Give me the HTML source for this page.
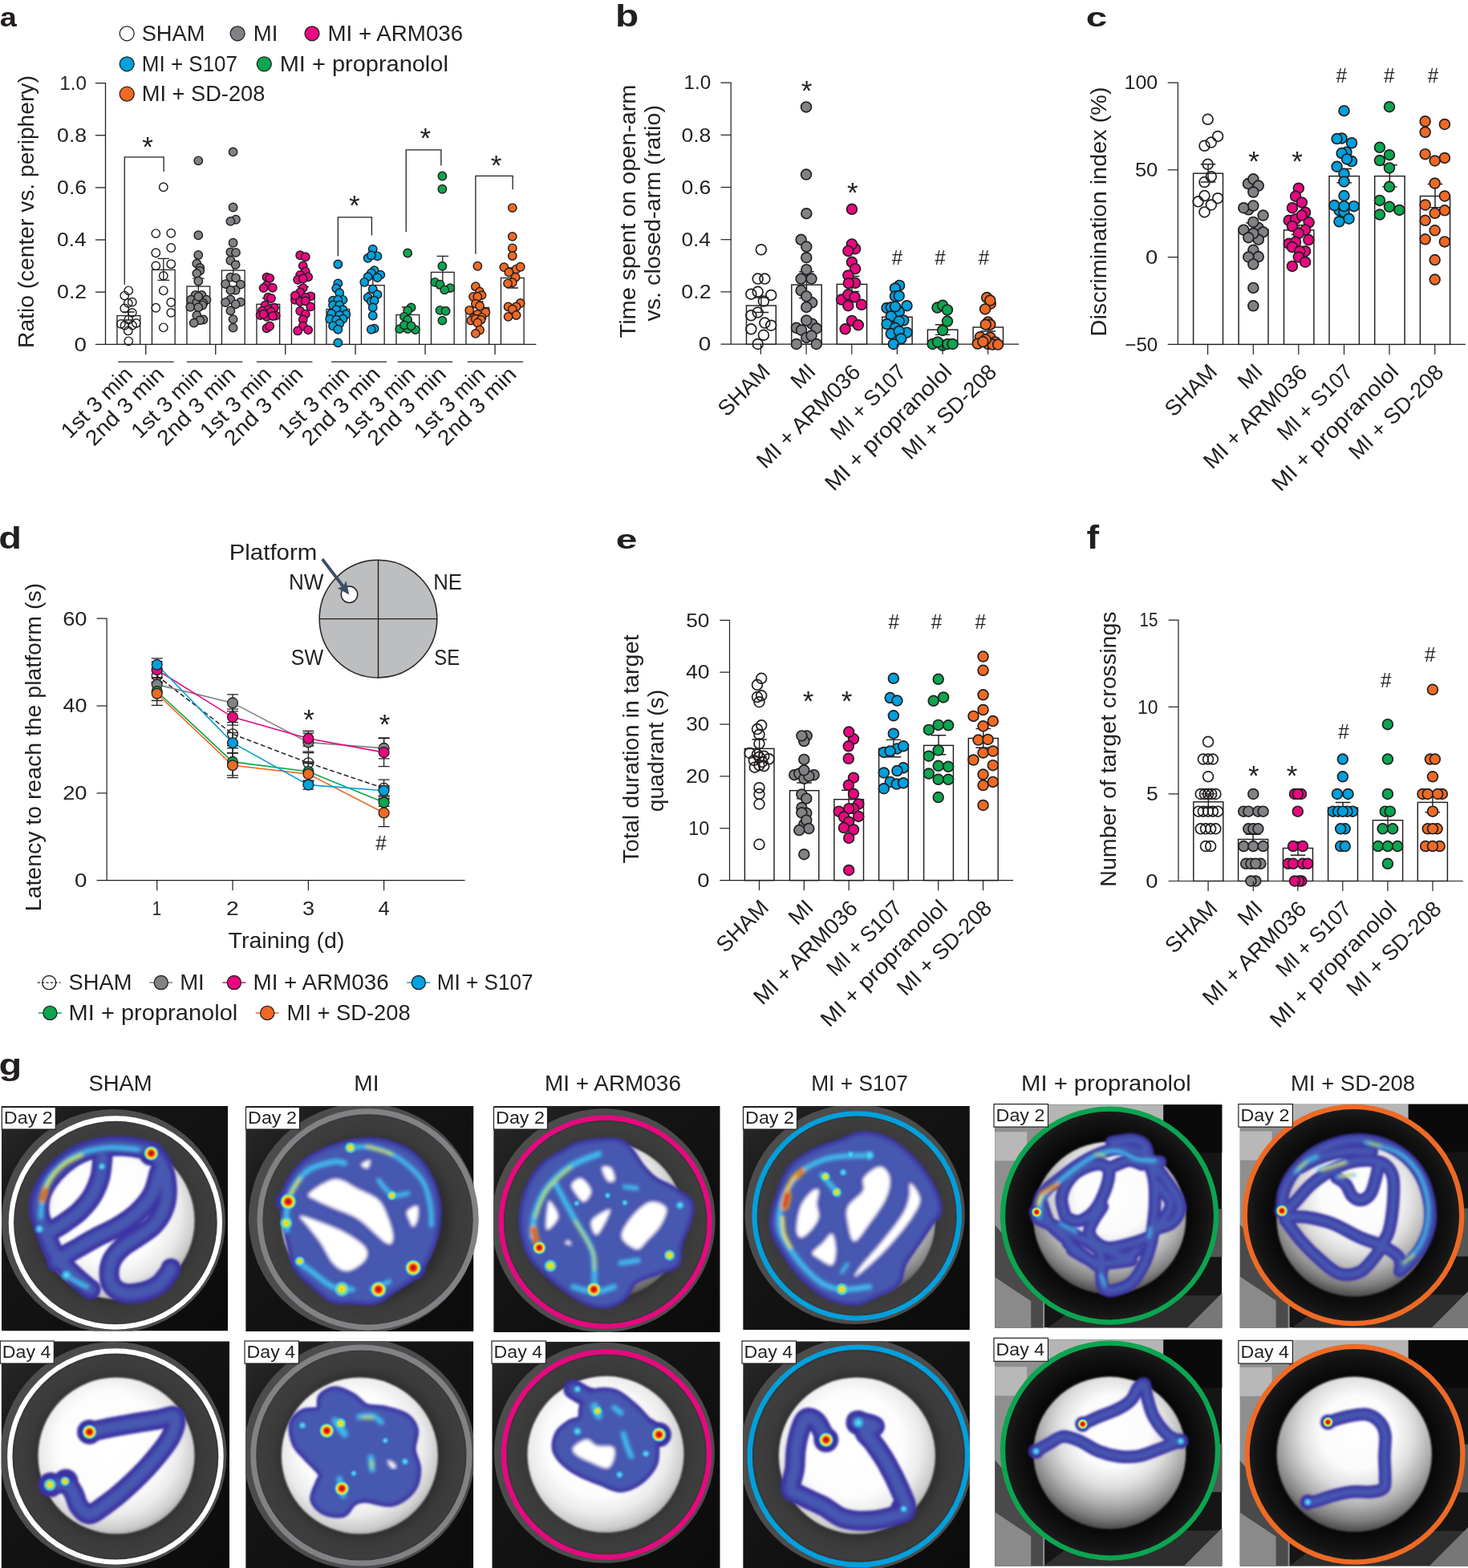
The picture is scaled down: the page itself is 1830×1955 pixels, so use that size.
<!DOCTYPE html>
<html lang="en">
<head>
<meta charset="utf-8">
<title>Figure</title>
<style>
html,body{margin:0;padding:0;background:#fff;}
body{width:1830px;height:1955px;overflow:hidden;}
svg{display:block;font-family:'Liberation Sans', sans-serif;}
text{white-space:pre;}
</style>
</head>
<body>
<svg width="1830" height="1955" viewBox="0 0 1830 1955">
<defs>

<filter id="bl" x="-20%" y="-20%" width="140%" height="140%"><feGaussianBlur stdDeviation="1.5"/></filter>
<filter id="blc" x="-20%" y="-20%" width="140%" height="140%"><feGaussianBlur stdDeviation="2.8"/></filter>
<filter id="bl2" x="-20%" y="-20%" width="140%" height="140%"><feGaussianBlur stdDeviation="2.0"/></filter>
<filter id="bl3" x="-30%" y="-30%" width="160%" height="160%"><feGaussianBlur stdDeviation="1.3"/></filter>
<filter id="bl6" x="-30%" y="-30%" width="160%" height="160%"><feGaussianBlur stdDeviation="6"/></filter>
<radialGradient id="disc2" cx="0.52" cy="0.36" r="0.66">
<stop offset="0" stop-color="#ffffff"/><stop offset="0.36" stop-color="#fbfbfb"/><stop offset="0.55" stop-color="#dedede"/><stop offset="0.72" stop-color="#b0b0b0"/><stop offset="0.86" stop-color="#808080"/><stop offset="1" stop-color="#3a3a3a"/>
</radialGradient>
<radialGradient id="disc" cx="0.46" cy="0.43" r="0.6">
<stop offset="0" stop-color="#ffffff"/><stop offset="0.55" stop-color="#fdfdfd"/><stop offset="0.75" stop-color="#ebebeb"/><stop offset="0.9" stop-color="#cdcdcd"/><stop offset="1" stop-color="#a0a0a0"/>
</radialGradient>
<radialGradient id="wallg" cx="0.5" cy="0.5" r="0.5">
<stop offset="0.7" stop-color="#2e2e2e"/><stop offset="0.8" stop-color="#3a3a3a"/><stop offset="0.94" stop-color="#3e3e3e"/><stop offset="1" stop-color="#2a2a2a"/>
</radialGradient>
<radialGradient id="wallk" cx="0.5" cy="0.5" r="0.5">
<stop offset="0.7" stop-color="#060606"/><stop offset="0.9" stop-color="#141414"/><stop offset="0.97" stop-color="#1c1c1c"/><stop offset="1" stop-color="#3a3a3a"/>
</radialGradient>
<radialGradient id="hot" cx="0.5" cy="0.5" r="0.5">
<stop offset="0" stop-color="#a50f15"/><stop offset="0.28" stop-color="#e8251a"/><stop offset="0.48" stop-color="#f9a01b"/><stop offset="0.62" stop-color="#f3ea2a"/><stop offset="0.78" stop-color="#5fd6d0" stop-opacity="0.9"/><stop offset="1" stop-color="#35b0e6" stop-opacity="0"/>
</radialGradient>
<radialGradient id="warm" cx="0.5" cy="0.5" r="0.5">
<stop offset="0" stop-color="#f7b21f"/><stop offset="0.22" stop-color="#f3e52a"/><stop offset="0.45" stop-color="#a8e060"/><stop offset="0.68" stop-color="#4fd0e0" stop-opacity="0.9"/><stop offset="1" stop-color="#35a0e6" stop-opacity="0"/>
</radialGradient>
<radialGradient id="cyan" cx="0.5" cy="0.5" r="0.5">
<stop offset="0" stop-color="#6fe4e4"/><stop offset="0.5" stop-color="#38b4ea" stop-opacity="0.85"/><stop offset="1" stop-color="#3a7fd8" stop-opacity="0"/>
</radialGradient>
<linearGradient id="bgA" x1="0" y1="0" x2="1" y2="1">
<stop offset="0" stop-color="#2c2c2c"/><stop offset="0.25" stop-color="#161616"/><stop offset="1" stop-color="#0b0b0b"/>
</linearGradient>

</defs>
<rect x="0" y="0" width="1830" height="1955" fill="#ffffff"/>
<text transform="translate(0.80 33.30)" x="-0.95" y="0" font-size="33.5" font-weight="700" textLength="21.11" lengthAdjust="spacingAndGlyphs" fill="#231f20">a</text>
<circle cx="158.20" cy="41.80" r="9.00" fill="#ffffff" stroke="#231f20" stroke-width="1.3" />
<text transform="translate(177.90 51.10)" x="-1.23" y="0" font-size="27.5" textLength="78.79" lengthAdjust="spacingAndGlyphs" fill="#231f20">SHAM</text>
<circle cx="296.10" cy="41.80" r="9.00" fill="#808285" stroke="#231f20" stroke-width="1.3" />
<text transform="translate(318.00 51.10)" x="-2.20" y="0" font-size="27.5" fill="#231f20">MI</text>
<circle cx="389.00" cy="41.80" r="9.00" fill="#e6097f" stroke="#231f20" stroke-width="1.3" />
<text transform="translate(410.70 51.10)" x="-2.22" y="0" font-size="27.5" textLength="168.65" lengthAdjust="spacingAndGlyphs" fill="#231f20">MI + ARM036</text>
<circle cx="158.20" cy="79.80" r="9.00" fill="#00a0dc" stroke="#231f20" stroke-width="1.3" />
<text transform="translate(178.90 88.60)" x="-2.08" y="0" font-size="27.5" textLength="119.17" lengthAdjust="spacingAndGlyphs" fill="#231f20">MI + S107</text>
<circle cx="329.30" cy="79.80" r="9.00" fill="#0ca550" stroke="#231f20" stroke-width="1.3" />
<text transform="translate(351.00 88.60)" x="-2.32" y="0" font-size="27.5" textLength="210.17" lengthAdjust="spacingAndGlyphs" fill="#231f20">MI + propranolol</text>
<circle cx="158.20" cy="117.20" r="9.00" fill="#ee6a25" stroke="#231f20" stroke-width="1.3" />
<text transform="translate(178.90 126.20)" x="-2.18" y="0" font-size="27.5" textLength="153.60" lengthAdjust="spacingAndGlyphs" fill="#231f20">MI + SD-208</text>
<path d="M118.90 103.60H131.50V429.30" stroke="#231f20" stroke-width="1.3" fill="none" />
<line x1="118.90" y1="429.30" x2="668.40" y2="429.30" stroke="#231f20" stroke-width="1.3" />
<text transform="translate(107.00 437.60)" x="-14.47" y="0" font-size="24" textLength="15.48" lengthAdjust="spacingAndGlyphs" fill="#231f20">0</text>
<line x1="118.90" y1="364.16" x2="131.50" y2="364.16" stroke="#231f20" stroke-width="1.3" />
<text transform="translate(107.00 372.46)" x="-35.94" y="0" font-size="24" textLength="37.14" lengthAdjust="spacingAndGlyphs" fill="#231f20">0.2</text>
<line x1="118.90" y1="299.02" x2="131.50" y2="299.02" stroke="#231f20" stroke-width="1.3" />
<text transform="translate(107.00 307.32)" x="-35.92" y="0" font-size="24" textLength="36.58" lengthAdjust="spacingAndGlyphs" fill="#231f20">0.4</text>
<line x1="118.90" y1="233.88" x2="131.50" y2="233.88" stroke="#231f20" stroke-width="1.3" />
<text transform="translate(107.00 242.18)" x="-35.93" y="0" font-size="24" textLength="37.00" lengthAdjust="spacingAndGlyphs" fill="#231f20">0.6</text>
<line x1="118.90" y1="168.74" x2="131.50" y2="168.74" stroke="#231f20" stroke-width="1.3" />
<text transform="translate(107.00 177.04)" x="-35.93" y="0" font-size="24" textLength="37.00" lengthAdjust="spacingAndGlyphs" fill="#231f20">0.8</text>
<text transform="translate(107.00 111.90)" x="-32.82" y="0" font-size="24" textLength="33.67" lengthAdjust="spacingAndGlyphs" fill="#231f20">1.0</text>
<text transform="translate(42.30 263.80) rotate(-90)" x="-170.15" y="0" font-size="27.5" textLength="339.75" lengthAdjust="spacingAndGlyphs" fill="#231f20">Ratio (center vs. periphery)</text>
<rect x="145.95" y="393.60" width="28.70" height="35.70" fill="#fff" stroke="#231f20" stroke-width="1.3" />
<rect x="189.45" y="336.40" width="28.70" height="92.90" fill="#fff" stroke="#231f20" stroke-width="1.3" />
<rect x="232.95" y="357.00" width="28.70" height="72.30" fill="#fff" stroke="#231f20" stroke-width="1.3" />
<rect x="276.45" y="337.10" width="28.70" height="92.20" fill="#fff" stroke="#231f20" stroke-width="1.3" />
<rect x="319.95" y="379.30" width="28.70" height="50.00" fill="#fff" stroke="#231f20" stroke-width="1.3" />
<rect x="363.45" y="366.50" width="28.70" height="62.80" fill="#fff" stroke="#231f20" stroke-width="1.3" />
<rect x="406.95" y="385.50" width="28.70" height="43.80" fill="#fff" stroke="#231f20" stroke-width="1.3" />
<rect x="450.45" y="355.70" width="28.70" height="73.60" fill="#fff" stroke="#231f20" stroke-width="1.3" />
<rect x="493.95" y="392.50" width="28.70" height="36.80" fill="#fff" stroke="#231f20" stroke-width="1.3" />
<rect x="537.45" y="339.40" width="28.70" height="89.90" fill="#fff" stroke="#231f20" stroke-width="1.3" />
<rect x="580.95" y="383.50" width="28.70" height="45.80" fill="#fff" stroke="#231f20" stroke-width="1.3" />
<rect x="624.45" y="346.50" width="28.70" height="82.80" fill="#fff" stroke="#231f20" stroke-width="1.3" />
<path d="M153.00 389.00H167.60M160.30 389.00V399.00M153.00 399.00H167.60" stroke="#231f20" stroke-width="1.3" fill="none" />
<path d="M196.50 322.40H211.10M203.80 322.40V349.30M196.50 349.30H211.10" stroke="#231f20" stroke-width="1.3" fill="none" />
<path d="M240.00 347.10H254.60M247.30 347.10V367.00M240.00 367.00H254.60" stroke="#231f20" stroke-width="1.3" fill="none" />
<path d="M283.50 325.60H298.10M290.80 325.60V348.50M283.50 348.50H298.10" stroke="#231f20" stroke-width="1.3" fill="none" />
<path d="M327.00 372.00H341.60M334.30 372.00V386.00M327.00 386.00H341.60" stroke="#231f20" stroke-width="1.3" fill="none" />
<path d="M370.50 357.50H385.10M377.80 357.50V375.50M370.50 375.50H385.10" stroke="#231f20" stroke-width="1.3" fill="none" />
<path d="M414.00 379.00H428.60M421.30 379.00V392.00M414.00 392.00H428.60" stroke="#231f20" stroke-width="1.3" fill="none" />
<path d="M457.50 346.50H472.10M464.80 346.50V364.50M457.50 364.50H472.10" stroke="#231f20" stroke-width="1.3" fill="none" />
<path d="M501.00 383.00H515.60M508.30 383.00V402.00M501.00 402.00H515.60" stroke="#231f20" stroke-width="1.3" fill="none" />
<path d="M544.50 319.30H559.10M551.80 319.30V359.50M544.50 359.50H559.10" stroke="#231f20" stroke-width="1.3" fill="none" />
<path d="M588.00 376.00H602.60M595.30 376.00V391.00M588.00 391.00H602.60" stroke="#231f20" stroke-width="1.3" fill="none" />
<path d="M631.50 334.00H646.10M638.80 334.00V359.00M631.50 359.00H646.10" stroke="#231f20" stroke-width="1.3" fill="none" />
<circle cx="160.27" cy="362.33" r="5.20" fill="none" stroke="#231f20" stroke-width="1.45" />
<circle cx="155.26" cy="368.59" r="5.20" fill="none" stroke="#231f20" stroke-width="1.45" />
<circle cx="164.75" cy="376.64" r="5.20" fill="none" stroke="#231f20" stroke-width="1.45" />
<circle cx="159.74" cy="377.90" r="5.20" fill="none" stroke="#231f20" stroke-width="1.45" />
<circle cx="155.26" cy="384.52" r="5.20" fill="none" stroke="#231f20" stroke-width="1.45" />
<circle cx="164.75" cy="389.89" r="5.20" fill="none" stroke="#231f20" stroke-width="1.45" />
<circle cx="160.27" cy="398.48" r="5.20" fill="none" stroke="#231f20" stroke-width="1.45" />
<circle cx="150.79" cy="403.85" r="5.20" fill="none" stroke="#231f20" stroke-width="1.45" />
<circle cx="155.44" cy="405.64" r="5.20" fill="none" stroke="#231f20" stroke-width="1.45" />
<circle cx="165.10" cy="405.64" r="5.20" fill="none" stroke="#231f20" stroke-width="1.45" />
<circle cx="169.76" cy="402.96" r="5.20" fill="none" stroke="#231f20" stroke-width="1.45" />
<circle cx="159.74" cy="412.44" r="5.20" fill="none" stroke="#231f20" stroke-width="1.45" />
<circle cx="160.27" cy="425.33" r="5.20" fill="none" stroke="#231f20" stroke-width="1.45" />
<circle cx="203.77" cy="233.28" r="5.20" fill="none" stroke="#231f20" stroke-width="1.45" />
<circle cx="194.28" cy="291.09" r="5.20" fill="none" stroke="#231f20" stroke-width="1.45" />
<circle cx="213.25" cy="290.73" r="5.20" fill="none" stroke="#231f20" stroke-width="1.45" />
<circle cx="213.25" cy="308.99" r="5.20" fill="none" stroke="#231f20" stroke-width="1.45" />
<circle cx="194.28" cy="315.25" r="5.20" fill="none" stroke="#231f20" stroke-width="1.45" />
<circle cx="194.28" cy="331.36" r="5.20" fill="none" stroke="#231f20" stroke-width="1.45" />
<circle cx="213.25" cy="329.21" r="5.20" fill="none" stroke="#231f20" stroke-width="1.45" />
<circle cx="203.77" cy="343.89" r="5.20" fill="none" stroke="#231f20" stroke-width="1.45" />
<circle cx="203.77" cy="362.33" r="5.20" fill="none" stroke="#231f20" stroke-width="1.45" />
<circle cx="213.25" cy="377.00" r="5.20" fill="none" stroke="#231f20" stroke-width="1.45" />
<circle cx="194.28" cy="383.80" r="5.20" fill="none" stroke="#231f20" stroke-width="1.45" />
<circle cx="213.25" cy="389.89" r="5.20" fill="none" stroke="#231f20" stroke-width="1.45" />
<circle cx="203.77" cy="408.32" r="5.20" fill="none" stroke="#231f20" stroke-width="1.45" />
<circle cx="247.26" cy="200.34" r="5.20" fill="#808285" stroke="#231f20" stroke-width="1.45" />
<circle cx="247.26" cy="293.24" r="5.20" fill="#808285" stroke="#231f20" stroke-width="1.45" />
<circle cx="247.26" cy="317.94" r="5.20" fill="#808285" stroke="#231f20" stroke-width="1.45" />
<circle cx="245.29" cy="328.68" r="5.20" fill="#808285" stroke="#231f20" stroke-width="1.45" />
<circle cx="249.23" cy="334.05" r="5.20" fill="#808285" stroke="#231f20" stroke-width="1.45" />
<circle cx="249.23" cy="337.62" r="5.20" fill="#808285" stroke="#231f20" stroke-width="1.45" />
<circle cx="245.29" cy="340.85" r="5.20" fill="#808285" stroke="#231f20" stroke-width="1.45" />
<circle cx="247.26" cy="350.51" r="5.20" fill="#808285" stroke="#231f20" stroke-width="1.45" />
<circle cx="243.50" cy="368.05" r="5.20" fill="#808285" stroke="#231f20" stroke-width="1.45" />
<circle cx="251.56" cy="368.05" r="5.20" fill="#808285" stroke="#231f20" stroke-width="1.45" />
<circle cx="238.13" cy="373.78" r="5.20" fill="#808285" stroke="#231f20" stroke-width="1.45" />
<circle cx="257.46" cy="373.78" r="5.20" fill="#808285" stroke="#231f20" stroke-width="1.45" />
<circle cx="245.29" cy="377.00" r="5.20" fill="#808285" stroke="#231f20" stroke-width="1.45" />
<circle cx="253.35" cy="377.90" r="5.20" fill="#808285" stroke="#231f20" stroke-width="1.45" />
<circle cx="237.24" cy="382.73" r="5.20" fill="#808285" stroke="#231f20" stroke-width="1.45" />
<circle cx="252.45" cy="380.58" r="5.20" fill="#808285" stroke="#231f20" stroke-width="1.45" />
<circle cx="247.26" cy="383.27" r="5.20" fill="#808285" stroke="#231f20" stroke-width="1.45" />
<circle cx="245.29" cy="393.11" r="5.20" fill="#808285" stroke="#231f20" stroke-width="1.45" />
<circle cx="253.35" cy="398.48" r="5.20" fill="#808285" stroke="#231f20" stroke-width="1.45" />
<circle cx="249.23" cy="399.38" r="5.20" fill="#808285" stroke="#231f20" stroke-width="1.45" />
<circle cx="241.71" cy="402.60" r="5.20" fill="#808285" stroke="#231f20" stroke-width="1.45" />
<circle cx="247.26" cy="369.84" r="5.20" fill="#808285" stroke="#231f20" stroke-width="1.45" />
<circle cx="290.57" cy="189.42" r="5.20" fill="#808285" stroke="#231f20" stroke-width="1.45" />
<circle cx="290.57" cy="258.51" r="5.20" fill="#808285" stroke="#231f20" stroke-width="1.45" />
<circle cx="293.98" cy="273.73" r="5.20" fill="#808285" stroke="#231f20" stroke-width="1.45" />
<circle cx="287.35" cy="275.87" r="5.20" fill="#808285" stroke="#231f20" stroke-width="1.45" />
<circle cx="290.57" cy="302.72" r="5.20" fill="#808285" stroke="#231f20" stroke-width="1.45" />
<circle cx="287.35" cy="314.36" r="5.20" fill="#808285" stroke="#231f20" stroke-width="1.45" />
<circle cx="293.98" cy="314.89" r="5.20" fill="#808285" stroke="#231f20" stroke-width="1.45" />
<circle cx="287.35" cy="324.74" r="5.20" fill="#808285" stroke="#231f20" stroke-width="1.45" />
<circle cx="293.62" cy="330.11" r="5.20" fill="#808285" stroke="#231f20" stroke-width="1.45" />
<circle cx="287.35" cy="345.68" r="5.20" fill="#808285" stroke="#231f20" stroke-width="1.45" />
<circle cx="293.98" cy="346.57" r="5.20" fill="#808285" stroke="#231f20" stroke-width="1.45" />
<circle cx="281.09" cy="354.09" r="5.20" fill="#808285" stroke="#231f20" stroke-width="1.45" />
<circle cx="299.88" cy="354.63" r="5.20" fill="#808285" stroke="#231f20" stroke-width="1.45" />
<circle cx="293.62" cy="361.79" r="5.20" fill="#808285" stroke="#231f20" stroke-width="1.45" />
<circle cx="287.35" cy="361.79" r="5.20" fill="#808285" stroke="#231f20" stroke-width="1.45" />
<circle cx="287.35" cy="373.42" r="5.20" fill="#808285" stroke="#231f20" stroke-width="1.45" />
<circle cx="281.09" cy="377.00" r="5.20" fill="#808285" stroke="#231f20" stroke-width="1.45" />
<circle cx="299.88" cy="376.64" r="5.20" fill="#808285" stroke="#231f20" stroke-width="1.45" />
<circle cx="293.62" cy="379.33" r="5.20" fill="#808285" stroke="#231f20" stroke-width="1.45" />
<circle cx="287.35" cy="387.38" r="5.20" fill="#808285" stroke="#231f20" stroke-width="1.45" />
<circle cx="290.57" cy="398.12" r="5.20" fill="#808285" stroke="#231f20" stroke-width="1.45" />
<circle cx="290.57" cy="408.68" r="5.20" fill="#808285" stroke="#231f20" stroke-width="1.45" />
<circle cx="332.46" cy="345.68" r="5.20" fill="#e6097f" stroke="#231f20" stroke-width="1.45" />
<circle cx="336.22" cy="346.93" r="5.20" fill="#e6097f" stroke="#231f20" stroke-width="1.45" />
<circle cx="332.46" cy="355.88" r="5.20" fill="#e6097f" stroke="#231f20" stroke-width="1.45" />
<circle cx="328.52" cy="359.10" r="5.20" fill="#e6097f" stroke="#231f20" stroke-width="1.45" />
<circle cx="339.80" cy="358.75" r="5.20" fill="#e6097f" stroke="#231f20" stroke-width="1.45" />
<circle cx="334.25" cy="370.74" r="5.20" fill="#e6097f" stroke="#231f20" stroke-width="1.45" />
<circle cx="338.01" cy="371.99" r="5.20" fill="#e6097f" stroke="#231f20" stroke-width="1.45" />
<circle cx="330.49" cy="380.58" r="5.20" fill="#e6097f" stroke="#231f20" stroke-width="1.45" />
<circle cx="341.94" cy="383.80" r="5.20" fill="#e6097f" stroke="#231f20" stroke-width="1.45" />
<circle cx="334.25" cy="385.95" r="5.20" fill="#e6097f" stroke="#231f20" stroke-width="1.45" />
<circle cx="326.73" cy="387.74" r="5.20" fill="#e6097f" stroke="#231f20" stroke-width="1.45" />
<circle cx="338.01" cy="388.64" r="5.20" fill="#e6097f" stroke="#231f20" stroke-width="1.45" />
<circle cx="324.58" cy="393.11" r="5.20" fill="#e6097f" stroke="#231f20" stroke-width="1.45" />
<circle cx="343.73" cy="393.47" r="5.20" fill="#e6097f" stroke="#231f20" stroke-width="1.45" />
<circle cx="332.46" cy="394.90" r="5.20" fill="#e6097f" stroke="#231f20" stroke-width="1.45" />
<circle cx="339.97" cy="394.01" r="5.20" fill="#e6097f" stroke="#231f20" stroke-width="1.45" />
<circle cx="328.52" cy="391.68" r="5.20" fill="#e6097f" stroke="#231f20" stroke-width="1.45" />
<circle cx="332.46" cy="409.22" r="5.20" fill="#e6097f" stroke="#231f20" stroke-width="1.45" />
<circle cx="336.22" cy="406.53" r="5.20" fill="#e6097f" stroke="#231f20" stroke-width="1.45" />
<circle cx="374.16" cy="318.29" r="5.20" fill="#e6097f" stroke="#231f20" stroke-width="1.45" />
<circle cx="380.78" cy="320.26" r="5.20" fill="#e6097f" stroke="#231f20" stroke-width="1.45" />
<circle cx="377.74" cy="331.36" r="5.20" fill="#e6097f" stroke="#231f20" stroke-width="1.45" />
<circle cx="380.78" cy="338.52" r="5.20" fill="#e6097f" stroke="#231f20" stroke-width="1.45" />
<circle cx="374.16" cy="342.99" r="5.20" fill="#e6097f" stroke="#231f20" stroke-width="1.45" />
<circle cx="384.18" cy="345.32" r="5.20" fill="#e6097f" stroke="#231f20" stroke-width="1.45" />
<circle cx="371.12" cy="348.72" r="5.20" fill="#e6097f" stroke="#231f20" stroke-width="1.45" />
<circle cx="377.74" cy="347.47" r="5.20" fill="#e6097f" stroke="#231f20" stroke-width="1.45" />
<circle cx="377.74" cy="359.10" r="5.20" fill="#e6097f" stroke="#231f20" stroke-width="1.45" />
<circle cx="374.16" cy="364.47" r="5.20" fill="#e6097f" stroke="#231f20" stroke-width="1.45" />
<circle cx="387.23" cy="369.31" r="5.20" fill="#e6097f" stroke="#231f20" stroke-width="1.45" />
<circle cx="380.78" cy="370.74" r="5.20" fill="#e6097f" stroke="#231f20" stroke-width="1.45" />
<circle cx="367.90" cy="373.78" r="5.20" fill="#e6097f" stroke="#231f20" stroke-width="1.45" />
<circle cx="374.16" cy="376.11" r="5.20" fill="#e6097f" stroke="#231f20" stroke-width="1.45" />
<circle cx="380.78" cy="375.21" r="5.20" fill="#e6097f" stroke="#231f20" stroke-width="1.45" />
<circle cx="367.90" cy="368.41" r="5.20" fill="#e6097f" stroke="#231f20" stroke-width="1.45" />
<circle cx="387.23" cy="382.37" r="5.20" fill="#e6097f" stroke="#231f20" stroke-width="1.45" />
<circle cx="374.16" cy="387.74" r="5.20" fill="#e6097f" stroke="#231f20" stroke-width="1.45" />
<circle cx="380.78" cy="391.68" r="5.20" fill="#e6097f" stroke="#231f20" stroke-width="1.45" />
<circle cx="377.74" cy="398.48" r="5.20" fill="#e6097f" stroke="#231f20" stroke-width="1.45" />
<circle cx="377.74" cy="406.53" r="5.20" fill="#e6097f" stroke="#231f20" stroke-width="1.45" />
<circle cx="371.12" cy="412.44" r="5.20" fill="#e6097f" stroke="#231f20" stroke-width="1.45" />
<circle cx="384.18" cy="411.37" r="5.20" fill="#e6097f" stroke="#231f20" stroke-width="1.45" />
<circle cx="421.33" cy="329.46" r="5.20" fill="#00a0dc" stroke="#231f20" stroke-width="1.45" />
<circle cx="421.33" cy="353.37" r="5.20" fill="#00a0dc" stroke="#231f20" stroke-width="1.45" />
<circle cx="419.23" cy="359.49" r="5.20" fill="#00a0dc" stroke="#231f20" stroke-width="1.45" />
<circle cx="423.25" cy="365.23" r="5.20" fill="#00a0dc" stroke="#231f20" stroke-width="1.45" />
<circle cx="415.02" cy="374.79" r="5.20" fill="#00a0dc" stroke="#231f20" stroke-width="1.45" />
<circle cx="427.45" cy="373.83" r="5.20" fill="#00a0dc" stroke="#231f20" stroke-width="1.45" />
<circle cx="421.33" cy="373.83" r="5.20" fill="#00a0dc" stroke="#231f20" stroke-width="1.45" />
<circle cx="415.02" cy="380.53" r="5.20" fill="#00a0dc" stroke="#231f20" stroke-width="1.45" />
<circle cx="423.25" cy="380.53" r="5.20" fill="#00a0dc" stroke="#231f20" stroke-width="1.45" />
<circle cx="427.45" cy="386.26" r="5.20" fill="#00a0dc" stroke="#231f20" stroke-width="1.45" />
<circle cx="419.23" cy="386.26" r="5.20" fill="#00a0dc" stroke="#231f20" stroke-width="1.45" />
<circle cx="431.28" cy="392.00" r="5.20" fill="#00a0dc" stroke="#231f20" stroke-width="1.45" />
<circle cx="413.11" cy="391.04" r="5.20" fill="#00a0dc" stroke="#231f20" stroke-width="1.45" />
<circle cx="423.25" cy="392.96" r="5.20" fill="#00a0dc" stroke="#231f20" stroke-width="1.45" />
<circle cx="411.20" cy="397.74" r="5.20" fill="#00a0dc" stroke="#231f20" stroke-width="1.45" />
<circle cx="427.45" cy="397.74" r="5.20" fill="#00a0dc" stroke="#231f20" stroke-width="1.45" />
<circle cx="419.23" cy="398.69" r="5.20" fill="#00a0dc" stroke="#231f20" stroke-width="1.45" />
<circle cx="423.25" cy="403.47" r="5.20" fill="#00a0dc" stroke="#231f20" stroke-width="1.45" />
<circle cx="415.02" cy="406.34" r="5.20" fill="#00a0dc" stroke="#231f20" stroke-width="1.45" />
<circle cx="421.33" cy="410.74" r="5.20" fill="#00a0dc" stroke="#231f20" stroke-width="1.45" />
<circle cx="421.33" cy="427.38" r="5.20" fill="#00a0dc" stroke="#231f20" stroke-width="1.45" />
<circle cx="464.74" cy="310.72" r="5.20" fill="#00a0dc" stroke="#231f20" stroke-width="1.45" />
<circle cx="470.48" cy="319.33" r="5.20" fill="#00a0dc" stroke="#231f20" stroke-width="1.45" />
<circle cx="458.62" cy="321.81" r="5.20" fill="#00a0dc" stroke="#231f20" stroke-width="1.45" />
<circle cx="462.83" cy="318.37" r="5.20" fill="#00a0dc" stroke="#231f20" stroke-width="1.45" />
<circle cx="466.66" cy="337.11" r="5.20" fill="#00a0dc" stroke="#231f20" stroke-width="1.45" />
<circle cx="462.83" cy="340.37" r="5.20" fill="#00a0dc" stroke="#231f20" stroke-width="1.45" />
<circle cx="474.31" cy="342.66" r="5.20" fill="#00a0dc" stroke="#231f20" stroke-width="1.45" />
<circle cx="458.62" cy="345.15" r="5.20" fill="#00a0dc" stroke="#231f20" stroke-width="1.45" />
<circle cx="470.48" cy="346.10" r="5.20" fill="#00a0dc" stroke="#231f20" stroke-width="1.45" />
<circle cx="454.23" cy="351.84" r="5.20" fill="#00a0dc" stroke="#231f20" stroke-width="1.45" />
<circle cx="464.74" cy="360.45" r="5.20" fill="#00a0dc" stroke="#231f20" stroke-width="1.45" />
<circle cx="470.48" cy="367.14" r="5.20" fill="#00a0dc" stroke="#231f20" stroke-width="1.45" />
<circle cx="458.62" cy="370.96" r="5.20" fill="#00a0dc" stroke="#231f20" stroke-width="1.45" />
<circle cx="462.83" cy="375.74" r="5.20" fill="#00a0dc" stroke="#231f20" stroke-width="1.45" />
<circle cx="466.66" cy="374.79" r="5.20" fill="#00a0dc" stroke="#231f20" stroke-width="1.45" />
<circle cx="464.74" cy="383.39" r="5.20" fill="#00a0dc" stroke="#231f20" stroke-width="1.45" />
<circle cx="464.74" cy="393.53" r="5.20" fill="#00a0dc" stroke="#231f20" stroke-width="1.45" />
<circle cx="466.66" cy="409.59" r="5.20" fill="#00a0dc" stroke="#231f20" stroke-width="1.45" />
<circle cx="462.83" cy="410.74" r="5.20" fill="#00a0dc" stroke="#231f20" stroke-width="1.45" />
<circle cx="508.16" cy="315.50" r="5.20" fill="#0ca550" stroke="#231f20" stroke-width="1.45" />
<circle cx="512.55" cy="383.39" r="5.20" fill="#0ca550" stroke="#231f20" stroke-width="1.45" />
<circle cx="508.16" cy="387.22" r="5.20" fill="#0ca550" stroke="#231f20" stroke-width="1.45" />
<circle cx="503.95" cy="394.87" r="5.20" fill="#0ca550" stroke="#231f20" stroke-width="1.45" />
<circle cx="508.16" cy="398.69" r="5.20" fill="#0ca550" stroke="#231f20" stroke-width="1.45" />
<circle cx="498.21" cy="410.17" r="5.20" fill="#0ca550" stroke="#231f20" stroke-width="1.45" />
<circle cx="508.16" cy="410.17" r="5.20" fill="#0ca550" stroke="#231f20" stroke-width="1.45" />
<circle cx="517.91" cy="411.12" r="5.20" fill="#0ca550" stroke="#231f20" stroke-width="1.45" />
<circle cx="503.95" cy="405.39" r="5.20" fill="#0ca550" stroke="#231f20" stroke-width="1.45" />
<circle cx="512.55" cy="406.34" r="5.20" fill="#0ca550" stroke="#231f20" stroke-width="1.45" />
<circle cx="551.38" cy="219.50" r="5.20" fill="#0ca550" stroke="#231f20" stroke-width="1.45" />
<circle cx="551.38" cy="235.76" r="5.20" fill="#0ca550" stroke="#231f20" stroke-width="1.45" />
<circle cx="551.38" cy="331.76" r="5.20" fill="#0ca550" stroke="#231f20" stroke-width="1.45" />
<circle cx="542.20" cy="351.84" r="5.20" fill="#0ca550" stroke="#231f20" stroke-width="1.45" />
<circle cx="548.51" cy="354.71" r="5.20" fill="#0ca550" stroke="#231f20" stroke-width="1.45" />
<circle cx="561.32" cy="359.11" r="5.20" fill="#0ca550" stroke="#231f20" stroke-width="1.45" />
<circle cx="554.25" cy="361.40" r="5.20" fill="#0ca550" stroke="#231f20" stroke-width="1.45" />
<circle cx="548.51" cy="386.84" r="5.20" fill="#0ca550" stroke="#231f20" stroke-width="1.45" />
<circle cx="555.58" cy="387.79" r="5.20" fill="#0ca550" stroke="#231f20" stroke-width="1.45" />
<circle cx="551.38" cy="399.65" r="5.20" fill="#0ca550" stroke="#231f20" stroke-width="1.45" />
<circle cx="595.36" cy="331.76" r="5.20" fill="#ee6a25" stroke="#231f20" stroke-width="1.45" />
<circle cx="592.88" cy="357.19" r="5.20" fill="#ee6a25" stroke="#231f20" stroke-width="1.45" />
<circle cx="598.04" cy="363.70" r="5.20" fill="#ee6a25" stroke="#231f20" stroke-width="1.45" />
<circle cx="600.53" cy="368.10" r="5.20" fill="#ee6a25" stroke="#231f20" stroke-width="1.45" />
<circle cx="590.01" cy="370.01" r="5.20" fill="#ee6a25" stroke="#231f20" stroke-width="1.45" />
<circle cx="595.36" cy="370.01" r="5.20" fill="#ee6a25" stroke="#231f20" stroke-width="1.45" />
<circle cx="592.88" cy="378.61" r="5.20" fill="#ee6a25" stroke="#231f20" stroke-width="1.45" />
<circle cx="598.04" cy="381.48" r="5.20" fill="#ee6a25" stroke="#231f20" stroke-width="1.45" />
<circle cx="585.23" cy="386.84" r="5.20" fill="#ee6a25" stroke="#231f20" stroke-width="1.45" />
<circle cx="605.31" cy="389.51" r="5.20" fill="#ee6a25" stroke="#231f20" stroke-width="1.45" />
<circle cx="595.36" cy="392.00" r="5.20" fill="#ee6a25" stroke="#231f20" stroke-width="1.45" />
<circle cx="590.01" cy="396.78" r="5.20" fill="#ee6a25" stroke="#231f20" stroke-width="1.45" />
<circle cx="600.53" cy="395.83" r="5.20" fill="#ee6a25" stroke="#231f20" stroke-width="1.45" />
<circle cx="587.14" cy="399.65" r="5.20" fill="#ee6a25" stroke="#231f20" stroke-width="1.45" />
<circle cx="592.88" cy="397.74" r="5.20" fill="#ee6a25" stroke="#231f20" stroke-width="1.45" />
<circle cx="599.57" cy="398.69" r="5.20" fill="#ee6a25" stroke="#231f20" stroke-width="1.45" />
<circle cx="595.36" cy="402.52" r="5.20" fill="#ee6a25" stroke="#231f20" stroke-width="1.45" />
<circle cx="598.04" cy="411.51" r="5.20" fill="#ee6a25" stroke="#231f20" stroke-width="1.45" />
<circle cx="592.88" cy="415.91" r="5.20" fill="#ee6a25" stroke="#231f20" stroke-width="1.45" />
<circle cx="638.77" cy="259.09" r="5.20" fill="#ee6a25" stroke="#231f20" stroke-width="1.45" />
<circle cx="638.77" cy="294.85" r="5.20" fill="#ee6a25" stroke="#231f20" stroke-width="1.45" />
<circle cx="638.77" cy="309.38" r="5.20" fill="#ee6a25" stroke="#231f20" stroke-width="1.45" />
<circle cx="638.77" cy="318.95" r="5.20" fill="#ee6a25" stroke="#231f20" stroke-width="1.45" />
<circle cx="628.26" cy="333.10" r="5.20" fill="#ee6a25" stroke="#231f20" stroke-width="1.45" />
<circle cx="643.56" cy="335.58" r="5.20" fill="#ee6a25" stroke="#231f20" stroke-width="1.45" />
<circle cx="648.72" cy="332.72" r="5.20" fill="#ee6a25" stroke="#231f20" stroke-width="1.45" />
<circle cx="634.38" cy="339.41" r="5.20" fill="#ee6a25" stroke="#231f20" stroke-width="1.45" />
<circle cx="642.60" cy="345.72" r="5.20" fill="#ee6a25" stroke="#231f20" stroke-width="1.45" />
<circle cx="638.77" cy="352.22" r="5.20" fill="#ee6a25" stroke="#231f20" stroke-width="1.45" />
<circle cx="633.04" cy="353.37" r="5.20" fill="#ee6a25" stroke="#231f20" stroke-width="1.45" />
<circle cx="648.72" cy="378.04" r="5.20" fill="#ee6a25" stroke="#231f20" stroke-width="1.45" />
<circle cx="633.61" cy="382.44" r="5.20" fill="#ee6a25" stroke="#231f20" stroke-width="1.45" />
<circle cx="643.56" cy="382.44" r="5.20" fill="#ee6a25" stroke="#231f20" stroke-width="1.45" />
<circle cx="638.77" cy="385.69" r="5.20" fill="#ee6a25" stroke="#231f20" stroke-width="1.45" />
<circle cx="643.56" cy="392.96" r="5.20" fill="#ee6a25" stroke="#231f20" stroke-width="1.45" />
<circle cx="633.61" cy="394.87" r="5.20" fill="#ee6a25" stroke="#231f20" stroke-width="1.45" />
<path d="M155.26 354.63V195.87H204.12V214.12" stroke="#231f20" stroke-width="1.3" fill="none" />
<path d="M421.33 319.33V270.94H463.41V293.51" stroke="#231f20" stroke-width="1.3" fill="none" />
<path d="M506.24 289.30V186.80H549.85V206.50" stroke="#231f20" stroke-width="1.3" fill="none" />
<path d="M592.88 316.84V219.31H639.16V236.14" stroke="#231f20" stroke-width="1.3" fill="none" />
<text transform="translate(184.08 194.77)" x="-6.83" y="0" font-size="35" fill="#231f20">*</text>
<text transform="translate(441.80 268.24)" x="-6.83" y="0" font-size="35" fill="#231f20">*</text>
<text transform="translate(530.34 184.09)" x="-6.83" y="0" font-size="35" fill="#231f20">*</text>
<text transform="translate(618.69 217.56)" x="-6.83" y="0" font-size="35" fill="#231f20">*</text>
<line x1="181.75" y1="429.30" x2="181.75" y2="442.00" stroke="#231f20" stroke-width="1.3" />
<line x1="268.75" y1="429.30" x2="268.75" y2="442.00" stroke="#231f20" stroke-width="1.3" />
<line x1="355.75" y1="429.30" x2="355.75" y2="442.00" stroke="#231f20" stroke-width="1.3" />
<line x1="443.05" y1="429.30" x2="443.05" y2="442.00" stroke="#231f20" stroke-width="1.3" />
<line x1="530.05" y1="429.30" x2="530.05" y2="442.00" stroke="#231f20" stroke-width="1.3" />
<line x1="617.05" y1="429.30" x2="617.05" y2="442.00" stroke="#231f20" stroke-width="1.3" />
<line x1="147.20" y1="451.20" x2="216.70" y2="451.20" stroke="#231f20" stroke-width="1.3" />
<line x1="232.90" y1="451.20" x2="302.20" y2="451.20" stroke="#231f20" stroke-width="1.3" />
<line x1="319.90" y1="451.20" x2="389.40" y2="451.20" stroke="#231f20" stroke-width="1.3" />
<line x1="413.10" y1="451.20" x2="482.00" y2="451.20" stroke="#231f20" stroke-width="1.3" />
<line x1="495.70" y1="451.20" x2="564.20" y2="451.20" stroke="#231f20" stroke-width="1.3" />
<line x1="582.90" y1="451.20" x2="652.20" y2="451.20" stroke="#231f20" stroke-width="1.3" />
<text transform="translate(165.60 469.50) rotate(-45)" x="-111.09" y="0" font-size="27" textLength="112.81" lengthAdjust="spacingAndGlyphs" fill="#231f20">1st 3 min</text>
<text transform="translate(204.90 469.50) rotate(-45)" x="-123.93" y="0" font-size="27" textLength="125.69" lengthAdjust="spacingAndGlyphs" fill="#231f20">2nd 3 min</text>
<text transform="translate(253.00 469.50) rotate(-45)" x="-111.09" y="0" font-size="27" textLength="112.81" lengthAdjust="spacingAndGlyphs" fill="#231f20">1st 3 min</text>
<text transform="translate(294.10 469.50) rotate(-45)" x="-123.93" y="0" font-size="27" textLength="125.69" lengthAdjust="spacingAndGlyphs" fill="#231f20">2nd 3 min</text>
<text transform="translate(338.70 469.50) rotate(-45)" x="-111.09" y="0" font-size="27" textLength="112.81" lengthAdjust="spacingAndGlyphs" fill="#231f20">1st 3 min</text>
<text transform="translate(378.00 469.50) rotate(-45)" x="-123.93" y="0" font-size="27" textLength="125.69" lengthAdjust="spacingAndGlyphs" fill="#231f20">2nd 3 min</text>
<text transform="translate(435.90 469.50) rotate(-45)" x="-111.09" y="0" font-size="27" textLength="112.81" lengthAdjust="spacingAndGlyphs" fill="#231f20">1st 3 min</text>
<text transform="translate(474.30 469.50) rotate(-45)" x="-123.93" y="0" font-size="27" textLength="125.69" lengthAdjust="spacingAndGlyphs" fill="#231f20">2nd 3 min</text>
<text transform="translate(518.00 469.50) rotate(-45)" x="-111.09" y="0" font-size="27" textLength="112.81" lengthAdjust="spacingAndGlyphs" fill="#231f20">1st 3 min</text>
<text transform="translate(556.50 469.50) rotate(-45)" x="-123.93" y="0" font-size="27" textLength="125.69" lengthAdjust="spacingAndGlyphs" fill="#231f20">2nd 3 min</text>
<text transform="translate(605.50 469.50) rotate(-45)" x="-111.09" y="0" font-size="27" textLength="112.81" lengthAdjust="spacingAndGlyphs" fill="#231f20">1st 3 min</text>
<text transform="translate(643.90 469.50) rotate(-45)" x="-123.93" y="0" font-size="27" textLength="125.69" lengthAdjust="spacingAndGlyphs" fill="#231f20">2nd 3 min</text>
<text transform="translate(770.00 32.80)" x="-3.11" y="0" font-size="38.5" font-weight="700" textLength="29.27" lengthAdjust="spacingAndGlyphs" fill="#231f20">b</text>
<path d="M898.50 103.10H911.20V429.10" stroke="#231f20" stroke-width="1.2" fill="none" />
<line x1="898.50" y1="429.10" x2="1270.20" y2="429.10" stroke="#231f20" stroke-width="1.2" />
<text transform="translate(885.30 437.40)" x="-14.47" y="0" font-size="24" textLength="15.48" lengthAdjust="spacingAndGlyphs" fill="#231f20">0</text>
<line x1="898.50" y1="363.90" x2="911.20" y2="363.90" stroke="#231f20" stroke-width="1.2" />
<text transform="translate(885.30 372.20)" x="-35.94" y="0" font-size="24" textLength="37.14" lengthAdjust="spacingAndGlyphs" fill="#231f20">0.2</text>
<line x1="898.50" y1="298.70" x2="911.20" y2="298.70" stroke="#231f20" stroke-width="1.2" />
<text transform="translate(885.30 307.00)" x="-35.92" y="0" font-size="24" textLength="36.58" lengthAdjust="spacingAndGlyphs" fill="#231f20">0.4</text>
<line x1="898.50" y1="233.50" x2="911.20" y2="233.50" stroke="#231f20" stroke-width="1.2" />
<text transform="translate(885.30 241.80)" x="-35.93" y="0" font-size="24" textLength="37.00" lengthAdjust="spacingAndGlyphs" fill="#231f20">0.6</text>
<line x1="898.50" y1="168.30" x2="911.20" y2="168.30" stroke="#231f20" stroke-width="1.2" />
<text transform="translate(885.30 176.60)" x="-35.93" y="0" font-size="24" textLength="37.00" lengthAdjust="spacingAndGlyphs" fill="#231f20">0.8</text>
<text transform="translate(885.30 111.40)" x="-32.82" y="0" font-size="24" textLength="33.67" lengthAdjust="spacingAndGlyphs" fill="#231f20">1.0</text>
<rect x="930.50" y="381.00" width="36.80" height="48.10" fill="#fff" stroke="#231f20" stroke-width="1.45" />
<rect x="986.80" y="355.10" width="37.40" height="74.00" fill="#fff" stroke="#231f20" stroke-width="1.45" />
<rect x="1043.30" y="354.40" width="37.30" height="74.70" fill="#fff" stroke="#231f20" stroke-width="1.45" />
<rect x="1099.70" y="395.30" width="37.40" height="33.80" fill="#fff" stroke="#231f20" stroke-width="1.45" />
<rect x="1156.40" y="411.10" width="37.40" height="18.00" fill="#fff" stroke="#231f20" stroke-width="1.45" />
<rect x="1213.10" y="408.00" width="37.40" height="21.10" fill="#fff" stroke="#231f20" stroke-width="1.45" />
<path d="M939.60 371.05H958.20M948.90 371.05V389.53M939.60 389.53H958.20" stroke="#231f20" stroke-width="1.45" fill="none" />
<path d="M996.20 338.66H1014.80M1005.50 338.66V371.47M996.20 371.47H1014.80" stroke="#231f20" stroke-width="1.45" fill="none" />
<path d="M1052.65 344.48H1071.25M1061.95 344.48V363.58M1052.65 363.58H1071.25" stroke="#231f20" stroke-width="1.45" fill="none" />
<path d="M1109.10 389.53H1127.70M1118.40 389.53V401.16M1109.10 401.16H1127.70" stroke="#231f20" stroke-width="1.45" fill="none" />
<path d="M1165.80 404.69H1184.40M1175.10 404.69V417.36M1165.80 417.36H1184.40" stroke="#231f20" stroke-width="1.45" fill="none" />
<path d="M1222.50 403.24H1241.10M1231.80 403.24V413.00M1222.50 413.00H1241.10" stroke="#231f20" stroke-width="1.45" fill="none" />
<circle cx="948.80" cy="311.25" r="6.40" fill="none" stroke="#231f20" stroke-width="1.7" />
<circle cx="944.64" cy="347.59" r="6.40" fill="none" stroke="#231f20" stroke-width="1.7" />
<circle cx="953.36" cy="347.59" r="6.40" fill="none" stroke="#231f20" stroke-width="1.7" />
<circle cx="944.64" cy="363.79" r="6.40" fill="none" stroke="#231f20" stroke-width="1.7" />
<circle cx="936.34" cy="366.69" r="6.40" fill="none" stroke="#231f20" stroke-width="1.7" />
<circle cx="961.25" cy="367.94" r="6.40" fill="none" stroke="#231f20" stroke-width="1.7" />
<circle cx="951.91" cy="375.62" r="6.40" fill="none" stroke="#231f20" stroke-width="1.7" />
<circle cx="944.64" cy="389.53" r="6.40" fill="none" stroke="#231f20" stroke-width="1.7" />
<circle cx="936.34" cy="393.27" r="6.40" fill="none" stroke="#231f20" stroke-width="1.7" />
<circle cx="953.36" cy="402.62" r="6.40" fill="none" stroke="#231f20" stroke-width="1.7" />
<circle cx="961.25" cy="405.73" r="6.40" fill="none" stroke="#231f20" stroke-width="1.7" />
<circle cx="936.34" cy="410.30" r="6.40" fill="none" stroke="#231f20" stroke-width="1.7" />
<circle cx="951.91" cy="417.77" r="6.40" fill="none" stroke="#231f20" stroke-width="1.7" />
<circle cx="944.64" cy="428.99" r="6.40" fill="none" stroke="#231f20" stroke-width="1.7" />
<circle cx="1005.00" cy="133.40" r="6.40" fill="#808285" stroke="#231f20" stroke-width="1.7" />
<circle cx="1005.00" cy="217.60" r="6.40" fill="#808285" stroke="#231f20" stroke-width="1.7" />
<circle cx="1005.30" cy="266.20" r="6.40" fill="#808285" stroke="#231f20" stroke-width="1.7" />
<circle cx="998.63" cy="298.80" r="6.40" fill="#808285" stroke="#231f20" stroke-width="1.7" />
<circle cx="1005.27" cy="307.52" r="6.40" fill="#808285" stroke="#231f20" stroke-width="1.7" />
<circle cx="1005.27" cy="321.22" r="6.40" fill="#808285" stroke="#231f20" stroke-width="1.7" />
<circle cx="1005.27" cy="336.17" r="6.40" fill="#808285" stroke="#231f20" stroke-width="1.7" />
<circle cx="998.63" cy="347.59" r="6.40" fill="#808285" stroke="#231f20" stroke-width="1.7" />
<circle cx="1011.50" cy="347.59" r="6.40" fill="#808285" stroke="#231f20" stroke-width="1.7" />
<circle cx="998.63" cy="362.13" r="6.40" fill="#808285" stroke="#231f20" stroke-width="1.7" />
<circle cx="1012.13" cy="377.28" r="6.40" fill="#808285" stroke="#231f20" stroke-width="1.7" />
<circle cx="1005.27" cy="369.39" r="6.40" fill="#808285" stroke="#231f20" stroke-width="1.7" />
<circle cx="1005.27" cy="382.89" r="6.40" fill="#808285" stroke="#231f20" stroke-width="1.7" />
<circle cx="1012.13" cy="403.65" r="6.40" fill="#808285" stroke="#231f20" stroke-width="1.7" />
<circle cx="1005.27" cy="399.50" r="6.40" fill="#808285" stroke="#231f20" stroke-width="1.7" />
<circle cx="992.82" cy="408.85" r="6.40" fill="#808285" stroke="#231f20" stroke-width="1.7" />
<circle cx="1017.73" cy="409.47" r="6.40" fill="#808285" stroke="#231f20" stroke-width="1.7" />
<circle cx="999.04" cy="411.54" r="6.40" fill="#808285" stroke="#231f20" stroke-width="1.7" />
<circle cx="1005.27" cy="420.89" r="6.40" fill="#808285" stroke="#231f20" stroke-width="1.7" />
<circle cx="1011.50" cy="418.60" r="6.40" fill="#808285" stroke="#231f20" stroke-width="1.7" />
<circle cx="992.82" cy="428.99" r="6.40" fill="#808285" stroke="#231f20" stroke-width="1.7" />
<circle cx="1017.73" cy="428.99" r="6.40" fill="#808285" stroke="#231f20" stroke-width="1.7" />
<circle cx="1061.96" cy="260.80" r="6.40" fill="#e6097f" stroke="#231f20" stroke-width="1.7" />
<circle cx="1066.11" cy="310.22" r="6.40" fill="#e6097f" stroke="#231f20" stroke-width="1.7" />
<circle cx="1061.96" cy="304.40" r="6.40" fill="#e6097f" stroke="#231f20" stroke-width="1.7" />
<circle cx="1057.39" cy="312.92" r="6.40" fill="#e6097f" stroke="#231f20" stroke-width="1.7" />
<circle cx="1061.96" cy="326.83" r="6.40" fill="#e6097f" stroke="#231f20" stroke-width="1.7" />
<circle cx="1066.11" cy="335.13" r="6.40" fill="#e6097f" stroke="#231f20" stroke-width="1.7" />
<circle cx="1057.39" cy="343.44" r="6.40" fill="#e6097f" stroke="#231f20" stroke-width="1.7" />
<circle cx="1066.11" cy="352.78" r="6.40" fill="#e6097f" stroke="#231f20" stroke-width="1.7" />
<circle cx="1057.81" cy="353.20" r="6.40" fill="#e6097f" stroke="#231f20" stroke-width="1.7" />
<circle cx="1049.09" cy="373.55" r="6.40" fill="#e6097f" stroke="#231f20" stroke-width="1.7" />
<circle cx="1057.39" cy="367.32" r="6.40" fill="#e6097f" stroke="#231f20" stroke-width="1.7" />
<circle cx="1065.49" cy="370.43" r="6.40" fill="#e6097f" stroke="#231f20" stroke-width="1.7" />
<circle cx="1074.00" cy="379.78" r="6.40" fill="#e6097f" stroke="#231f20" stroke-width="1.7" />
<circle cx="1057.39" cy="381.23" r="6.40" fill="#e6097f" stroke="#231f20" stroke-width="1.7" />
<circle cx="1061.96" cy="399.92" r="6.40" fill="#e6097f" stroke="#231f20" stroke-width="1.7" />
<circle cx="1069.85" cy="405.32" r="6.40" fill="#e6097f" stroke="#231f20" stroke-width="1.7" />
<circle cx="1053.65" cy="410.30" r="6.40" fill="#e6097f" stroke="#231f20" stroke-width="1.7" />
<circle cx="1121.14" cy="355.90" r="6.40" fill="#00a0dc" stroke="#231f20" stroke-width="1.7" />
<circle cx="1115.95" cy="359.43" r="6.40" fill="#00a0dc" stroke="#231f20" stroke-width="1.7" />
<circle cx="1115.95" cy="369.39" r="6.40" fill="#00a0dc" stroke="#231f20" stroke-width="1.7" />
<circle cx="1120.72" cy="368.98" r="6.40" fill="#00a0dc" stroke="#231f20" stroke-width="1.7" />
<circle cx="1130.48" cy="381.23" r="6.40" fill="#00a0dc" stroke="#231f20" stroke-width="1.7" />
<circle cx="1105.56" cy="383.93" r="6.40" fill="#00a0dc" stroke="#231f20" stroke-width="1.7" />
<circle cx="1110.76" cy="383.31" r="6.40" fill="#00a0dc" stroke="#231f20" stroke-width="1.7" />
<circle cx="1120.72" cy="388.70" r="6.40" fill="#00a0dc" stroke="#231f20" stroke-width="1.7" />
<circle cx="1115.95" cy="382.27" r="6.40" fill="#00a0dc" stroke="#231f20" stroke-width="1.7" />
<circle cx="1126.33" cy="399.50" r="6.40" fill="#00a0dc" stroke="#231f20" stroke-width="1.7" />
<circle cx="1110.76" cy="394.31" r="6.40" fill="#00a0dc" stroke="#231f20" stroke-width="1.7" />
<circle cx="1120.72" cy="400.54" r="6.40" fill="#00a0dc" stroke="#231f20" stroke-width="1.7" />
<circle cx="1105.56" cy="404.07" r="6.40" fill="#00a0dc" stroke="#231f20" stroke-width="1.7" />
<circle cx="1115.95" cy="408.85" r="6.40" fill="#00a0dc" stroke="#231f20" stroke-width="1.7" />
<circle cx="1130.48" cy="414.66" r="6.40" fill="#00a0dc" stroke="#231f20" stroke-width="1.7" />
<circle cx="1110.76" cy="416.11" r="6.40" fill="#00a0dc" stroke="#231f20" stroke-width="1.7" />
<circle cx="1120.72" cy="413.00" r="6.40" fill="#00a0dc" stroke="#231f20" stroke-width="1.7" />
<circle cx="1123.21" cy="422.34" r="6.40" fill="#00a0dc" stroke="#231f20" stroke-width="1.7" />
<circle cx="1113.87" cy="428.99" r="6.40" fill="#00a0dc" stroke="#231f20" stroke-width="1.7" />
<circle cx="1168.48" cy="383.51" r="6.40" fill="#0ca550" stroke="#231f20" stroke-width="1.7" />
<circle cx="1175.12" cy="380.81" r="6.40" fill="#0ca550" stroke="#231f20" stroke-width="1.7" />
<circle cx="1180.94" cy="386.42" r="6.40" fill="#0ca550" stroke="#231f20" stroke-width="1.7" />
<circle cx="1180.94" cy="400.54" r="6.40" fill="#0ca550" stroke="#231f20" stroke-width="1.7" />
<circle cx="1175.12" cy="411.96" r="6.40" fill="#0ca550" stroke="#231f20" stroke-width="1.7" />
<circle cx="1162.67" cy="428.99" r="6.40" fill="#0ca550" stroke="#231f20" stroke-width="1.7" />
<circle cx="1175.12" cy="430.65" r="6.40" fill="#0ca550" stroke="#231f20" stroke-width="1.7" />
<circle cx="1168.90" cy="426.50" r="6.40" fill="#0ca550" stroke="#231f20" stroke-width="1.7" />
<circle cx="1181.35" cy="428.99" r="6.40" fill="#0ca550" stroke="#231f20" stroke-width="1.7" />
<circle cx="1187.58" cy="428.99" r="6.40" fill="#0ca550" stroke="#231f20" stroke-width="1.7" />
<circle cx="1230.15" cy="371.05" r="6.40" fill="#ee6a25" stroke="#231f20" stroke-width="1.7" />
<circle cx="1234.72" cy="378.74" r="6.40" fill="#ee6a25" stroke="#231f20" stroke-width="1.7" />
<circle cx="1234.30" cy="374.58" r="6.40" fill="#ee6a25" stroke="#231f20" stroke-width="1.7" />
<circle cx="1228.07" cy="385.38" r="6.40" fill="#ee6a25" stroke="#231f20" stroke-width="1.7" />
<circle cx="1231.60" cy="401.58" r="6.40" fill="#ee6a25" stroke="#231f20" stroke-width="1.7" />
<circle cx="1234.30" cy="404.69" r="6.40" fill="#ee6a25" stroke="#231f20" stroke-width="1.7" />
<circle cx="1228.70" cy="404.69" r="6.40" fill="#ee6a25" stroke="#231f20" stroke-width="1.7" />
<circle cx="1221.84" cy="420.27" r="6.40" fill="#ee6a25" stroke="#231f20" stroke-width="1.7" />
<circle cx="1234.30" cy="420.68" r="6.40" fill="#ee6a25" stroke="#231f20" stroke-width="1.7" />
<circle cx="1240.53" cy="426.50" r="6.40" fill="#ee6a25" stroke="#231f20" stroke-width="1.7" />
<circle cx="1218.73" cy="428.57" r="6.40" fill="#ee6a25" stroke="#231f20" stroke-width="1.7" />
<circle cx="1231.60" cy="428.99" r="6.40" fill="#ee6a25" stroke="#231f20" stroke-width="1.7" />
<circle cx="1237.42" cy="429.61" r="6.40" fill="#ee6a25" stroke="#231f20" stroke-width="1.7" />
<circle cx="1244.06" cy="429.61" r="6.40" fill="#ee6a25" stroke="#231f20" stroke-width="1.7" />
<circle cx="1228.70" cy="423.38" r="6.40" fill="#ee6a25" stroke="#231f20" stroke-width="1.7" />
<circle cx="1225.37" cy="426.08" r="6.40" fill="#ee6a25" stroke="#231f20" stroke-width="1.7" />
<line x1="948.40" y1="429.10" x2="948.40" y2="441.70" stroke="#231f20" stroke-width="1.2" />
<text transform="translate(960.10 466.30) rotate(-45)" x="-76.63" y="0" font-size="27.5" textLength="78.79" lengthAdjust="spacingAndGlyphs" fill="#231f20">SHAM</text>
<line x1="1005.10" y1="429.10" x2="1005.10" y2="441.70" stroke="#231f20" stroke-width="1.2" />
<text transform="translate(1016.80 466.30) rotate(-45)" x="-28.20" y="0" font-size="27.5" fill="#231f20">MI</text>
<line x1="1061.80" y1="429.10" x2="1061.80" y2="441.70" stroke="#231f20" stroke-width="1.2" />
<text transform="translate(1073.50 466.30) rotate(-45)" x="-168.73" y="0" font-size="27.5" textLength="169.88" lengthAdjust="spacingAndGlyphs" fill="#231f20">MI + ARM036</text>
<line x1="1118.40" y1="429.10" x2="1118.40" y2="441.70" stroke="#231f20" stroke-width="1.2" />
<text transform="translate(1130.10 466.30) rotate(-45)" x="-118.59" y="0" font-size="27.5" textLength="119.79" lengthAdjust="spacingAndGlyphs" fill="#231f20">MI + S107</text>
<line x1="1175.10" y1="429.10" x2="1175.10" y2="441.70" stroke="#231f20" stroke-width="1.2" />
<text transform="translate(1186.80 466.30) rotate(-45)" x="-208.32" y="0" font-size="27.5" textLength="210.17" lengthAdjust="spacingAndGlyphs" fill="#231f20">MI + propranolol</text>
<line x1="1231.60" y1="429.10" x2="1231.60" y2="441.70" stroke="#231f20" stroke-width="1.2" />
<text transform="translate(1243.30 466.30) rotate(-45)" x="-152.68" y="0" font-size="27.5" textLength="153.80" lengthAdjust="spacingAndGlyphs" fill="#231f20">MI + SD-208</text>
<text transform="translate(792.10 264.10) rotate(-90)" x="-157.48" y="0" font-size="27.5" textLength="316.19" lengthAdjust="spacingAndGlyphs" fill="#231f20">Time spent on open-arm</text>
<text transform="translate(823.20 266.60) rotate(-90)" x="-134.00" y="0" font-size="27.5" textLength="269.60" lengthAdjust="spacingAndGlyphs" fill="#231f20">vs. closed-arm (ratio)</text>
<text transform="translate(1005.60 125.20)" x="-6.83" y="0" font-size="35" fill="#231f20">*</text>
<text transform="translate(1062.80 252.20)" x="-6.83" y="0" font-size="35" fill="#231f20">*</text>
<text transform="translate(1118.60 330.30)" x="-6.75" y="0" font-size="25" textLength="13.53" lengthAdjust="spacingAndGlyphs" fill="#231f20">#</text>
<text transform="translate(1172.00 330.30)" x="-6.75" y="0" font-size="25" textLength="13.53" lengthAdjust="spacingAndGlyphs" fill="#231f20">#</text>
<text transform="translate(1226.40 330.30)" x="-6.75" y="0" font-size="25" textLength="13.53" lengthAdjust="spacingAndGlyphs" fill="#231f20">#</text>
<text transform="translate(1355.50 32.80)" x="-1.66" y="0" font-size="33.5" font-weight="700" textLength="26.40" lengthAdjust="spacingAndGlyphs" fill="#231f20">c</text>
<path d="M1455.70 103.10H1468.40V429.40" stroke="#231f20" stroke-width="1.2" fill="none" />
<line x1="1455.70" y1="429.40" x2="1826.90" y2="429.40" stroke="#231f20" stroke-width="1.2" />
<text transform="translate(1442.30 437.70)" x="-39.98" y="0" font-size="24" textLength="40.86" lengthAdjust="spacingAndGlyphs" fill="#231f20">−50</text>
<line x1="1455.70" y1="320.60" x2="1468.40" y2="320.60" stroke="#231f20" stroke-width="1.2" />
<text transform="translate(1442.30 328.90)" x="-14.26" y="0" font-size="24" textLength="15.25" lengthAdjust="spacingAndGlyphs" fill="#231f20">0</text>
<line x1="1455.70" y1="211.80" x2="1468.40" y2="211.80" stroke="#231f20" stroke-width="1.2" />
<text transform="translate(1442.30 220.10)" x="-27.42" y="0" font-size="24" textLength="28.37" lengthAdjust="spacingAndGlyphs" fill="#231f20">50</text>
<text transform="translate(1442.30 111.40)" x="-40.78" y="0" font-size="24" textLength="41.74" lengthAdjust="spacingAndGlyphs" fill="#231f20">100</text>
<rect x="1487.60" y="216.20" width="36.90" height="213.20" fill="#fff" stroke="#231f20" stroke-width="1.45" />
<rect x="1544.10" y="286.20" width="36.90" height="143.20" fill="#fff" stroke="#231f20" stroke-width="1.45" />
<rect x="1600.50" y="286.80" width="37.40" height="142.60" fill="#fff" stroke="#231f20" stroke-width="1.45" />
<rect x="1657.00" y="219.60" width="37.40" height="209.80" fill="#fff" stroke="#231f20" stroke-width="1.45" />
<rect x="1713.70" y="219.60" width="37.40" height="209.80" fill="#fff" stroke="#231f20" stroke-width="1.45" />
<rect x="1770.40" y="244.50" width="37.20" height="184.90" fill="#fff" stroke="#231f20" stroke-width="1.45" />
<path d="M1496.75 204.83H1515.35M1506.05 204.83V227.04M1496.75 227.04H1515.35" stroke="#231f20" stroke-width="1.45" fill="none" />
<path d="M1553.25 277.92H1571.85M1562.55 277.92V294.53M1553.25 294.53H1571.85" stroke="#231f20" stroke-width="1.45" fill="none" />
<path d="M1609.90 280.61H1628.50M1619.20 280.61V292.45M1609.90 292.45H1628.50" stroke="#231f20" stroke-width="1.45" fill="none" />
<path d="M1666.40 210.43H1685.00M1675.70 210.43V227.67M1666.40 227.67H1685.00" stroke="#231f20" stroke-width="1.45" fill="none" />
<path d="M1723.10 205.66H1741.70M1732.40 205.66V232.86M1723.10 232.86H1741.70" stroke="#231f20" stroke-width="1.45" fill="none" />
<path d="M1779.70 229.53H1798.30M1789.00 229.53V258.60M1779.70 258.60H1798.30" stroke="#231f20" stroke-width="1.45" fill="none" />
<circle cx="1505.65" cy="148.76" r="6.40" fill="none" stroke="#231f20" stroke-width="1.7" />
<circle cx="1518.11" cy="169.94" r="6.40" fill="none" stroke="#231f20" stroke-width="1.7" />
<circle cx="1509.80" cy="177.62" r="6.40" fill="none" stroke="#231f20" stroke-width="1.7" />
<circle cx="1501.50" cy="181.78" r="6.40" fill="none" stroke="#231f20" stroke-width="1.7" />
<circle cx="1505.65" cy="204.83" r="6.40" fill="none" stroke="#231f20" stroke-width="1.7" />
<circle cx="1509.80" cy="220.19" r="6.40" fill="none" stroke="#231f20" stroke-width="1.7" />
<circle cx="1501.50" cy="227.04" r="6.40" fill="none" stroke="#231f20" stroke-width="1.7" />
<circle cx="1501.50" cy="244.07" r="6.40" fill="none" stroke="#231f20" stroke-width="1.7" />
<circle cx="1518.11" cy="247.18" r="6.40" fill="none" stroke="#231f20" stroke-width="1.7" />
<circle cx="1493.60" cy="251.34" r="6.40" fill="none" stroke="#231f20" stroke-width="1.7" />
<circle cx="1509.80" cy="255.49" r="6.40" fill="none" stroke="#231f20" stroke-width="1.7" />
<circle cx="1501.50" cy="264.42" r="6.40" fill="none" stroke="#231f20" stroke-width="1.7" />
<circle cx="1555.90" cy="229.12" r="6.40" fill="#808285" stroke="#231f20" stroke-width="1.7" />
<circle cx="1562.33" cy="223.31" r="6.40" fill="#808285" stroke="#231f20" stroke-width="1.7" />
<circle cx="1568.77" cy="231.61" r="6.40" fill="#808285" stroke="#231f20" stroke-width="1.7" />
<circle cx="1562.33" cy="239.50" r="6.40" fill="#808285" stroke="#231f20" stroke-width="1.7" />
<circle cx="1556.31" cy="261.30" r="6.40" fill="#808285" stroke="#231f20" stroke-width="1.7" />
<circle cx="1550.29" cy="259.23" r="6.40" fill="#808285" stroke="#231f20" stroke-width="1.7" />
<circle cx="1562.33" cy="256.53" r="6.40" fill="#808285" stroke="#231f20" stroke-width="1.7" />
<circle cx="1574.58" cy="268.57" r="6.40" fill="#808285" stroke="#231f20" stroke-width="1.7" />
<circle cx="1568.77" cy="284.14" r="6.40" fill="#808285" stroke="#231f20" stroke-width="1.7" />
<circle cx="1562.33" cy="276.88" r="6.40" fill="#808285" stroke="#231f20" stroke-width="1.7" />
<circle cx="1550.29" cy="286.64" r="6.40" fill="#808285" stroke="#231f20" stroke-width="1.7" />
<circle cx="1574.58" cy="289.34" r="6.40" fill="#808285" stroke="#231f20" stroke-width="1.7" />
<circle cx="1568.77" cy="298.68" r="6.40" fill="#808285" stroke="#231f20" stroke-width="1.7" />
<circle cx="1562.33" cy="291.00" r="6.40" fill="#808285" stroke="#231f20" stroke-width="1.7" />
<circle cx="1556.31" cy="296.19" r="6.40" fill="#808285" stroke="#231f20" stroke-width="1.7" />
<circle cx="1562.33" cy="311.76" r="6.40" fill="#808285" stroke="#231f20" stroke-width="1.7" />
<circle cx="1568.77" cy="320.07" r="6.40" fill="#808285" stroke="#231f20" stroke-width="1.7" />
<circle cx="1556.31" cy="320.48" r="6.40" fill="#808285" stroke="#231f20" stroke-width="1.7" />
<circle cx="1562.33" cy="329.41" r="6.40" fill="#808285" stroke="#231f20" stroke-width="1.7" />
<circle cx="1562.33" cy="358.90" r="6.40" fill="#808285" stroke="#231f20" stroke-width="1.7" />
<circle cx="1562.33" cy="381.32" r="6.40" fill="#808285" stroke="#231f20" stroke-width="1.7" />
<circle cx="1618.81" cy="234.73" r="6.40" fill="#e6097f" stroke="#231f20" stroke-width="1.7" />
<circle cx="1615.07" cy="244.69" r="6.40" fill="#e6097f" stroke="#231f20" stroke-width="1.7" />
<circle cx="1622.76" cy="252.38" r="6.40" fill="#e6097f" stroke="#231f20" stroke-width="1.7" />
<circle cx="1610.92" cy="259.23" r="6.40" fill="#e6097f" stroke="#231f20" stroke-width="1.7" />
<circle cx="1627.12" cy="264.83" r="6.40" fill="#e6097f" stroke="#231f20" stroke-width="1.7" />
<circle cx="1606.77" cy="274.80" r="6.40" fill="#e6097f" stroke="#231f20" stroke-width="1.7" />
<circle cx="1615.07" cy="273.14" r="6.40" fill="#e6097f" stroke="#231f20" stroke-width="1.7" />
<circle cx="1622.76" cy="268.57" r="6.40" fill="#e6097f" stroke="#231f20" stroke-width="1.7" />
<circle cx="1631.69" cy="277.29" r="6.40" fill="#e6097f" stroke="#231f20" stroke-width="1.7" />
<circle cx="1610.92" cy="282.07" r="6.40" fill="#e6097f" stroke="#231f20" stroke-width="1.7" />
<circle cx="1627.12" cy="286.64" r="6.40" fill="#e6097f" stroke="#231f20" stroke-width="1.7" />
<circle cx="1618.81" cy="291.00" r="6.40" fill="#e6097f" stroke="#231f20" stroke-width="1.7" />
<circle cx="1631.27" cy="299.09" r="6.40" fill="#e6097f" stroke="#231f20" stroke-width="1.7" />
<circle cx="1606.77" cy="303.87" r="6.40" fill="#e6097f" stroke="#231f20" stroke-width="1.7" />
<circle cx="1615.07" cy="301.79" r="6.40" fill="#e6097f" stroke="#231f20" stroke-width="1.7" />
<circle cx="1610.92" cy="308.02" r="6.40" fill="#e6097f" stroke="#231f20" stroke-width="1.7" />
<circle cx="1627.12" cy="313.21" r="6.40" fill="#e6097f" stroke="#231f20" stroke-width="1.7" />
<circle cx="1620.27" cy="313.21" r="6.40" fill="#e6097f" stroke="#231f20" stroke-width="1.7" />
<circle cx="1618.81" cy="320.48" r="6.40" fill="#e6097f" stroke="#231f20" stroke-width="1.7" />
<circle cx="1627.12" cy="326.71" r="6.40" fill="#e6097f" stroke="#231f20" stroke-width="1.7" />
<circle cx="1610.92" cy="331.90" r="6.40" fill="#e6097f" stroke="#231f20" stroke-width="1.7" />
<circle cx="1675.50" cy="138.17" r="6.40" fill="#00a0dc" stroke="#231f20" stroke-width="1.7" />
<circle cx="1672.59" cy="172.43" r="6.40" fill="#00a0dc" stroke="#231f20" stroke-width="1.7" />
<circle cx="1666.57" cy="173.06" r="6.40" fill="#00a0dc" stroke="#231f20" stroke-width="1.7" />
<circle cx="1685.05" cy="178.25" r="6.40" fill="#00a0dc" stroke="#231f20" stroke-width="1.7" />
<circle cx="1678.41" cy="189.67" r="6.40" fill="#00a0dc" stroke="#231f20" stroke-width="1.7" />
<circle cx="1685.05" cy="201.09" r="6.40" fill="#00a0dc" stroke="#231f20" stroke-width="1.7" />
<circle cx="1672.59" cy="191.12" r="6.40" fill="#00a0dc" stroke="#231f20" stroke-width="1.7" />
<circle cx="1679.03" cy="198.39" r="6.40" fill="#00a0dc" stroke="#231f20" stroke-width="1.7" />
<circle cx="1666.57" cy="207.73" r="6.40" fill="#00a0dc" stroke="#231f20" stroke-width="1.7" />
<circle cx="1675.50" cy="216.66" r="6.40" fill="#00a0dc" stroke="#231f20" stroke-width="1.7" />
<circle cx="1675.50" cy="226.42" r="6.40" fill="#00a0dc" stroke="#231f20" stroke-width="1.7" />
<circle cx="1675.50" cy="244.07" r="6.40" fill="#00a0dc" stroke="#231f20" stroke-width="1.7" />
<circle cx="1669.48" cy="262.34" r="6.40" fill="#00a0dc" stroke="#231f20" stroke-width="1.7" />
<circle cx="1675.50" cy="264.42" r="6.40" fill="#00a0dc" stroke="#231f20" stroke-width="1.7" />
<circle cx="1663.46" cy="256.11" r="6.40" fill="#00a0dc" stroke="#231f20" stroke-width="1.7" />
<circle cx="1687.75" cy="257.15" r="6.40" fill="#00a0dc" stroke="#231f20" stroke-width="1.7" />
<circle cx="1675.50" cy="257.15" r="6.40" fill="#00a0dc" stroke="#231f20" stroke-width="1.7" />
<circle cx="1681.52" cy="272.72" r="6.40" fill="#00a0dc" stroke="#231f20" stroke-width="1.7" />
<circle cx="1669.48" cy="276.25" r="6.40" fill="#00a0dc" stroke="#231f20" stroke-width="1.7" />
<circle cx="1731.98" cy="133.19" r="6.40" fill="#0ca550" stroke="#231f20" stroke-width="1.7" />
<circle cx="1719.93" cy="183.85" r="6.40" fill="#0ca550" stroke="#231f20" stroke-width="1.7" />
<circle cx="1731.98" cy="193.20" r="6.40" fill="#0ca550" stroke="#231f20" stroke-width="1.7" />
<circle cx="1719.93" cy="200.05" r="6.40" fill="#0ca550" stroke="#231f20" stroke-width="1.7" />
<circle cx="1731.98" cy="209.39" r="6.40" fill="#0ca550" stroke="#231f20" stroke-width="1.7" />
<circle cx="1731.98" cy="232.86" r="6.40" fill="#0ca550" stroke="#231f20" stroke-width="1.7" />
<circle cx="1719.93" cy="249.88" r="6.40" fill="#0ca550" stroke="#231f20" stroke-width="1.7" />
<circle cx="1731.98" cy="257.77" r="6.40" fill="#0ca550" stroke="#231f20" stroke-width="1.7" />
<circle cx="1744.44" cy="261.93" r="6.40" fill="#0ca550" stroke="#231f20" stroke-width="1.7" />
<circle cx="1719.93" cy="267.53" r="6.40" fill="#0ca550" stroke="#231f20" stroke-width="1.7" />
<circle cx="1776.62" cy="151.25" r="6.40" fill="#ee6a25" stroke="#231f20" stroke-width="1.7" />
<circle cx="1800.91" cy="154.99" r="6.40" fill="#ee6a25" stroke="#231f20" stroke-width="1.7" />
<circle cx="1776.62" cy="164.75" r="6.40" fill="#ee6a25" stroke="#231f20" stroke-width="1.7" />
<circle cx="1776.62" cy="192.16" r="6.40" fill="#ee6a25" stroke="#231f20" stroke-width="1.7" />
<circle cx="1800.91" cy="196.94" r="6.40" fill="#ee6a25" stroke="#231f20" stroke-width="1.7" />
<circle cx="1788.66" cy="200.47" r="6.40" fill="#ee6a25" stroke="#231f20" stroke-width="1.7" />
<circle cx="1788.66" cy="228.50" r="6.40" fill="#ee6a25" stroke="#231f20" stroke-width="1.7" />
<circle cx="1800.91" cy="244.49" r="6.40" fill="#ee6a25" stroke="#231f20" stroke-width="1.7" />
<circle cx="1776.62" cy="255.49" r="6.40" fill="#ee6a25" stroke="#231f20" stroke-width="1.7" />
<circle cx="1800.91" cy="262.34" r="6.40" fill="#ee6a25" stroke="#231f20" stroke-width="1.7" />
<circle cx="1788.66" cy="265.87" r="6.40" fill="#ee6a25" stroke="#231f20" stroke-width="1.7" />
<circle cx="1776.62" cy="274.80" r="6.40" fill="#ee6a25" stroke="#231f20" stroke-width="1.7" />
<circle cx="1788.66" cy="287.26" r="6.40" fill="#ee6a25" stroke="#231f20" stroke-width="1.7" />
<circle cx="1776.62" cy="298.26" r="6.40" fill="#ee6a25" stroke="#231f20" stroke-width="1.7" />
<circle cx="1800.91" cy="301.38" r="6.40" fill="#ee6a25" stroke="#231f20" stroke-width="1.7" />
<circle cx="1788.66" cy="324.01" r="6.40" fill="#ee6a25" stroke="#231f20" stroke-width="1.7" />
<circle cx="1788.66" cy="348.51" r="6.40" fill="#ee6a25" stroke="#231f20" stroke-width="1.7" />
<line x1="1505.60" y1="429.40" x2="1505.60" y2="442.00" stroke="#231f20" stroke-width="1.2" />
<text transform="translate(1517.30 466.60) rotate(-45)" x="-76.63" y="0" font-size="27.5" textLength="78.79" lengthAdjust="spacingAndGlyphs" fill="#231f20">SHAM</text>
<line x1="1562.30" y1="429.40" x2="1562.30" y2="442.00" stroke="#231f20" stroke-width="1.2" />
<text transform="translate(1574.00 466.60) rotate(-45)" x="-28.20" y="0" font-size="27.5" fill="#231f20">MI</text>
<line x1="1618.80" y1="429.40" x2="1618.80" y2="442.00" stroke="#231f20" stroke-width="1.2" />
<text transform="translate(1630.50 466.60) rotate(-45)" x="-168.73" y="0" font-size="27.5" textLength="169.88" lengthAdjust="spacingAndGlyphs" fill="#231f20">MI + ARM036</text>
<line x1="1675.50" y1="429.40" x2="1675.50" y2="442.00" stroke="#231f20" stroke-width="1.2" />
<text transform="translate(1687.20 466.60) rotate(-45)" x="-118.59" y="0" font-size="27.5" textLength="119.79" lengthAdjust="spacingAndGlyphs" fill="#231f20">MI + S107</text>
<line x1="1732.00" y1="429.40" x2="1732.00" y2="442.00" stroke="#231f20" stroke-width="1.2" />
<text transform="translate(1743.70 466.60) rotate(-45)" x="-208.32" y="0" font-size="27.5" textLength="210.17" lengthAdjust="spacingAndGlyphs" fill="#231f20">MI + propranolol</text>
<line x1="1788.70" y1="429.40" x2="1788.70" y2="442.00" stroke="#231f20" stroke-width="1.2" />
<text transform="translate(1800.40 466.60) rotate(-45)" x="-152.68" y="0" font-size="27.5" textLength="153.80" lengthAdjust="spacingAndGlyphs" fill="#231f20">MI + SD-208</text>
<text transform="translate(1378.50 263.60) rotate(-90)" x="-155.81" y="0" font-size="27.5" textLength="310.92" lengthAdjust="spacingAndGlyphs" fill="#231f20">Discrimination index (%)</text>
<text transform="translate(1563.20 212.90)" x="-6.83" y="0" font-size="35" fill="#231f20">*</text>
<text transform="translate(1617.20 212.90)" x="-6.83" y="0" font-size="35" fill="#231f20">*</text>
<text transform="translate(1672.20 103.20)" x="-6.75" y="0" font-size="25" textLength="13.53" lengthAdjust="spacingAndGlyphs" fill="#231f20">#</text>
<text transform="translate(1731.80 103.20)" x="-6.75" y="0" font-size="25" textLength="13.53" lengthAdjust="spacingAndGlyphs" fill="#231f20">#</text>
<text transform="translate(1786.40 103.20)" x="-6.75" y="0" font-size="25" textLength="13.53" lengthAdjust="spacingAndGlyphs" fill="#231f20">#</text>
<text transform="translate(0.00 684.00)" x="-1.88" y="0" font-size="38.5" font-weight="700" textLength="28.67" lengthAdjust="spacingAndGlyphs" fill="#231f20">d</text>
<path d="M120.60 771.2H133.10V1097.70" stroke="#231f20" stroke-width="1.2" fill="none" />
<line x1="120.60" y1="1097.70" x2="579.60" y2="1097.70" stroke="#231f20" stroke-width="1.2" />
<text transform="translate(107.50 1106.00)" x="-14.47" y="0" font-size="24" textLength="15.48" lengthAdjust="spacingAndGlyphs" fill="#231f20">0</text>
<line x1="120.60" y1="988.90" x2="133.10" y2="988.90" stroke="#231f20" stroke-width="1.2" />
<text transform="translate(107.50 997.20)" x="-29.37" y="0" font-size="24" textLength="30.39" lengthAdjust="spacingAndGlyphs" fill="#231f20">20</text>
<line x1="120.60" y1="880.10" x2="133.10" y2="880.10" stroke="#231f20" stroke-width="1.2" />
<text transform="translate(107.50 888.40)" x="-29.04" y="0" font-size="24" textLength="30.05" lengthAdjust="spacingAndGlyphs" fill="#231f20">40</text>
<text transform="translate(107.50 779.50)" x="-29.37" y="0" font-size="24" textLength="30.39" lengthAdjust="spacingAndGlyphs" fill="#231f20">60</text>
<line x1="195.70" y1="1097.70" x2="195.70" y2="1110.20" stroke="#231f20" stroke-width="1.2" />
<text transform="translate(195.70 1140.50)" x="-6.05" y="0" font-size="24" textLength="11.51" lengthAdjust="spacingAndGlyphs" fill="#231f20">1</text>
<line x1="290.00" y1="1097.70" x2="290.00" y2="1110.20" stroke="#231f20" stroke-width="1.2" />
<text transform="translate(290.00 1140.50)" x="-7.91" y="0" font-size="24" textLength="15.72" lengthAdjust="spacingAndGlyphs" fill="#231f20">2</text>
<line x1="384.40" y1="1097.70" x2="384.40" y2="1110.20" stroke="#231f20" stroke-width="1.2" />
<text transform="translate(384.40 1140.50)" x="-7.45" y="0" font-size="24" textLength="15.06" lengthAdjust="spacingAndGlyphs" fill="#231f20">3</text>
<line x1="478.60" y1="1097.70" x2="478.60" y2="1110.20" stroke="#231f20" stroke-width="1.2" />
<text transform="translate(478.60 1140.50)" x="-7.01" y="0" font-size="24" textLength="14.18" lengthAdjust="spacingAndGlyphs" fill="#231f20">4</text>
<text transform="translate(356.50 1181.90)" x="-71.97" y="0" font-size="27.5" textLength="144.96" lengthAdjust="spacingAndGlyphs" fill="#231f20">Training (d)</text>
<text transform="translate(51.00 931.20) rotate(-90)" x="-204.97" y="0" font-size="27.5" textLength="409.25" lengthAdjust="spacingAndGlyphs" fill="#231f20">Latency to reach the platform (s)</text>
<circle cx="471.50" cy="771.60" r="73.30" fill="#bcbec0" stroke="#231f20" stroke-width="1.5" />
<line x1="398.20" y1="771.60" x2="544.80" y2="771.60" stroke="#231f20" stroke-width="1.4" />
<line x1="471.50" y1="698.30" x2="471.50" y2="844.90" stroke="#231f20" stroke-width="1.4" />
<circle cx="435.50" cy="741.20" r="10.20" fill="#fff" stroke="#231f20" stroke-width="1.5" />
<line x1="401.80" y1="697.20" x2="428.00" y2="731.50" stroke="#3a4d63" stroke-width="3.8" />
<path d="M435.4 741.4L420.8 733.4L428.2 731.0L431.3 724.0Z" fill="#3a4d63"/>
<text transform="translate(288.00 697.60)" x="-2.36" y="0" font-size="27.5" textLength="109.72" lengthAdjust="spacingAndGlyphs" fill="#231f20">Platform</text>
<text transform="translate(362.00 735.00)" x="-2.09" y="0" font-size="27.5" textLength="43.52" lengthAdjust="spacingAndGlyphs" fill="#231f20">NW</text>
<text transform="translate(542.30 735.00)" x="-2.06" y="0" font-size="27.5" textLength="35.69" lengthAdjust="spacingAndGlyphs" fill="#231f20">NE</text>
<text transform="translate(363.80 829.30)" x="-1.13" y="0" font-size="27.5" textLength="40.45" lengthAdjust="spacingAndGlyphs" fill="#231f20">SW</text>
<text transform="translate(542.30 829.30)" x="-1.07" y="0" font-size="27.5" textLength="31.82" lengthAdjust="spacingAndGlyphs" fill="#231f20">SE</text>
<path d="M195.7 842.6L290.0 915.2L384.4 951.2L478.6 982.7" stroke="#231f20" stroke-width="1.5" fill="none" stroke-dasharray="6 3.2"/>
<path d="M195.7 853.6L290.0 876.4L384.4 925.6L478.6 932.9" stroke="#808285" stroke-width="1.6" fill="none" />
<path d="M195.7 862.0L290.0 949.9L384.4 962.0L478.6 1000.4" stroke="#0ca550" stroke-width="1.6" fill="none" />
<path d="M195.7 835.3L290.0 894.1L384.4 920.8L478.6 938.1" stroke="#e6097f" stroke-width="1.6" fill="none" />
<path d="M195.7 864.8L290.0 954.3L384.4 965.1L478.6 1013.5" stroke="#ee6a25" stroke-width="1.6" fill="none" />
<path d="M195.7 828.7L290.0 926.2L384.4 978.6L478.6 985.8" stroke="#00a0dc" stroke-width="1.6" fill="none" />
<path d="M188.7 833.6H202.7M195.7 833.6V851.6M188.7 851.6H202.7" stroke="#231f20" stroke-width="1.3" fill="none" />
<path d="M283.0 900.7H297.0M290.0 900.7V929.7M283.0 929.7H297.0" stroke="#231f20" stroke-width="1.3" fill="none" />
<path d="M377.4 938.7H391.4M384.4 938.7V963.7M377.4 963.7H391.4" stroke="#231f20" stroke-width="1.3" fill="none" />
<path d="M471.6 972.2H485.6M478.6 972.2V993.2M471.6 993.2H485.6" stroke="#231f20" stroke-width="1.3" fill="none" />
<path d="M188.7 844.6H202.7M195.7 844.6V862.6M188.7 862.6H202.7" stroke="#231f20" stroke-width="1.3" fill="none" />
<path d="M283.0 865.9H297.0M290.0 865.9V886.9M283.0 886.9H297.0" stroke="#231f20" stroke-width="1.3" fill="none" />
<path d="M377.4 914.1H391.4M384.4 914.1V937.1M377.4 937.1H391.4" stroke="#231f20" stroke-width="1.3" fill="none" />
<path d="M471.6 919.9H485.6M478.6 919.9V945.9M471.6 945.9H485.6" stroke="#231f20" stroke-width="1.3" fill="none" />
<path d="M188.7 850.5H202.7M195.7 850.5V873.5M188.7 873.5H202.7" stroke="#231f20" stroke-width="1.3" fill="none" />
<path d="M283.0 932.9H297.0M290.0 932.9V966.9M283.0 966.9H297.0" stroke="#231f20" stroke-width="1.3" fill="none" />
<path d="M377.4 950.0H391.4M384.4 950.0V974.0M377.4 974.0H391.4" stroke="#231f20" stroke-width="1.3" fill="none" />
<path d="M471.6 995.4H485.6M478.6 995.4V1005.4M471.6 1005.4H485.6" stroke="#231f20" stroke-width="1.3" fill="none" />
<path d="M188.7 824.8H202.7M195.7 824.8V845.8M188.7 845.8H202.7" stroke="#231f20" stroke-width="1.3" fill="none" />
<path d="M283.0 884.1H297.0M290.0 884.1V904.1M283.0 904.1H297.0" stroke="#231f20" stroke-width="1.3" fill="none" />
<path d="M377.4 911.5H391.4M384.4 911.5V930.1M377.4 930.1H391.4" stroke="#231f20" stroke-width="1.3" fill="none" />
<path d="M471.6 920.6H485.6M478.6 920.6V955.6M471.6 955.6H485.6" stroke="#231f20" stroke-width="1.3" fill="none" />
<path d="M188.7 850.3H202.7M195.7 850.3V879.3M188.7 879.3H202.7" stroke="#231f20" stroke-width="1.3" fill="none" />
<path d="M283.0 939.0H297.0M290.0 939.0V969.6M283.0 969.6H297.0" stroke="#231f20" stroke-width="1.3" fill="none" />
<path d="M377.4 951.6H391.4M384.4 951.6V978.6M377.4 978.6H391.4" stroke="#231f20" stroke-width="1.3" fill="none" />
<path d="M471.6 996.3H485.6M478.6 996.3V1030.7M471.6 1030.7H485.6" stroke="#231f20" stroke-width="1.3" fill="none" />
<path d="M188.7 820.9H202.7M195.7 820.9V836.5M188.7 836.5H202.7" stroke="#231f20" stroke-width="1.3" fill="none" />
<path d="M283.0 913.7H297.0M290.0 913.7V938.7M283.0 938.7H297.0" stroke="#231f20" stroke-width="1.3" fill="none" />
<path d="M377.4 973.1H391.4M384.4 973.1V984.1M377.4 984.1H391.4" stroke="#231f20" stroke-width="1.3" fill="none" />
<path d="M471.6 979.8H485.6M478.6 979.8V991.8M471.6 991.8H485.6" stroke="#231f20" stroke-width="1.3" fill="none" />
<circle cx="195.70" cy="842.60" r="6.40" fill="none" stroke="#231f20" stroke-width="1.3" />
<circle cx="290.00" cy="915.20" r="6.40" fill="none" stroke="#231f20" stroke-width="1.3" />
<circle cx="384.40" cy="951.20" r="6.40" fill="none" stroke="#231f20" stroke-width="1.3" />
<circle cx="478.60" cy="982.70" r="6.40" fill="none" stroke="#231f20" stroke-width="1.3" />
<circle cx="195.70" cy="853.60" r="6.40" fill="#808285" stroke="#231f20" stroke-width="1.3" />
<circle cx="290.00" cy="876.40" r="6.40" fill="#808285" stroke="#231f20" stroke-width="1.3" />
<circle cx="384.40" cy="925.60" r="6.40" fill="#808285" stroke="#231f20" stroke-width="1.3" />
<circle cx="478.60" cy="932.90" r="6.40" fill="#808285" stroke="#231f20" stroke-width="1.3" />
<circle cx="195.70" cy="862.00" r="6.40" fill="#0ca550" stroke="#231f20" stroke-width="1.3" />
<circle cx="290.00" cy="949.90" r="6.40" fill="#0ca550" stroke="#231f20" stroke-width="1.3" />
<circle cx="384.40" cy="962.00" r="6.40" fill="#0ca550" stroke="#231f20" stroke-width="1.3" />
<circle cx="478.60" cy="1000.40" r="6.40" fill="#0ca550" stroke="#231f20" stroke-width="1.3" />
<circle cx="195.70" cy="835.30" r="6.40" fill="#e6097f" stroke="#231f20" stroke-width="1.3" />
<circle cx="290.00" cy="894.10" r="6.40" fill="#e6097f" stroke="#231f20" stroke-width="1.3" />
<circle cx="384.40" cy="920.80" r="6.40" fill="#e6097f" stroke="#231f20" stroke-width="1.3" />
<circle cx="478.60" cy="938.10" r="6.40" fill="#e6097f" stroke="#231f20" stroke-width="1.3" />
<circle cx="195.70" cy="864.80" r="6.40" fill="#ee6a25" stroke="#231f20" stroke-width="1.3" />
<circle cx="290.00" cy="954.30" r="6.40" fill="#ee6a25" stroke="#231f20" stroke-width="1.3" />
<circle cx="384.40" cy="965.10" r="6.40" fill="#ee6a25" stroke="#231f20" stroke-width="1.3" />
<circle cx="478.60" cy="1013.50" r="6.40" fill="#ee6a25" stroke="#231f20" stroke-width="1.3" />
<circle cx="195.70" cy="828.70" r="6.40" fill="#00a0dc" stroke="#231f20" stroke-width="1.3" />
<circle cx="290.00" cy="926.20" r="6.40" fill="#00a0dc" stroke="#231f20" stroke-width="1.3" />
<circle cx="384.40" cy="978.60" r="6.40" fill="#00a0dc" stroke="#231f20" stroke-width="1.3" />
<circle cx="478.60" cy="985.80" r="6.40" fill="#00a0dc" stroke="#231f20" stroke-width="1.3" />
<text transform="translate(385.00 908.80)" x="-6.83" y="0" font-size="35" fill="#231f20">*</text>
<text transform="translate(479.70 915.00)" x="-6.83" y="0" font-size="35" fill="#231f20">*</text>
<text transform="translate(475.00 1060.30)" x="-6.75" y="0" font-size="25" textLength="13.53" lengthAdjust="spacingAndGlyphs" fill="#231f20">#</text>
<line x1="46.70" y1="1225.10" x2="75.70" y2="1225.10" stroke="#231f20" stroke-width="1.4" stroke-dasharray="3.2 2.2"/>
<circle cx="61.20" cy="1225.10" r="8.60" fill="none" stroke="#231f20" stroke-width="1.3" />
<text transform="translate(86.80 1234.40)" x="-1.23" y="0" font-size="27.5" textLength="78.79" lengthAdjust="spacingAndGlyphs" fill="#231f20">SHAM</text>
<line x1="186.30" y1="1225.10" x2="215.30" y2="1225.10" stroke="#808285" stroke-width="1.5" />
<circle cx="200.80" cy="1225.10" r="8.60" fill="#808285" stroke="#231f20" stroke-width="1.3" />
<text transform="translate(226.40 1234.40)" x="-2.20" y="0" font-size="27.5" fill="#231f20">MI</text>
<line x1="277.40" y1="1225.10" x2="306.40" y2="1225.10" stroke="#e6097f" stroke-width="1.5" />
<circle cx="291.90" cy="1225.10" r="8.60" fill="#e6097f" stroke="#231f20" stroke-width="1.3" />
<text transform="translate(317.70 1234.40)" x="-2.22" y="0" font-size="27.5" textLength="169.16" lengthAdjust="spacingAndGlyphs" fill="#231f20">MI + ARM036</text>
<line x1="507.30" y1="1225.10" x2="536.30" y2="1225.10" stroke="#00a0dc" stroke-width="1.5" />
<circle cx="521.80" cy="1225.10" r="8.60" fill="#00a0dc" stroke="#231f20" stroke-width="1.3" />
<text transform="translate(546.90 1234.40)" x="-2.09" y="0" font-size="27.5" textLength="119.69" lengthAdjust="spacingAndGlyphs" fill="#231f20">MI + S107</text>
<line x1="47.90" y1="1263.00" x2="76.90" y2="1263.00" stroke="#0ca550" stroke-width="1.5" />
<circle cx="62.40" cy="1263.00" r="8.60" fill="#0ca550" stroke="#231f20" stroke-width="1.3" />
<text transform="translate(87.90 1272.30)" x="-2.32" y="0" font-size="27.5" textLength="210.68" lengthAdjust="spacingAndGlyphs" fill="#231f20">MI + propranolol</text>
<line x1="318.70" y1="1263.00" x2="347.70" y2="1263.00" stroke="#ee6a25" stroke-width="1.5" />
<circle cx="333.20" cy="1263.00" r="8.60" fill="#ee6a25" stroke="#231f20" stroke-width="1.3" />
<text transform="translate(359.70 1272.30)" x="-2.19" y="0" font-size="27.5" textLength="154.11" lengthAdjust="spacingAndGlyphs" fill="#231f20">MI + SD-208</text>
<text transform="translate(769.50 683.80)" x="-1.68" y="0" font-size="33.5" font-weight="700" textLength="26.67" lengthAdjust="spacingAndGlyphs" fill="#231f20">e</text>
<path d="M897.30 773.30H909.50V1097.60" stroke="#231f20" stroke-width="1.2" fill="none" />
<line x1="897.30" y1="1097.60" x2="1263.10" y2="1097.60" stroke="#231f20" stroke-width="1.2" />
<text transform="translate(883.40 1105.90)" x="-14.26" y="0" font-size="24" textLength="15.25" lengthAdjust="spacingAndGlyphs" fill="#231f20">0</text>
<line x1="897.30" y1="1032.74" x2="909.50" y2="1032.74" stroke="#231f20" stroke-width="1.2" />
<text transform="translate(883.40 1041.04)" x="-25.26" y="0" font-size="24" textLength="26.14" lengthAdjust="spacingAndGlyphs" fill="#231f20">10</text>
<line x1="897.30" y1="967.88" x2="909.50" y2="967.88" stroke="#231f20" stroke-width="1.2" />
<text transform="translate(883.40 976.18)" x="-28.53" y="0" font-size="24" textLength="29.52" lengthAdjust="spacingAndGlyphs" fill="#231f20">20</text>
<line x1="897.30" y1="903.02" x2="909.50" y2="903.02" stroke="#231f20" stroke-width="1.2" />
<text transform="translate(883.40 911.32)" x="-28.12" y="0" font-size="24" textLength="29.09" lengthAdjust="spacingAndGlyphs" fill="#231f20">30</text>
<line x1="897.30" y1="838.16" x2="909.50" y2="838.16" stroke="#231f20" stroke-width="1.2" />
<text transform="translate(883.40 846.46)" x="-28.53" y="0" font-size="24" textLength="29.52" lengthAdjust="spacingAndGlyphs" fill="#231f20">40</text>
<text transform="translate(883.40 781.60)" x="-28.25" y="0" font-size="24" textLength="29.23" lengthAdjust="spacingAndGlyphs" fill="#231f20">50</text>
<rect x="928.40" y="933.40" width="36.60" height="164.20" fill="#fff" stroke="#231f20" stroke-width="1.45" />
<rect x="984.50" y="985.70" width="36.30" height="111.90" fill="#fff" stroke="#231f20" stroke-width="1.45" />
<rect x="1039.90" y="996.70" width="36.60" height="100.90" fill="#fff" stroke="#231f20" stroke-width="1.45" />
<rect x="1095.60" y="933.40" width="36.70" height="164.20" fill="#fff" stroke="#231f20" stroke-width="1.45" />
<rect x="1151.60" y="929.40" width="36.80" height="168.20" fill="#fff" stroke="#231f20" stroke-width="1.45" />
<rect x="1207.30" y="920.50" width="36.90" height="177.10" fill="#fff" stroke="#231f20" stroke-width="1.45" />
<path d="M937.40 921.96H956.00M946.70 921.96V943.76M937.40 943.76H956.00" stroke="#231f20" stroke-width="1.45" fill="none" />
<path d="M993.35 975.95H1011.95M1002.65 975.95V995.67M993.35 995.67H1011.95" stroke="#231f20" stroke-width="1.45" fill="none" />
<path d="M1048.90 985.29H1067.50M1058.20 985.29V1008.13M1048.90 1008.13H1067.50" stroke="#231f20" stroke-width="1.45" fill="none" />
<path d="M1104.65 922.38H1123.25M1113.95 922.38V943.76M1104.65 943.76H1123.25" stroke="#231f20" stroke-width="1.45" fill="none" />
<path d="M1160.70 916.77H1179.30M1170.00 916.77V940.65M1160.70 940.65H1179.30" stroke="#231f20" stroke-width="1.45" fill="none" />
<path d="M1216.45 908.46H1235.05M1225.75 908.46V932.34M1216.45 932.34H1235.05" stroke="#231f20" stroke-width="1.45" fill="none" />
<circle cx="949.18" cy="845.76" r="6.40" fill="none" stroke="#231f20" stroke-width="1.7" />
<circle cx="943.99" cy="853.85" r="6.40" fill="none" stroke="#231f20" stroke-width="1.7" />
<circle cx="949.18" cy="867.35" r="6.40" fill="none" stroke="#231f20" stroke-width="1.7" />
<circle cx="943.99" cy="869.01" r="6.40" fill="none" stroke="#231f20" stroke-width="1.7" />
<circle cx="946.48" cy="875.24" r="6.40" fill="none" stroke="#231f20" stroke-width="1.7" />
<circle cx="949.18" cy="904.31" r="6.40" fill="none" stroke="#231f20" stroke-width="1.7" />
<circle cx="943.99" cy="909.09" r="6.40" fill="none" stroke="#231f20" stroke-width="1.7" />
<circle cx="946.48" cy="915.73" r="6.40" fill="none" stroke="#231f20" stroke-width="1.7" />
<circle cx="946.48" cy="927.15" r="6.40" fill="none" stroke="#231f20" stroke-width="1.7" />
<circle cx="934.64" cy="938.99" r="6.40" fill="none" stroke="#231f20" stroke-width="1.7" />
<circle cx="943.99" cy="940.65" r="6.40" fill="none" stroke="#231f20" stroke-width="1.7" />
<circle cx="952.29" cy="942.72" r="6.40" fill="none" stroke="#231f20" stroke-width="1.7" />
<circle cx="946.48" cy="943.76" r="6.40" fill="none" stroke="#231f20" stroke-width="1.7" />
<circle cx="958.52" cy="946.25" r="6.40" fill="none" stroke="#231f20" stroke-width="1.7" />
<circle cx="939.83" cy="947.92" r="6.40" fill="none" stroke="#231f20" stroke-width="1.7" />
<circle cx="950.22" cy="949.99" r="6.40" fill="none" stroke="#231f20" stroke-width="1.7" />
<circle cx="946.48" cy="954.14" r="6.40" fill="none" stroke="#231f20" stroke-width="1.7" />
<circle cx="952.29" cy="955.18" r="6.40" fill="none" stroke="#231f20" stroke-width="1.7" />
<circle cx="940.87" cy="956.64" r="6.40" fill="none" stroke="#231f20" stroke-width="1.7" />
<circle cx="946.48" cy="982.18" r="6.40" fill="none" stroke="#231f20" stroke-width="1.7" />
<circle cx="946.48" cy="990.07" r="6.40" fill="none" stroke="#231f20" stroke-width="1.7" />
<circle cx="946.48" cy="1002.52" r="6.40" fill="none" stroke="#231f20" stroke-width="1.7" />
<circle cx="946.48" cy="1052.77" r="6.40" fill="none" stroke="#231f20" stroke-width="1.7" />
<circle cx="1005.66" cy="917.39" r="6.40" fill="#808285" stroke="#231f20" stroke-width="1.7" />
<circle cx="1002.33" cy="924.04" r="6.40" fill="#808285" stroke="#231f20" stroke-width="1.7" />
<circle cx="999.43" cy="917.39" r="6.40" fill="#808285" stroke="#231f20" stroke-width="1.7" />
<circle cx="1002.33" cy="946.88" r="6.40" fill="#808285" stroke="#231f20" stroke-width="1.7" />
<circle cx="990.29" cy="966.19" r="6.40" fill="#808285" stroke="#231f20" stroke-width="1.7" />
<circle cx="1014.58" cy="966.19" r="6.40" fill="#808285" stroke="#231f20" stroke-width="1.7" />
<circle cx="996.31" cy="964.53" r="6.40" fill="#808285" stroke="#231f20" stroke-width="1.7" />
<circle cx="1002.33" cy="970.76" r="6.40" fill="#808285" stroke="#231f20" stroke-width="1.7" />
<circle cx="1008.36" cy="967.64" r="6.40" fill="#808285" stroke="#231f20" stroke-width="1.7" />
<circle cx="1002.33" cy="960.37" r="6.40" fill="#808285" stroke="#231f20" stroke-width="1.7" />
<circle cx="999.43" cy="990.48" r="6.40" fill="#808285" stroke="#231f20" stroke-width="1.7" />
<circle cx="1005.24" cy="995.67" r="6.40" fill="#808285" stroke="#231f20" stroke-width="1.7" />
<circle cx="999.43" cy="1007.09" r="6.40" fill="#808285" stroke="#231f20" stroke-width="1.7" />
<circle cx="1005.24" cy="1013.74" r="6.40" fill="#808285" stroke="#231f20" stroke-width="1.7" />
<circle cx="999.43" cy="1013.32" r="6.40" fill="#808285" stroke="#231f20" stroke-width="1.7" />
<circle cx="1002.33" cy="1027.86" r="6.40" fill="#808285" stroke="#231f20" stroke-width="1.7" />
<circle cx="1005.24" cy="1022.67" r="6.40" fill="#808285" stroke="#231f20" stroke-width="1.7" />
<circle cx="1008.36" cy="1033.05" r="6.40" fill="#808285" stroke="#231f20" stroke-width="1.7" />
<circle cx="996.31" cy="1035.12" r="6.40" fill="#808285" stroke="#231f20" stroke-width="1.7" />
<circle cx="1002.33" cy="1065.23" r="6.40" fill="#808285" stroke="#231f20" stroke-width="1.7" />
<circle cx="1064.00" cy="921.34" r="6.40" fill="#e6097f" stroke="#231f20" stroke-width="1.7" />
<circle cx="1058.19" cy="912.62" r="6.40" fill="#e6097f" stroke="#231f20" stroke-width="1.7" />
<circle cx="1057.77" cy="930.27" r="6.40" fill="#e6097f" stroke="#231f20" stroke-width="1.7" />
<circle cx="1057.77" cy="945.84" r="6.40" fill="#e6097f" stroke="#231f20" stroke-width="1.7" />
<circle cx="1064.00" cy="969.72" r="6.40" fill="#e6097f" stroke="#231f20" stroke-width="1.7" />
<circle cx="1057.77" cy="979.06" r="6.40" fill="#e6097f" stroke="#231f20" stroke-width="1.7" />
<circle cx="1064.00" cy="989.86" r="6.40" fill="#e6097f" stroke="#231f20" stroke-width="1.7" />
<circle cx="1070.23" cy="1002.52" r="6.40" fill="#e6097f" stroke="#231f20" stroke-width="1.7" />
<circle cx="1064.00" cy="1008.13" r="6.40" fill="#e6097f" stroke="#231f20" stroke-width="1.7" />
<circle cx="1058.19" cy="1008.13" r="6.40" fill="#e6097f" stroke="#231f20" stroke-width="1.7" />
<circle cx="1045.73" cy="1011.66" r="6.40" fill="#e6097f" stroke="#231f20" stroke-width="1.7" />
<circle cx="1051.96" cy="1018.51" r="6.40" fill="#e6097f" stroke="#231f20" stroke-width="1.7" />
<circle cx="1070.23" cy="1017.89" r="6.40" fill="#e6097f" stroke="#231f20" stroke-width="1.7" />
<circle cx="1058.19" cy="1024.74" r="6.40" fill="#e6097f" stroke="#231f20" stroke-width="1.7" />
<circle cx="1051.96" cy="1032.01" r="6.40" fill="#e6097f" stroke="#231f20" stroke-width="1.7" />
<circle cx="1064.00" cy="1034.50" r="6.40" fill="#e6097f" stroke="#231f20" stroke-width="1.7" />
<circle cx="1058.19" cy="1044.88" r="6.40" fill="#e6097f" stroke="#231f20" stroke-width="1.7" />
<circle cx="1058.19" cy="1084.96" r="6.40" fill="#e6097f" stroke="#231f20" stroke-width="1.7" />
<circle cx="1113.84" cy="845.76" r="6.40" fill="#00a0dc" stroke="#231f20" stroke-width="1.7" />
<circle cx="1109.68" cy="870.05" r="6.40" fill="#00a0dc" stroke="#231f20" stroke-width="1.7" />
<circle cx="1118.41" cy="873.58" r="6.40" fill="#00a0dc" stroke="#231f20" stroke-width="1.7" />
<circle cx="1113.84" cy="892.27" r="6.40" fill="#00a0dc" stroke="#231f20" stroke-width="1.7" />
<circle cx="1113.84" cy="914.69" r="6.40" fill="#00a0dc" stroke="#231f20" stroke-width="1.7" />
<circle cx="1118.41" cy="933.38" r="6.40" fill="#00a0dc" stroke="#231f20" stroke-width="1.7" />
<circle cx="1126.09" cy="930.27" r="6.40" fill="#00a0dc" stroke="#231f20" stroke-width="1.7" />
<circle cx="1101.79" cy="937.95" r="6.40" fill="#00a0dc" stroke="#231f20" stroke-width="1.7" />
<circle cx="1109.68" cy="936.50" r="6.40" fill="#00a0dc" stroke="#231f20" stroke-width="1.7" />
<circle cx="1126.09" cy="957.26" r="6.40" fill="#00a0dc" stroke="#231f20" stroke-width="1.7" />
<circle cx="1118.41" cy="961.00" r="6.40" fill="#00a0dc" stroke="#231f20" stroke-width="1.7" />
<circle cx="1101.79" cy="963.49" r="6.40" fill="#00a0dc" stroke="#231f20" stroke-width="1.7" />
<circle cx="1109.68" cy="974.91" r="6.40" fill="#00a0dc" stroke="#231f20" stroke-width="1.7" />
<circle cx="1117.78" cy="977.61" r="6.40" fill="#00a0dc" stroke="#231f20" stroke-width="1.7" />
<circle cx="1126.09" cy="976.36" r="6.40" fill="#00a0dc" stroke="#231f20" stroke-width="1.7" />
<circle cx="1101.79" cy="983.21" r="6.40" fill="#00a0dc" stroke="#231f20" stroke-width="1.7" />
<circle cx="1169.69" cy="846.79" r="6.40" fill="#0ca550" stroke="#231f20" stroke-width="1.7" />
<circle cx="1176.13" cy="869.43" r="6.40" fill="#0ca550" stroke="#231f20" stroke-width="1.7" />
<circle cx="1163.67" cy="873.79" r="6.40" fill="#0ca550" stroke="#231f20" stroke-width="1.7" />
<circle cx="1169.69" cy="903.90" r="6.40" fill="#0ca550" stroke="#231f20" stroke-width="1.7" />
<circle cx="1182.15" cy="904.31" r="6.40" fill="#0ca550" stroke="#231f20" stroke-width="1.7" />
<circle cx="1157.86" cy="909.92" r="6.40" fill="#0ca550" stroke="#231f20" stroke-width="1.7" />
<circle cx="1169.69" cy="935.46" r="6.40" fill="#0ca550" stroke="#231f20" stroke-width="1.7" />
<circle cx="1157.86" cy="942.72" r="6.40" fill="#0ca550" stroke="#231f20" stroke-width="1.7" />
<circle cx="1169.69" cy="954.77" r="6.40" fill="#0ca550" stroke="#231f20" stroke-width="1.7" />
<circle cx="1182.15" cy="955.81" r="6.40" fill="#0ca550" stroke="#231f20" stroke-width="1.7" />
<circle cx="1157.86" cy="964.53" r="6.40" fill="#0ca550" stroke="#231f20" stroke-width="1.7" />
<circle cx="1169.69" cy="971.79" r="6.40" fill="#0ca550" stroke="#231f20" stroke-width="1.7" />
<circle cx="1182.15" cy="971.79" r="6.40" fill="#0ca550" stroke="#231f20" stroke-width="1.7" />
<circle cx="1169.69" cy="994.01" r="6.40" fill="#0ca550" stroke="#231f20" stroke-width="1.7" />
<circle cx="1225.55" cy="818.55" r="6.40" fill="#ee6a25" stroke="#231f20" stroke-width="1.7" />
<circle cx="1225.55" cy="835.79" r="6.40" fill="#ee6a25" stroke="#231f20" stroke-width="1.7" />
<circle cx="1225.55" cy="866.31" r="6.40" fill="#ee6a25" stroke="#231f20" stroke-width="1.7" />
<circle cx="1225.55" cy="885.00" r="6.40" fill="#ee6a25" stroke="#231f20" stroke-width="1.7" />
<circle cx="1213.50" cy="892.89" r="6.40" fill="#ee6a25" stroke="#231f20" stroke-width="1.7" />
<circle cx="1237.80" cy="899.12" r="6.40" fill="#ee6a25" stroke="#231f20" stroke-width="1.7" />
<circle cx="1225.55" cy="905.35" r="6.40" fill="#ee6a25" stroke="#231f20" stroke-width="1.7" />
<circle cx="1219.53" cy="922.58" r="6.40" fill="#ee6a25" stroke="#231f20" stroke-width="1.7" />
<circle cx="1231.57" cy="921.96" r="6.40" fill="#ee6a25" stroke="#231f20" stroke-width="1.7" />
<circle cx="1225.55" cy="938.57" r="6.40" fill="#ee6a25" stroke="#231f20" stroke-width="1.7" />
<circle cx="1237.80" cy="936.50" r="6.40" fill="#ee6a25" stroke="#231f20" stroke-width="1.7" />
<circle cx="1213.50" cy="947.50" r="6.40" fill="#ee6a25" stroke="#231f20" stroke-width="1.7" />
<circle cx="1237.80" cy="954.14" r="6.40" fill="#ee6a25" stroke="#231f20" stroke-width="1.7" />
<circle cx="1225.55" cy="965.56" r="6.40" fill="#ee6a25" stroke="#231f20" stroke-width="1.7" />
<circle cx="1237.80" cy="974.91" r="6.40" fill="#ee6a25" stroke="#231f20" stroke-width="1.7" />
<circle cx="1225.55" cy="979.06" r="6.40" fill="#ee6a25" stroke="#231f20" stroke-width="1.7" />
<circle cx="1225.55" cy="1003.98" r="6.40" fill="#ee6a25" stroke="#231f20" stroke-width="1.7" />
<line x1="946.50" y1="1097.60" x2="946.50" y2="1110.20" stroke="#231f20" stroke-width="1.2" />
<text transform="translate(958.20 1134.80) rotate(-45)" x="-76.63" y="0" font-size="27.5" textLength="78.79" lengthAdjust="spacingAndGlyphs" fill="#231f20">SHAM</text>
<line x1="1002.30" y1="1097.60" x2="1002.30" y2="1110.20" stroke="#231f20" stroke-width="1.2" />
<text transform="translate(1014.00 1134.80) rotate(-45)" x="-28.20" y="0" font-size="27.5" fill="#231f20">MI</text>
<line x1="1058.20" y1="1097.60" x2="1058.20" y2="1110.20" stroke="#231f20" stroke-width="1.2" />
<text transform="translate(1069.90 1134.80) rotate(-45)" x="-168.73" y="0" font-size="27.5" textLength="169.88" lengthAdjust="spacingAndGlyphs" fill="#231f20">MI + ARM036</text>
<line x1="1113.80" y1="1097.60" x2="1113.80" y2="1110.20" stroke="#231f20" stroke-width="1.2" />
<text transform="translate(1125.50 1134.80) rotate(-45)" x="-118.59" y="0" font-size="27.5" textLength="119.79" lengthAdjust="spacingAndGlyphs" fill="#231f20">MI + S107</text>
<line x1="1169.70" y1="1097.60" x2="1169.70" y2="1110.20" stroke="#231f20" stroke-width="1.2" />
<text transform="translate(1181.40 1134.80) rotate(-45)" x="-208.32" y="0" font-size="27.5" textLength="210.17" lengthAdjust="spacingAndGlyphs" fill="#231f20">MI + propranolol</text>
<line x1="1225.50" y1="1097.60" x2="1225.50" y2="1110.20" stroke="#231f20" stroke-width="1.2" />
<text transform="translate(1237.20 1134.80) rotate(-45)" x="-152.68" y="0" font-size="27.5" textLength="153.80" lengthAdjust="spacingAndGlyphs" fill="#231f20">MI + SD-208</text>
<text transform="translate(796.00 933.80) rotate(-90)" x="-142.93" y="0" font-size="27.5" textLength="285.42" lengthAdjust="spacingAndGlyphs" fill="#231f20">Total duration in target</text>
<text transform="translate(827.00 936.30) rotate(-90)" x="-75.93" y="0" font-size="27.5" textLength="152.33" lengthAdjust="spacingAndGlyphs" fill="#231f20">quadrant (s)</text>
<text transform="translate(1007.70 886.20)" x="-6.83" y="0" font-size="35" fill="#231f20">*</text>
<text transform="translate(1055.50 886.20)" x="-6.83" y="0" font-size="35" fill="#231f20">*</text>
<text transform="translate(1114.30 783.60)" x="-6.75" y="0" font-size="25" textLength="13.53" lengthAdjust="spacingAndGlyphs" fill="#231f20">#</text>
<text transform="translate(1167.60 783.60)" x="-6.75" y="0" font-size="25" textLength="13.53" lengthAdjust="spacingAndGlyphs" fill="#231f20">#</text>
<text transform="translate(1222.20 783.60)" x="-6.75" y="0" font-size="25" textLength="13.53" lengthAdjust="spacingAndGlyphs" fill="#231f20">#</text>
<text transform="translate(1355.10 684.30)" x="-0.70" y="0" font-size="40" font-weight="700" textLength="15.61" lengthAdjust="spacingAndGlyphs" fill="#231f20">f</text>
<path d="M1456.60 773.10H1469.00V1098.50" stroke="#231f20" stroke-width="1.2" fill="none" />
<line x1="1456.60" y1="1098.50" x2="1823.80" y2="1098.50" stroke="#231f20" stroke-width="1.2" />
<text transform="translate(1442.60 1106.80)" x="-14.26" y="0" font-size="24" textLength="15.25" lengthAdjust="spacingAndGlyphs" fill="#231f20">0</text>
<line x1="1456.60" y1="989.90" x2="1469.00" y2="989.90" stroke="#231f20" stroke-width="1.2" />
<text transform="translate(1442.60 998.20)" x="-13.66" y="0" font-size="24" textLength="14.75" lengthAdjust="spacingAndGlyphs" fill="#231f20">5</text>
<line x1="1456.60" y1="881.40" x2="1469.00" y2="881.40" stroke="#231f20" stroke-width="1.2" />
<text transform="translate(1442.60 889.70)" x="-24.73" y="0" font-size="24" textLength="25.58" lengthAdjust="spacingAndGlyphs" fill="#231f20">10</text>
<text transform="translate(1442.60 781.40)" x="-22.05" y="0" font-size="24" textLength="22.92" lengthAdjust="spacingAndGlyphs" fill="#231f20">15</text>
<rect x="1487.80" y="999.80" width="37.00" height="98.70" fill="#fff" stroke="#231f20" stroke-width="1.45" />
<rect x="1543.60" y="1046.50" width="37.00" height="52.00" fill="#fff" stroke="#231f20" stroke-width="1.45" />
<rect x="1599.50" y="1057.50" width="37.00" height="41.00" fill="#fff" stroke="#231f20" stroke-width="1.45" />
<rect x="1655.60" y="1007.10" width="36.90" height="91.40" fill="#fff" stroke="#231f20" stroke-width="1.45" />
<rect x="1711.40" y="1022.70" width="37.20" height="75.80" fill="#fff" stroke="#231f20" stroke-width="1.45" />
<rect x="1767.30" y="1000.40" width="37.10" height="98.10" fill="#fff" stroke="#231f20" stroke-width="1.45" />
<path d="M1497.00 989.86H1515.60M1506.30 989.86V1007.09M1497.00 1007.09H1515.60" stroke="#231f20" stroke-width="1.45" fill="none" />
<path d="M1552.80 1040.32H1571.40M1562.10 1040.32V1052.77M1552.80 1052.77H1571.40" stroke="#231f20" stroke-width="1.45" fill="none" />
<path d="M1608.70 1049.66H1627.30M1618.00 1049.66V1066.27M1608.70 1066.27H1627.30" stroke="#231f20" stroke-width="1.45" fill="none" />
<path d="M1664.75 1000.45H1683.35M1674.05 1000.45V1014.36M1664.75 1014.36H1683.35" stroke="#231f20" stroke-width="1.45" fill="none" />
<path d="M1720.70 1012.28H1739.30M1730.00 1012.28V1032.01M1720.70 1032.01H1739.30" stroke="#231f20" stroke-width="1.45" fill="none" />
<path d="M1776.55 989.86H1795.15M1785.85 989.86V1012.70M1776.55 1012.70H1795.15" stroke="#231f20" stroke-width="1.45" fill="none" />
<circle cx="1506.06" cy="924.87" r="6.40" fill="none" stroke="#231f20" stroke-width="1.7" />
<circle cx="1499.83" cy="946.57" r="6.40" fill="none" stroke="#231f20" stroke-width="1.7" />
<circle cx="1506.06" cy="946.57" r="6.40" fill="none" stroke="#231f20" stroke-width="1.7" />
<circle cx="1511.88" cy="946.57" r="6.40" fill="none" stroke="#231f20" stroke-width="1.7" />
<circle cx="1506.06" cy="968.26" r="6.40" fill="none" stroke="#231f20" stroke-width="1.7" />
<circle cx="1496.72" cy="989.96" r="6.40" fill="none" stroke="#231f20" stroke-width="1.7" />
<circle cx="1501.91" cy="989.96" r="6.40" fill="none" stroke="#231f20" stroke-width="1.7" />
<circle cx="1506.06" cy="989.96" r="6.40" fill="none" stroke="#231f20" stroke-width="1.7" />
<circle cx="1510.22" cy="989.96" r="6.40" fill="none" stroke="#231f20" stroke-width="1.7" />
<circle cx="1515.41" cy="989.96" r="6.40" fill="none" stroke="#231f20" stroke-width="1.7" />
<circle cx="1494.02" cy="1011.66" r="6.40" fill="none" stroke="#231f20" stroke-width="1.7" />
<circle cx="1499.83" cy="1011.66" r="6.40" fill="none" stroke="#231f20" stroke-width="1.7" />
<circle cx="1506.06" cy="1011.66" r="6.40" fill="none" stroke="#231f20" stroke-width="1.7" />
<circle cx="1511.88" cy="1011.66" r="6.40" fill="none" stroke="#231f20" stroke-width="1.7" />
<circle cx="1518.11" cy="1011.66" r="6.40" fill="none" stroke="#231f20" stroke-width="1.7" />
<circle cx="1496.72" cy="1033.36" r="6.40" fill="none" stroke="#231f20" stroke-width="1.7" />
<circle cx="1502.95" cy="1033.36" r="6.40" fill="none" stroke="#231f20" stroke-width="1.7" />
<circle cx="1509.18" cy="1033.36" r="6.40" fill="none" stroke="#231f20" stroke-width="1.7" />
<circle cx="1515.41" cy="1033.36" r="6.40" fill="none" stroke="#231f20" stroke-width="1.7" />
<circle cx="1502.95" cy="1055.06" r="6.40" fill="none" stroke="#231f20" stroke-width="1.7" />
<circle cx="1509.18" cy="1055.06" r="6.40" fill="none" stroke="#231f20" stroke-width="1.7" />
<circle cx="1562.33" cy="989.96" r="6.40" fill="#808285" stroke="#231f20" stroke-width="1.7" />
<circle cx="1550.29" cy="1011.66" r="6.40" fill="#808285" stroke="#231f20" stroke-width="1.7" />
<circle cx="1556.31" cy="1011.66" r="6.40" fill="#808285" stroke="#231f20" stroke-width="1.7" />
<circle cx="1568.36" cy="1011.66" r="6.40" fill="#808285" stroke="#231f20" stroke-width="1.7" />
<circle cx="1574.58" cy="1011.66" r="6.40" fill="#808285" stroke="#231f20" stroke-width="1.7" />
<circle cx="1556.31" cy="1033.36" r="6.40" fill="#808285" stroke="#231f20" stroke-width="1.7" />
<circle cx="1562.33" cy="1033.36" r="6.40" fill="#808285" stroke="#231f20" stroke-width="1.7" />
<circle cx="1568.36" cy="1033.36" r="6.40" fill="#808285" stroke="#231f20" stroke-width="1.7" />
<circle cx="1550.29" cy="1055.06" r="6.40" fill="#808285" stroke="#231f20" stroke-width="1.7" />
<circle cx="1562.33" cy="1055.06" r="6.40" fill="#808285" stroke="#231f20" stroke-width="1.7" />
<circle cx="1574.58" cy="1055.06" r="6.40" fill="#808285" stroke="#231f20" stroke-width="1.7" />
<circle cx="1553.20" cy="1076.76" r="6.40" fill="#808285" stroke="#231f20" stroke-width="1.7" />
<circle cx="1559.43" cy="1076.76" r="6.40" fill="#808285" stroke="#231f20" stroke-width="1.7" />
<circle cx="1571.47" cy="1076.76" r="6.40" fill="#808285" stroke="#231f20" stroke-width="1.7" />
<circle cx="1565.24" cy="1076.76" r="6.40" fill="#808285" stroke="#231f20" stroke-width="1.7" />
<circle cx="1565.24" cy="1098.46" r="6.40" fill="#808285" stroke="#231f20" stroke-width="1.7" />
<circle cx="1559.43" cy="1098.46" r="6.40" fill="#808285" stroke="#231f20" stroke-width="1.7" />
<circle cx="1614.04" cy="989.96" r="6.40" fill="#e6097f" stroke="#231f20" stroke-width="1.7" />
<circle cx="1621.93" cy="989.96" r="6.40" fill="#e6097f" stroke="#231f20" stroke-width="1.7" />
<circle cx="1617.77" cy="989.96" r="6.40" fill="#e6097f" stroke="#231f20" stroke-width="1.7" />
<circle cx="1617.77" cy="1011.66" r="6.40" fill="#e6097f" stroke="#231f20" stroke-width="1.7" />
<circle cx="1611.96" cy="1055.06" r="6.40" fill="#e6097f" stroke="#231f20" stroke-width="1.7" />
<circle cx="1624.00" cy="1055.06" r="6.40" fill="#e6097f" stroke="#231f20" stroke-width="1.7" />
<circle cx="1605.73" cy="1076.76" r="6.40" fill="#e6097f" stroke="#231f20" stroke-width="1.7" />
<circle cx="1611.96" cy="1076.76" r="6.40" fill="#e6097f" stroke="#231f20" stroke-width="1.7" />
<circle cx="1624.00" cy="1076.76" r="6.40" fill="#e6097f" stroke="#231f20" stroke-width="1.7" />
<circle cx="1630.23" cy="1076.76" r="6.40" fill="#e6097f" stroke="#231f20" stroke-width="1.7" />
<circle cx="1622.34" cy="1098.46" r="6.40" fill="#e6097f" stroke="#231f20" stroke-width="1.7" />
<circle cx="1619.23" cy="1098.46" r="6.40" fill="#e6097f" stroke="#231f20" stroke-width="1.7" />
<circle cx="1614.04" cy="1098.46" r="6.40" fill="#e6097f" stroke="#231f20" stroke-width="1.7" />
<circle cx="1673.84" cy="946.57" r="6.40" fill="#00a0dc" stroke="#231f20" stroke-width="1.7" />
<circle cx="1673.84" cy="968.26" r="6.40" fill="#00a0dc" stroke="#231f20" stroke-width="1.7" />
<circle cx="1666.99" cy="989.96" r="6.40" fill="#00a0dc" stroke="#231f20" stroke-width="1.7" />
<circle cx="1680.48" cy="989.96" r="6.40" fill="#00a0dc" stroke="#231f20" stroke-width="1.7" />
<circle cx="1661.79" cy="1011.66" r="6.40" fill="#00a0dc" stroke="#231f20" stroke-width="1.7" />
<circle cx="1668.02" cy="1011.66" r="6.40" fill="#00a0dc" stroke="#231f20" stroke-width="1.7" />
<circle cx="1686.09" cy="1011.66" r="6.40" fill="#00a0dc" stroke="#231f20" stroke-width="1.7" />
<circle cx="1679.44" cy="1011.66" r="6.40" fill="#00a0dc" stroke="#231f20" stroke-width="1.7" />
<circle cx="1673.84" cy="1011.66" r="6.40" fill="#00a0dc" stroke="#231f20" stroke-width="1.7" />
<circle cx="1676.74" cy="1033.36" r="6.40" fill="#00a0dc" stroke="#231f20" stroke-width="1.7" />
<circle cx="1671.14" cy="1033.36" r="6.40" fill="#00a0dc" stroke="#231f20" stroke-width="1.7" />
<circle cx="1671.14" cy="1055.06" r="6.40" fill="#00a0dc" stroke="#231f20" stroke-width="1.7" />
<circle cx="1676.74" cy="1055.06" r="6.40" fill="#00a0dc" stroke="#231f20" stroke-width="1.7" />
<circle cx="1729.90" cy="903.17" r="6.40" fill="#0ca550" stroke="#231f20" stroke-width="1.7" />
<circle cx="1729.90" cy="946.57" r="6.40" fill="#0ca550" stroke="#231f20" stroke-width="1.7" />
<circle cx="1729.90" cy="989.96" r="6.40" fill="#0ca550" stroke="#231f20" stroke-width="1.7" />
<circle cx="1726.79" cy="1011.66" r="6.40" fill="#0ca550" stroke="#231f20" stroke-width="1.7" />
<circle cx="1732.81" cy="1011.66" r="6.40" fill="#0ca550" stroke="#231f20" stroke-width="1.7" />
<circle cx="1723.67" cy="1033.36" r="6.40" fill="#0ca550" stroke="#231f20" stroke-width="1.7" />
<circle cx="1736.13" cy="1033.36" r="6.40" fill="#0ca550" stroke="#231f20" stroke-width="1.7" />
<circle cx="1717.86" cy="1055.06" r="6.40" fill="#0ca550" stroke="#231f20" stroke-width="1.7" />
<circle cx="1729.90" cy="1055.06" r="6.40" fill="#0ca550" stroke="#231f20" stroke-width="1.7" />
<circle cx="1742.15" cy="1055.06" r="6.40" fill="#0ca550" stroke="#231f20" stroke-width="1.7" />
<circle cx="1729.90" cy="1076.76" r="6.40" fill="#0ca550" stroke="#231f20" stroke-width="1.7" />
<circle cx="1785.96" cy="859.77" r="6.40" fill="#ee6a25" stroke="#231f20" stroke-width="1.7" />
<circle cx="1782.85" cy="946.57" r="6.40" fill="#ee6a25" stroke="#231f20" stroke-width="1.7" />
<circle cx="1788.87" cy="946.57" r="6.40" fill="#ee6a25" stroke="#231f20" stroke-width="1.7" />
<circle cx="1785.96" cy="968.26" r="6.40" fill="#ee6a25" stroke="#231f20" stroke-width="1.7" />
<circle cx="1773.50" cy="989.96" r="6.40" fill="#ee6a25" stroke="#231f20" stroke-width="1.7" />
<circle cx="1797.80" cy="989.96" r="6.40" fill="#ee6a25" stroke="#231f20" stroke-width="1.7" />
<circle cx="1779.73" cy="989.96" r="6.40" fill="#ee6a25" stroke="#231f20" stroke-width="1.7" />
<circle cx="1792.19" cy="989.96" r="6.40" fill="#ee6a25" stroke="#231f20" stroke-width="1.7" />
<circle cx="1785.96" cy="1011.66" r="6.40" fill="#ee6a25" stroke="#231f20" stroke-width="1.7" />
<circle cx="1779.73" cy="1033.36" r="6.40" fill="#ee6a25" stroke="#231f20" stroke-width="1.7" />
<circle cx="1791.57" cy="1033.36" r="6.40" fill="#ee6a25" stroke="#231f20" stroke-width="1.7" />
<circle cx="1785.96" cy="1033.36" r="6.40" fill="#ee6a25" stroke="#231f20" stroke-width="1.7" />
<circle cx="1777.03" cy="1055.06" r="6.40" fill="#ee6a25" stroke="#231f20" stroke-width="1.7" />
<circle cx="1794.68" cy="1055.06" r="6.40" fill="#ee6a25" stroke="#231f20" stroke-width="1.7" />
<circle cx="1785.96" cy="1055.06" r="6.40" fill="#ee6a25" stroke="#231f20" stroke-width="1.7" />
<line x1="1506.10" y1="1098.50" x2="1506.10" y2="1111.10" stroke="#231f20" stroke-width="1.2" />
<text transform="translate(1517.80 1135.70) rotate(-45)" x="-76.63" y="0" font-size="27.5" textLength="78.79" lengthAdjust="spacingAndGlyphs" fill="#231f20">SHAM</text>
<line x1="1562.30" y1="1098.50" x2="1562.30" y2="1111.10" stroke="#231f20" stroke-width="1.2" />
<text transform="translate(1574.00 1135.70) rotate(-45)" x="-28.20" y="0" font-size="27.5" fill="#231f20">MI</text>
<line x1="1617.80" y1="1098.50" x2="1617.80" y2="1111.10" stroke="#231f20" stroke-width="1.2" />
<text transform="translate(1629.50 1135.70) rotate(-45)" x="-168.73" y="0" font-size="27.5" textLength="169.88" lengthAdjust="spacingAndGlyphs" fill="#231f20">MI + ARM036</text>
<line x1="1673.80" y1="1098.50" x2="1673.80" y2="1111.10" stroke="#231f20" stroke-width="1.2" />
<text transform="translate(1685.50 1135.70) rotate(-45)" x="-118.59" y="0" font-size="27.5" textLength="119.79" lengthAdjust="spacingAndGlyphs" fill="#231f20">MI + S107</text>
<line x1="1729.90" y1="1098.50" x2="1729.90" y2="1111.10" stroke="#231f20" stroke-width="1.2" />
<text transform="translate(1741.60 1135.70) rotate(-45)" x="-208.32" y="0" font-size="27.5" textLength="210.17" lengthAdjust="spacingAndGlyphs" fill="#231f20">MI + propranolol</text>
<line x1="1786.00" y1="1098.50" x2="1786.00" y2="1111.10" stroke="#231f20" stroke-width="1.2" />
<text transform="translate(1797.70 1135.70) rotate(-45)" x="-152.68" y="0" font-size="27.5" textLength="153.80" lengthAdjust="spacingAndGlyphs" fill="#231f20">MI + SD-208</text>
<text transform="translate(1390.90 933.40) rotate(-90)" x="-172.34" y="0" font-size="27.5" textLength="343.39" lengthAdjust="spacingAndGlyphs" fill="#231f20">Number of target crossings</text>
<text transform="translate(1562.80 978.60)" x="-6.83" y="0" font-size="35" fill="#231f20">*</text>
<text transform="translate(1610.50 978.60)" x="-6.83" y="0" font-size="35" fill="#231f20">*</text>
<text transform="translate(1674.90 921.00)" x="-6.75" y="0" font-size="25" textLength="13.53" lengthAdjust="spacingAndGlyphs" fill="#231f20">#</text>
<text transform="translate(1727.80 857.30)" x="-6.75" y="0" font-size="25" textLength="13.53" lengthAdjust="spacingAndGlyphs" fill="#231f20">#</text>
<text transform="translate(1782.80 825.10)" x="-6.75" y="0" font-size="25" textLength="13.53" lengthAdjust="spacingAndGlyphs" fill="#231f20">#</text>
<text transform="translate(0.30 1339.80)" x="-1.88" y="0" font-size="36" font-weight="700" textLength="28.67" lengthAdjust="spacingAndGlyphs" fill="#231f20">g</text>
<text transform="translate(149.60 1359.60)" x="-39.13" y="0" font-size="27.5" textLength="79.20" lengthAdjust="spacingAndGlyphs" fill="#231f20">SHAM</text>
<text transform="translate(456.80 1359.60)" x="-15.49" y="0" font-size="27.5" textLength="31.15" lengthAdjust="spacingAndGlyphs" fill="#231f20">MI</text>
<text transform="translate(764.50 1359.60)" x="-85.48" y="0" font-size="27.5" textLength="169.88" lengthAdjust="spacingAndGlyphs" fill="#231f20">MI + ARM036</text>
<text transform="translate(1072.00 1359.60)" x="-60.86" y="0" font-size="27.5" textLength="120.82" lengthAdjust="spacingAndGlyphs" fill="#231f20">MI + S107</text>
<text transform="translate(1379.20 1359.60)" x="-106.08" y="0" font-size="27.5" textLength="211.70" lengthAdjust="spacingAndGlyphs" fill="#231f20">MI + propranolol</text>
<text transform="translate(1686.90 1359.60)" x="-77.95" y="0" font-size="27.5" fill="#231f20">MI + SD-208</text>
<clipPath id="cp1"><rect x="2.0" y="1379.0" width="282.0" height="280.5"/></clipPath>
<g clip-path="url(#cp1)">
<rect x="2.0" y="1379.0" width="282.0" height="280.5" fill="url(#bgA)"/>
<circle cx="141.4" cy="1522.5" r="139.5" fill="#4c4c4c"/>
<circle cx="143.9" cy="1524.5" r="132.0" fill="url(#wallg)"/>
<circle cx="145.1" cy="1522.0" r="97.5" fill="url(#disc)" filter="url(#bl3)"/>
<g fill="none" stroke-linecap="round" stroke-linejoin="round"><g filter="url(#bl)" stroke="#3b33a2"><path d="M113.1 1607.7C112.0 1606.9 110.1 1605.8 106.6 1602.8C103.0 1599.8 96.7 1594.3 91.8 1589.7C86.9 1585.0 81.4 1580.1 77.0 1574.9C72.7 1569.7 69.1 1565.4 65.6 1558.5C62.0 1551.7 58.5 1541.6 55.7 1533.9C53.0 1526.3 50.0 1519.7 49.2 1512.6C48.4 1505.5 48.9 1498.1 50.8 1491.3C52.7 1484.5 56.3 1477.9 60.7 1471.6C65.0 1465.4 70.8 1459.1 77.0 1453.6C83.3 1448.1 90.4 1442.7 98.4 1438.9C106.3 1435.0 115.6 1432.3 124.6 1430.7C133.6 1429.0 143.7 1428.7 152.5 1429.0C161.2 1429.3 170.5 1430.7 177.0 1432.3C183.6 1433.9 187.4 1435.0 191.8 1438.9C196.2 1442.7 200.5 1448.1 203.3 1455.2C206.0 1462.3 207.9 1473.0 208.2 1481.5C208.5 1489.9 207.7 1498.4 204.9 1506.1C202.2 1513.7 197.3 1521.4 191.8 1527.4C186.3 1533.4 178.7 1537.5 172.1 1542.1C165.6 1546.8 157.9 1550.3 152.5 1555.2C147.0 1560.2 142.1 1565.9 139.3 1571.6C136.6 1577.4 135.8 1584.2 136.1 1589.7C136.3 1595.1 137.7 1600.6 141.0 1604.4C144.3 1608.3 149.7 1611.5 155.7 1612.6C161.7 1613.7 170.2 1612.6 177.0 1611.0C183.9 1609.3 191.3 1606.6 196.7 1602.8C202.2 1599.0 207.1 1591.6 209.8 1588.0C212.6 1584.5 212.6 1582.6 213.1 1581.5" stroke-width="25.0"/><path d="M127.9 1443.8C127.3 1447.9 126.8 1460.4 124.6 1468.4C122.4 1476.3 119.1 1484.2 114.8 1491.3C110.4 1498.4 104.4 1505.2 98.4 1511.0C92.3 1516.7 84.7 1521.6 78.7 1525.7C72.7 1529.8 65.0 1533.9 62.3 1535.6" stroke-width="25.0"/><path d="M198.4 1461.8C197.0 1466.2 194.5 1479.8 190.2 1488.0C185.8 1496.2 179.2 1504.2 172.1 1511.0C165.0 1517.8 156.0 1523.8 147.5 1529.0C139.1 1534.2 129.5 1537.8 121.3 1542.1C113.1 1546.5 105.5 1551.1 98.4 1555.2C91.3 1559.3 83.3 1563.7 78.7 1566.7C74.0 1569.7 71.9 1572.2 70.5 1573.3" stroke-width="25.0"/><circle cx="188.5" cy="1438.0" r="15.5" fill="#3b33a2" stroke="none"/></g><g filter="url(#blc)" stroke="#4659b0"><path d="M113.1 1607.7C112.0 1606.9 110.1 1605.8 106.6 1602.8C103.0 1599.8 96.7 1594.3 91.8 1589.7C86.9 1585.0 81.4 1580.1 77.0 1574.9C72.7 1569.7 69.1 1565.4 65.6 1558.5C62.0 1551.7 58.5 1541.6 55.7 1533.9C53.0 1526.3 50.0 1519.7 49.2 1512.6C48.4 1505.5 48.9 1498.1 50.8 1491.3C52.7 1484.5 56.3 1477.9 60.7 1471.6C65.0 1465.4 70.8 1459.1 77.0 1453.6C83.3 1448.1 90.4 1442.7 98.4 1438.9C106.3 1435.0 115.6 1432.3 124.6 1430.7C133.6 1429.0 143.7 1428.7 152.5 1429.0C161.2 1429.3 170.5 1430.7 177.0 1432.3C183.6 1433.9 187.4 1435.0 191.8 1438.9C196.2 1442.7 200.5 1448.1 203.3 1455.2C206.0 1462.3 207.9 1473.0 208.2 1481.5C208.5 1489.9 207.7 1498.4 204.9 1506.1C202.2 1513.7 197.3 1521.4 191.8 1527.4C186.3 1533.4 178.7 1537.5 172.1 1542.1C165.6 1546.8 157.9 1550.3 152.5 1555.2C147.0 1560.2 142.1 1565.9 139.3 1571.6C136.6 1577.4 135.8 1584.2 136.1 1589.7C136.3 1595.1 137.7 1600.6 141.0 1604.4C144.3 1608.3 149.7 1611.5 155.7 1612.6C161.7 1613.7 170.2 1612.6 177.0 1611.0C183.9 1609.3 191.3 1606.6 196.7 1602.8C202.2 1599.0 207.1 1591.6 209.8 1588.0C212.6 1584.5 212.6 1582.6 213.1 1581.5" stroke-width="13.8"/><path d="M127.9 1443.8C127.3 1447.9 126.8 1460.4 124.6 1468.4C122.4 1476.3 119.1 1484.2 114.8 1491.3C110.4 1498.4 104.4 1505.2 98.4 1511.0C92.3 1516.7 84.7 1521.6 78.7 1525.7C72.7 1529.8 65.0 1533.9 62.3 1535.6" stroke-width="13.8"/><path d="M198.4 1461.8C197.0 1466.2 194.5 1479.8 190.2 1488.0C185.8 1496.2 179.2 1504.2 172.1 1511.0C165.0 1517.8 156.0 1523.8 147.5 1529.0C139.1 1534.2 129.5 1537.8 121.3 1542.1C113.1 1546.5 105.5 1551.1 98.4 1555.2C91.3 1559.3 83.3 1563.7 78.7 1566.7C74.0 1569.7 71.9 1572.2 70.5 1573.3" stroke-width="13.8"/></g><g filter="url(#bl2)"><path d="M50.8 1517.5C51.1 1514.3 51.4 1504.7 52.5 1497.9C53.6 1491.0 54.6 1482.8 57.4 1476.6C60.1 1470.3 63.7 1465.6 68.9 1460.2C74.0 1454.7 80.9 1448.1 88.5 1443.8C96.2 1439.4 106.3 1436.1 114.8 1433.9C123.2 1431.7 129.8 1430.8 139.3 1430.7C148.9 1430.5 166.7 1432.7 172.1 1433.1" stroke="#3fb8ea" stroke-width="6.0"/><path d="M82.0 1589.7C84.2 1591.0 90.7 1595.4 95.1 1597.9C99.5 1600.3 106.0 1603.3 108.2 1604.4" stroke="#3fb8ea" stroke-width="6.0"/><path d="M55.7 1484.8C57.4 1481.7 61.2 1472.5 65.6 1466.7C69.9 1461.0 76.0 1454.7 82.0 1450.3C88.0 1446.0 98.4 1442.1 101.6 1440.5" stroke="#cfe23e" stroke-width="4.5"/><path d="M52.8 1496.2L56.6 1483.1" stroke="#f5b31c" stroke-width="7.5"/><path d="M52.8 1496.2L56.6 1483.1" stroke="#d81e1a" stroke-width="3.5"/></g></g>
<circle cx="49.2" cy="1532.3" r="7.0" fill="url(#cyan)"/>
<circle cx="82.8" cy="1589.7" r="8.0" fill="url(#cyan)"/>
<circle cx="127.0" cy="1454.4" r="6.0" fill="url(#cyan)"/>
<circle cx="188.5" cy="1438.0" r="10.0" fill="url(#hot)"/>
</g>
<circle cx="143.9" cy="1524.5" r="130.0" fill="none" stroke="#ffffff" stroke-width="6.3"/>
<rect x="2.30" y="1380.50" width="67.00" height="27.50" fill="#fff" stroke="#231f20" stroke-width="1.2" />
<text transform="translate(6.70 1401.00)" x="-1.87" y="0" font-size="22.5" textLength="60.97" lengthAdjust="spacingAndGlyphs" fill="#231f20">Day 2</text>
<clipPath id="cp2"><rect x="306.2" y="1379.0" width="284.3" height="281.0"/></clipPath>
<g clip-path="url(#cp2)">
<rect x="306.2" y="1379.0" width="284.3" height="281.0" fill="url(#bgA)"/>
<circle cx="453.5" cy="1519.0" r="143.5" fill="#4c4c4c"/>
<circle cx="458.6" cy="1520.4" r="137.0" fill="url(#wallg)"/>
<circle cx="448.4" cy="1522.0" r="97.5" fill="url(#disc)" filter="url(#bl3)"/>
<g fill="none" stroke-linecap="round" stroke-linejoin="round"><g filter="url(#bl)" stroke="#3b33a2"><path d="M355.7 1517.5C354.4 1508.3 352.5 1502.8 354.1 1494.6C355.7 1486.4 360.4 1476.3 365.6 1468.4C370.8 1460.4 377.0 1453.1 385.2 1447.0C393.4 1441.0 404.4 1436.1 414.8 1432.3C425.1 1428.5 436.6 1425.2 447.5 1424.1C458.5 1423.0 469.4 1423.0 480.3 1425.7C491.3 1428.5 504.1 1433.4 513.1 1440.5C522.1 1447.6 529.2 1458.3 534.4 1468.4C539.6 1478.5 542.9 1490.2 544.3 1501.1C545.6 1512.1 544.5 1523.6 542.6 1533.9C540.7 1544.3 536.9 1554.4 532.8 1563.4C528.7 1572.5 525.4 1580.7 518.0 1588.0C510.7 1595.4 497.0 1602.1 488.5 1607.7C480.1 1613.3 475.4 1619.5 467.2 1621.6C459.0 1623.8 448.1 1621.2 439.3 1620.8C430.6 1620.4 422.7 1622.5 414.8 1619.2C406.8 1615.9 399.2 1607.7 391.8 1601.1C384.4 1594.6 375.4 1588.3 370.5 1579.8C365.6 1571.4 364.8 1560.7 362.3 1550.3C359.8 1539.9 357.1 1526.8 355.7 1517.5Z" fill="#3b33a2" stroke-width="11"/><circle cx="359.3" cy="1498.2" r="15.5" fill="#3b33a2" stroke="none"/><circle cx="515.1" cy="1580.7" r="15.5" fill="#3b33a2" stroke="none"/><circle cx="471.8" cy="1607.7" r="15.5" fill="#3b33a2" stroke="none"/></g><g filter="url(#blc)" stroke="#4659b0"><path d="M355.7 1517.5C354.4 1508.3 352.5 1502.8 354.1 1494.6C355.7 1486.4 360.4 1476.3 365.6 1468.4C370.8 1460.4 377.0 1453.1 385.2 1447.0C393.4 1441.0 404.4 1436.1 414.8 1432.3C425.1 1428.5 436.6 1425.2 447.5 1424.1C458.5 1423.0 469.4 1423.0 480.3 1425.7C491.3 1428.5 504.1 1433.4 513.1 1440.5C522.1 1447.6 529.2 1458.3 534.4 1468.4C539.6 1478.5 542.9 1490.2 544.3 1501.1C545.6 1512.1 544.5 1523.6 542.6 1533.9C540.7 1544.3 536.9 1554.4 532.8 1563.4C528.7 1572.5 525.4 1580.7 518.0 1588.0C510.7 1595.4 497.0 1602.1 488.5 1607.7C480.1 1613.3 475.4 1619.5 467.2 1621.6C459.0 1623.8 448.1 1621.2 439.3 1620.8C430.6 1620.4 422.7 1622.5 414.8 1619.2C406.8 1615.9 399.2 1607.7 391.8 1601.1C384.4 1594.6 375.4 1588.3 370.5 1579.8C365.6 1571.4 364.8 1560.7 362.3 1550.3C359.8 1539.9 357.1 1526.8 355.7 1517.5Z" fill="#4659b0" stroke-width="3"/></g><g filter="url(#bl2)"><path d="M385.2 1488.0C389.3 1483.7 407.7 1470.8 418.0 1470.0C428.4 1469.2 438.5 1478.7 447.5 1483.1C456.6 1487.5 466.1 1490.5 472.1 1496.2C478.1 1502.0 480.6 1509.9 483.6 1517.5C486.6 1525.2 490.4 1536.7 490.2 1542.1C489.9 1547.6 489.1 1553.9 482.0 1550.3C474.9 1546.8 458.7 1528.2 447.5 1520.8C436.3 1513.4 423.8 1510.2 414.8 1506.1C405.7 1502.0 398.4 1499.2 393.4 1496.2C388.5 1493.2 381.1 1492.4 385.2 1488.0Z" fill="#ffffff" stroke="#3a2fa8" stroke-width="5.0" paint-order="stroke"/><path d="M373.8 1515.9C376.2 1514.9 388.8 1519.7 398.4 1523.3C407.9 1526.8 421.9 1532.2 431.1 1537.2C440.4 1542.3 449.7 1548.7 454.1 1553.6C458.5 1558.5 458.5 1562.6 457.4 1566.7C456.3 1570.8 451.9 1575.2 447.5 1578.2C443.2 1581.2 436.6 1585.3 431.1 1584.8C425.7 1584.2 419.9 1580.7 414.8 1574.9C409.6 1569.2 405.2 1558.0 400.0 1550.3C394.8 1542.7 388.0 1534.8 383.6 1529.0C379.2 1523.3 371.3 1516.9 373.8 1515.9Z" fill="#ffffff" stroke="#3a2fa8" stroke-width="5.0" paint-order="stroke"/><path d="M450.0 1452.0C450.5 1450.2 460.1 1445.4 461.5 1446.2C462.8 1447.0 460.1 1455.9 458.2 1456.9C456.3 1457.8 449.5 1453.7 450.0 1452.0Z" fill="#ffffff" stroke="#3a2fa8" stroke-width="4" paint-order="stroke"/><path d="M507.4 1510.2C509.2 1507.3 518.3 1501.8 520.5 1503.6C522.7 1505.4 521.4 1516.4 520.5 1520.8C519.5 1525.2 516.5 1529.8 514.8 1529.8C513.0 1529.8 511.1 1524.1 509.8 1520.8C508.6 1517.5 505.6 1513.0 507.4 1510.2Z" fill="#ffffff" stroke="#3a2fa8" stroke-width="5.0" paint-order="stroke"/></g><g filter="url(#bl2)"><path d="M357.4 1533.9C357.4 1529.8 356.0 1518.1 357.4 1509.3C358.7 1500.6 360.9 1489.9 365.6 1481.5C370.2 1473.0 377.0 1464.0 385.2 1458.5C393.4 1453.1 407.4 1450.1 414.8 1448.7C422.1 1447.3 427.0 1450.1 429.5 1450.3" stroke="#3fb8ea" stroke-width="7.0"/><path d="M434.4 1430.7C439.3 1430.7 453.6 1428.5 463.9 1430.7C474.3 1432.8 486.3 1436.9 496.7 1443.8C507.1 1450.6 519.7 1462.1 526.2 1471.6C532.8 1481.2 534.2 1491.9 536.1 1501.1C538.0 1510.4 537.4 1523.0 537.7 1527.4" stroke="#3fb8ea" stroke-width="6.0"/><path d="M372.1 1573.3C375.4 1575.7 384.7 1582.8 391.8 1588.0C398.9 1593.2 406.8 1601.1 414.8 1604.4C422.7 1607.7 435.2 1607.2 439.3 1607.7" stroke="#3fb8ea" stroke-width="7.0"/><path d="M472.1 1471.6C474.9 1474.6 482.5 1486.9 488.5 1489.7C494.5 1492.4 504.9 1488.3 508.2 1488.0" stroke="#3fb8ea" stroke-width="6.0"/><path d="M463.9 1607.7L485.2 1597.9" stroke="#3fb8ea" stroke-width="6.0"/><path d="M360.7 1491.3L373.8 1470.0" stroke="#cfe23e" stroke-width="4.0"/><path d="M457.4 1429.0L488.5 1438.9" stroke="#cfe23e" stroke-width="3.5"/></g></g>
<circle cx="356.9" cy="1524.9" r="9.0" fill="url(#warm)"/>
<circle cx="426.2" cy="1607.2" r="11.0" fill="url(#warm)"/>
<circle cx="436.9" cy="1431.0" r="8.0" fill="url(#warm)"/>
<circle cx="488.5" cy="1490.5" r="7.0" fill="url(#warm)"/>
<circle cx="373.8" cy="1572.5" r="7.0" fill="url(#warm)"/>
<circle cx="359.3" cy="1498.2" r="11.0" fill="url(#hot)"/>
<circle cx="515.1" cy="1580.7" r="11.0" fill="url(#hot)"/>
<circle cx="471.8" cy="1607.7" r="11.0" fill="url(#hot)"/>
</g>
<circle cx="458.6" cy="1520.4" r="134.6" fill="none" stroke="#808285" stroke-width="7.0"/>
<rect x="306.50" y="1380.50" width="67.00" height="27.50" fill="#fff" stroke="#231f20" stroke-width="1.2" />
<text transform="translate(310.90 1401.00)" x="-1.87" y="0" font-size="22.5" textLength="60.97" lengthAdjust="spacingAndGlyphs" fill="#231f20">Day 2</text>
<clipPath id="cp3"><rect x="615.2" y="1379.0" width="282.5" height="282.0"/></clipPath>
<g clip-path="url(#cp3)">
<rect x="615.2" y="1379.0" width="282.5" height="282.0" fill="url(#bgA)"/>
<circle cx="752.2" cy="1521.7" r="139.5" fill="#4c4c4c"/>
<circle cx="754.7" cy="1523.7" r="131.5" fill="url(#wallg)"/>
<circle cx="755.0" cy="1522.0" r="97.5" fill="url(#disc2)" filter="url(#bl3)"/>
<g fill="none" stroke-linecap="round" stroke-linejoin="round"><g filter="url(#bl)" stroke="#3b33a2"><path d="M701.8 1438.9C709.2 1434.8 714.1 1429.8 724.8 1427.4C735.4 1424.9 756.2 1423.3 765.7 1424.1C775.3 1424.9 776.7 1427.1 782.1 1432.3C787.6 1437.5 793.1 1448.7 798.5 1455.2C804.0 1461.8 808.1 1466.7 814.9 1471.6C821.7 1476.6 832.1 1479.8 839.5 1484.8C846.9 1489.7 856.4 1494.3 859.2 1501.1C861.9 1508.0 858.1 1517.5 855.9 1525.7C853.7 1533.9 848.3 1542.1 846.1 1550.3C843.9 1558.5 846.6 1569.5 842.8 1574.9C839.0 1580.4 831.9 1579.6 823.1 1583.1C814.4 1586.7 798.0 1590.8 790.3 1596.2C782.7 1601.7 782.7 1611.0 777.2 1615.9C771.7 1620.8 764.9 1624.6 757.5 1625.7C750.2 1626.8 741.1 1625.5 733.0 1622.5C724.8 1619.5 716.6 1613.4 708.4 1607.7C700.2 1602.0 691.1 1594.9 683.8 1588.0C676.4 1581.2 669.0 1574.4 664.1 1566.7C659.2 1559.1 656.2 1551.7 654.3 1542.1C652.3 1532.6 651.3 1520.3 652.6 1509.3C654.0 1498.4 657.8 1486.1 662.5 1476.6C667.1 1467.0 673.9 1458.3 680.5 1452.0C687.0 1445.7 694.4 1443.0 701.8 1438.9Z" fill="#3b33a2" stroke-width="11"/><circle cx="740.3" cy="1607.7" r="15.5" fill="#3b33a2" stroke="none"/><circle cx="672.3" cy="1555.7" r="15.5" fill="#3b33a2" stroke="none"/></g><g filter="url(#blc)" stroke="#4659b0"><path d="M701.8 1438.9C709.2 1434.8 714.1 1429.8 724.8 1427.4C735.4 1424.9 756.2 1423.3 765.7 1424.1C775.3 1424.9 776.7 1427.1 782.1 1432.3C787.6 1437.5 793.1 1448.7 798.5 1455.2C804.0 1461.8 808.1 1466.7 814.9 1471.6C821.7 1476.6 832.1 1479.8 839.5 1484.8C846.9 1489.7 856.4 1494.3 859.2 1501.1C861.9 1508.0 858.1 1517.5 855.9 1525.7C853.7 1533.9 848.3 1542.1 846.1 1550.3C843.9 1558.5 846.6 1569.5 842.8 1574.9C839.0 1580.4 831.9 1579.6 823.1 1583.1C814.4 1586.7 798.0 1590.8 790.3 1596.2C782.7 1601.7 782.7 1611.0 777.2 1615.9C771.7 1620.8 764.9 1624.6 757.5 1625.7C750.2 1626.8 741.1 1625.5 733.0 1622.5C724.8 1619.5 716.6 1613.4 708.4 1607.7C700.2 1602.0 691.1 1594.9 683.8 1588.0C676.4 1581.2 669.0 1574.4 664.1 1566.7C659.2 1559.1 656.2 1551.7 654.3 1542.1C652.3 1532.6 651.3 1520.3 652.6 1509.3C654.0 1498.4 657.8 1486.1 662.5 1476.6C667.1 1467.0 673.9 1458.3 680.5 1452.0C687.0 1445.7 694.4 1443.0 701.8 1438.9Z" fill="#4659b0" stroke-width="3"/></g><g filter="url(#bl2)"><path d="M712.5 1476.6C713.7 1473.4 720.7 1467.8 724.8 1469.2C728.9 1470.5 736.5 1479.8 737.0 1484.8C737.6 1489.7 731.3 1498.1 728.0 1498.7C724.8 1499.2 720.0 1491.7 717.4 1488.0C714.8 1484.3 711.2 1479.7 712.5 1476.6Z" fill="#ffffff" stroke="#3a2fa8" stroke-width="5.0" paint-order="stroke"/><path d="M750.2 1456.1C750.8 1453.3 758.9 1453.6 761.6 1456.1C764.4 1458.5 767.2 1468.1 766.6 1470.8C765.9 1473.6 760.3 1474.9 757.5 1472.5C754.8 1470.0 749.5 1458.8 750.2 1456.1Z" fill="#ffffff" stroke="#3a2fa8" stroke-width="4" paint-order="stroke"/><path d="M683.0 1501.1C683.9 1495.4 684.9 1496.0 687.0 1498.7C689.2 1501.4 697.0 1511.8 696.1 1517.5C695.1 1523.3 683.5 1535.8 681.3 1533.1C679.1 1530.4 682.0 1506.9 683.0 1501.1Z" fill="#ffffff" stroke="#3a2fa8" stroke-width="4" paint-order="stroke"/><path d="M737.0 1522.5C739.1 1517.3 752.9 1510.2 756.7 1508.5C760.5 1506.9 762.0 1507.4 760.0 1512.6C758.0 1517.8 748.3 1538.0 744.4 1539.7C740.6 1541.3 735.0 1527.7 737.0 1522.5Z" fill="#ffffff" stroke="#3a2fa8" stroke-width="4" paint-order="stroke"/><path d="M774.8 1542.1C773.7 1535.4 781.2 1524.8 787.0 1517.5C792.9 1510.3 802.8 1500.6 810.0 1498.7C817.2 1496.8 828.2 1501.3 830.5 1506.1C832.8 1510.8 827.9 1520.5 823.9 1527.4C820.0 1534.2 811.8 1542.0 806.7 1547.0C801.7 1552.1 798.9 1558.5 793.6 1557.7C788.3 1556.9 775.8 1548.8 774.8 1542.1Z" fill="#ffffff" stroke="#3a2fa8" stroke-width="5.0" paint-order="stroke"/><path d="M704.3 1550.3C703.6 1549.4 707.0 1546.0 708.4 1546.2C709.7 1546.5 713.1 1551.3 712.5 1552.0C711.8 1552.7 704.9 1551.3 704.3 1550.3Z" fill="#ffffff" stroke="#3a2fa8" stroke-width="3" paint-order="stroke"/></g><g filter="url(#bl2)"><path d="M746.1 1438.9C740.3 1441.3 722.3 1446.5 711.6 1453.6C701.0 1460.7 689.6 1471.4 682.1 1481.5C674.6 1491.6 669.6 1504.2 666.6 1514.3C663.6 1524.4 664.5 1537.5 664.1 1542.1" stroke="#3fb8ea" stroke-width="8.0"/><path d="M692.0 1474.9C695.8 1482.0 707.3 1503.6 714.9 1517.5C722.6 1531.5 733.5 1544.9 737.9 1558.5C742.2 1572.2 740.6 1592.7 741.1 1599.5" stroke="#3fb8ea" stroke-width="7.0"/><path d="M714.9 1604.4C719.3 1605.5 732.7 1611.0 741.1 1611.0C749.6 1611.0 761.6 1605.5 765.7 1604.4" stroke="#3fb8ea" stroke-width="7.0"/><path d="M773.9 1574.9L795.2 1571.6" stroke="#3fb8ea" stroke-width="7.0"/><path d="M778.9 1479.8L793.6 1481.5" stroke="#3fb8ea" stroke-width="6.0"/><path d="M711.6 1455.2C706.7 1459.9 689.5 1472.7 682.1 1483.1C674.8 1493.5 669.8 1511.8 667.4 1517.5" stroke="#b9e050" stroke-width="3.5"/><path d="M716.6 1522.5C720.4 1529.0 735.4 1551.7 739.5 1561.8C743.6 1571.9 740.9 1579.6 741.1 1583.1" stroke="#b9e050" stroke-width="3.0"/><path d="M664.9 1532.3C665.5 1534.8 666.8 1543.1 668.2 1547.0C669.6 1551.0 672.3 1554.6 673.1 1556.1" stroke="#f5b31c" stroke-width="8.0"/><path d="M664.9 1532.3C665.5 1534.8 666.8 1543.1 668.2 1547.0C669.6 1551.0 672.3 1554.6 673.1 1556.1" stroke="#d81e1a" stroke-width="4.0"/></g></g>
<circle cx="847.7" cy="1502.8" r="7.0" fill="url(#cyan)"/>
<circle cx="757.5" cy="1490.5" r="5.0" fill="url(#cyan)"/>
<circle cx="778.9" cy="1499.5" r="5.0" fill="url(#cyan)"/>
<circle cx="719.0" cy="1500.3" r="5.0" fill="url(#cyan)"/>
<circle cx="686.2" cy="1578.2" r="9.0" fill="url(#warm)"/>
<circle cx="834.6" cy="1565.1" r="8.0" fill="url(#warm)"/>
<circle cx="740.3" cy="1607.7" r="10.0" fill="url(#hot)"/>
<circle cx="672.3" cy="1555.7" r="9.0" fill="url(#hot)"/>
</g>
<circle cx="754.7" cy="1523.7" r="130.0" fill="none" stroke="#e6097f" stroke-width="6.3"/>
<rect x="615.50" y="1380.50" width="67.00" height="27.50" fill="#fff" stroke="#231f20" stroke-width="1.2" />
<text transform="translate(619.90 1401.00)" x="-1.87" y="0" font-size="22.5" textLength="60.97" lengthAdjust="spacingAndGlyphs" fill="#231f20">Day 2</text>
<clipPath id="cp4"><rect x="926.2" y="1379.0" width="282.7" height="279.0"/></clipPath>
<g clip-path="url(#cp4)">
<rect x="926.2" y="1379.0" width="282.7" height="279.0" fill="url(#bgA)"/>
<circle cx="1065.7" cy="1514.0" r="137.1" fill="#4c4c4c"/>
<circle cx="1068.2" cy="1516.0" r="129.5" fill="url(#wallg)"/>
<circle cx="1068.4" cy="1522.0" r="97.5" fill="url(#disc2)" filter="url(#bl3)"/>
<g fill="none" stroke-linecap="round" stroke-linejoin="round"><g filter="url(#bl)" stroke="#3b33a2"><path d="M974.1 1484.8C978.2 1473.0 981.5 1463.4 988.9 1455.2C996.2 1447.0 1008.0 1440.8 1018.4 1435.6C1028.7 1430.4 1041.6 1427.4 1051.1 1424.1C1060.7 1420.8 1066.2 1415.9 1075.7 1415.9C1085.3 1415.9 1097.6 1418.1 1108.5 1424.1C1119.5 1430.1 1132.3 1441.9 1141.3 1452.0C1150.3 1462.1 1158.0 1475.2 1162.6 1484.8C1167.3 1494.3 1170.0 1502.5 1169.2 1509.3C1168.4 1516.2 1162.3 1518.9 1157.7 1525.7C1153.1 1532.6 1146.8 1542.1 1141.3 1550.3C1135.8 1558.5 1129.0 1566.7 1124.9 1574.9C1120.8 1583.1 1122.2 1593.2 1116.7 1599.5C1111.3 1605.8 1100.3 1608.8 1092.1 1612.6C1083.9 1616.4 1077.1 1621.9 1067.5 1622.5C1058.0 1623.0 1045.7 1621.1 1034.8 1615.9C1023.8 1610.7 1011.5 1600.9 1002.0 1591.3C992.4 1581.7 983.7 1569.5 977.4 1558.5C971.1 1547.6 964.8 1538.0 964.3 1525.7C963.7 1513.4 970.0 1496.5 974.1 1484.8Z" fill="#3b33a2" stroke-width="11"/></g><g filter="url(#blc)" stroke="#4659b0"><path d="M974.1 1484.8C978.2 1473.0 981.5 1463.4 988.9 1455.2C996.2 1447.0 1008.0 1440.8 1018.4 1435.6C1028.7 1430.4 1041.6 1427.4 1051.1 1424.1C1060.7 1420.8 1066.2 1415.9 1075.7 1415.9C1085.3 1415.9 1097.6 1418.1 1108.5 1424.1C1119.5 1430.1 1132.3 1441.9 1141.3 1452.0C1150.3 1462.1 1158.0 1475.2 1162.6 1484.8C1167.3 1494.3 1170.0 1502.5 1169.2 1509.3C1168.4 1516.2 1162.3 1518.9 1157.7 1525.7C1153.1 1532.6 1146.8 1542.1 1141.3 1550.3C1135.8 1558.5 1129.0 1566.7 1124.9 1574.9C1120.8 1583.1 1122.2 1593.2 1116.7 1599.5C1111.3 1605.8 1100.3 1608.8 1092.1 1612.6C1083.9 1616.4 1077.1 1621.9 1067.5 1622.5C1058.0 1623.0 1045.7 1621.1 1034.8 1615.9C1023.8 1610.7 1011.5 1600.9 1002.0 1591.3C992.4 1581.7 983.7 1569.5 977.4 1558.5C971.1 1547.6 964.8 1538.0 964.3 1525.7C963.7 1513.4 970.0 1496.5 974.1 1484.8Z" fill="#4659b0" stroke-width="3"/></g><g filter="url(#bl2)"><path d="M997.9 1504.4C1001.0 1496.4 1008.0 1489.0 1011.8 1485.6C1015.6 1482.2 1019.7 1481.3 1020.8 1483.9C1021.9 1486.5 1018.4 1495.5 1018.4 1501.1C1018.4 1506.7 1021.9 1512.2 1020.8 1517.5C1019.7 1522.9 1015.4 1528.9 1011.8 1533.1C1008.3 1537.3 1002.7 1542.8 999.5 1543.0C996.4 1543.1 993.2 1540.4 993.0 1533.9C992.7 1527.5 994.7 1512.5 997.9 1504.4Z" fill="#ffffff" stroke="#3a2fa8" stroke-width="5.0" paint-order="stroke"/><path d="M1012.6 1561.8C1013.6 1558.8 1020.8 1554.3 1024.9 1550.3C1029.0 1546.4 1034.3 1536.7 1037.2 1538.0C1040.1 1539.4 1042.1 1552.0 1042.1 1558.5C1042.1 1565.1 1041.0 1575.7 1037.2 1577.4C1033.4 1579.0 1023.3 1571.0 1019.2 1568.4C1015.1 1565.8 1011.7 1564.8 1012.6 1561.8Z" fill="#ffffff" stroke="#3a2fa8" stroke-width="5.0" paint-order="stroke"/><path d="M1056.9 1504.4C1060.0 1497.6 1072.5 1490.8 1075.7 1484.8C1079.0 1478.7 1073.0 1473.4 1076.6 1468.4C1080.1 1463.3 1091.6 1454.4 1097.0 1454.4C1102.5 1454.4 1108.1 1461.7 1109.3 1468.4C1110.6 1475.1 1108.7 1485.0 1104.4 1494.6C1100.2 1504.2 1090.5 1516.9 1083.9 1525.7C1077.4 1534.6 1069.6 1547.9 1065.1 1547.9C1060.6 1547.9 1058.3 1533.0 1056.9 1525.7C1055.5 1518.5 1053.7 1511.3 1056.9 1504.4Z" fill="#ffffff" stroke="#3a2fa8" stroke-width="5.0" paint-order="stroke"/><path d="M1134.8 1474.9C1137.1 1475.2 1146.6 1487.5 1147.0 1494.6C1147.5 1501.7 1143.6 1507.7 1137.2 1517.5C1130.8 1527.4 1117.8 1543.2 1108.5 1553.6C1099.2 1564.0 1088.7 1573.4 1081.5 1579.8C1074.2 1586.3 1066.2 1592.7 1065.1 1592.1C1064.0 1591.6 1069.0 1584.1 1074.9 1576.6C1080.8 1569.0 1092.0 1557.4 1100.3 1547.0C1108.7 1536.7 1119.5 1523.3 1124.9 1514.3C1130.4 1505.2 1131.5 1499.5 1133.1 1493.0C1134.8 1486.4 1132.4 1474.6 1134.8 1474.9Z" fill="#ffffff" stroke="#3a2fa8" stroke-width="5.0" paint-order="stroke"/></g><g filter="url(#bl2)"><path d="M1083.9 1440.5C1075.7 1441.0 1048.4 1440.8 1034.8 1443.8C1021.1 1446.8 1010.7 1452.2 1002.0 1458.5C993.2 1464.8 987.2 1473.0 982.3 1481.5C977.4 1489.9 974.1 1500.6 972.5 1509.3C970.8 1518.1 970.3 1525.7 972.5 1533.9C974.6 1542.1 980.1 1550.3 985.6 1558.5C991.0 1566.7 998.4 1576.0 1005.2 1583.1C1012.1 1590.2 1019.2 1597.0 1026.6 1601.1C1033.9 1605.2 1039.9 1607.2 1049.5 1607.7C1059.1 1608.3 1078.2 1605.0 1083.9 1604.4" stroke="#3fb8ea" stroke-width="7.0"/><path d="M1024.9 1465.1L1044.6 1488.0" stroke="#3fb8ea" stroke-width="7.0"/><path d="M1049.5 1586.4L1056.1 1576.6" stroke="#3fb8ea" stroke-width="5.0"/><path d="M975.7 1517.5C976.0 1520.8 975.7 1530.9 977.4 1537.2C979.0 1543.5 984.2 1552.2 985.6 1555.2" stroke="#f2e52c" stroke-width="4.0"/><path d="M980.7 1484.8C982.0 1482.0 985.8 1472.5 988.9 1468.4C991.9 1464.3 997.0 1461.5 998.7 1460.2" stroke="#f5c020" stroke-width="5.0"/><path d="M978.2 1504.4L981.5 1489.7" stroke="#f5b31c" stroke-width="10.0"/><path d="M978.2 1504.4L981.5 1489.7" stroke="#d81e1a" stroke-width="6.0"/><path d="M994.6 1466.7L1000.3 1459.3" stroke="#f5b31c" stroke-width="6.5"/><path d="M994.6 1466.7L1000.3 1459.3" stroke="#d81e1a" stroke-width="2.5"/></g></g>
<circle cx="1060.2" cy="1439.7" r="6.0" fill="url(#cyan)"/>
<circle cx="1083.9" cy="1440.5" r="8.0" fill="url(#cyan)"/>
<circle cx="1051.1" cy="1461.8" r="6.0" fill="url(#cyan)"/>
<circle cx="1029.0" cy="1467.0" r="7.0" fill="url(#warm)"/>
<circle cx="1043.0" cy="1486.4" r="7.0" fill="url(#warm)"/>
<circle cx="1049.5" cy="1607.4" r="9.0" fill="url(#warm)"/>
</g>
<circle cx="1068.2" cy="1516.0" r="127.6" fill="none" stroke="#00a0dc" stroke-width="6.3"/>
<rect x="926.50" y="1380.50" width="67.00" height="27.50" fill="#fff" stroke="#231f20" stroke-width="1.2" />
<text transform="translate(930.90 1401.00)" x="-1.87" y="0" font-size="22.5" textLength="60.97" lengthAdjust="spacingAndGlyphs" fill="#231f20">Day 2</text>
<clipPath id="cp5"><rect x="1240.2" y="1377.2" width="283.2" height="278.3"/></clipPath>
<g clip-path="url(#cp5)">
<rect x="1240.2" y="1377.2" width="283.2" height="278.3" fill="#151515"/>
<rect x="1240.2" y="1377.2" width="62" height="283" fill="#8f8f8f"/><rect x="1240.2" y="1411.2" width="40" height="36" fill="#b8b8b8"/><rect x="1302.2" y="1377.2" width="150" height="30" fill="#b5b5b5"/><rect x="1450.2" y="1377.2" width="75" height="60" fill="#0a0a0a"/><path d="M1240.2 1527.2l60 70v63h-60z" fill="#4a4a4a"/><path d="M1240.2 1592.2l45 30v38h-45z" fill="#8a8a8a"/><path d="M1300.2 1660.2l60-45h165v45z" fill="#2e2e2e"/><path d="M1475.2 1660.2l50-50v50z" fill="#777"/><path d="M1495.2 1507.2h30v60h-30z" fill="#555"/>
<circle cx="1383.0" cy="1515.6" r="134.5" fill="url(#wallk)"/>
<circle cx="1383.3" cy="1518.6" r="95.0" fill="url(#disc2)" filter="url(#bl3)"/>
<g fill="none" stroke-linecap="round" stroke-linejoin="round"><g filter="url(#bl)" stroke="#3b33a2"><path d="M1328.4 1517.5C1327.5 1513.4 1322.3 1501.1 1323.4 1493.0C1324.5 1484.8 1329.7 1474.6 1334.9 1468.4C1340.1 1462.1 1348.0 1458.0 1354.6 1455.2C1361.1 1452.5 1369.6 1450.9 1374.3 1452.0C1378.9 1453.1 1381.9 1456.3 1382.5 1461.8C1383.0 1467.3 1380.5 1476.8 1377.5 1484.8C1374.5 1492.7 1369.9 1503.1 1364.4 1509.3C1359.0 1515.6 1350.8 1521.1 1344.8 1522.5C1338.7 1523.8 1331.1 1518.4 1328.4 1517.5" stroke-width="15.5"/><path d="M1292.3 1512.6C1293.4 1508.8 1294.5 1496.5 1298.9 1489.7C1303.2 1482.8 1310.9 1477.9 1318.5 1471.6C1326.2 1465.4 1336.3 1457.4 1344.8 1452.0C1353.2 1446.5 1361.1 1442.1 1369.3 1438.9C1377.5 1435.6 1385.7 1432.8 1393.9 1432.3C1402.1 1431.7 1411.7 1433.1 1418.5 1435.6C1425.4 1438.0 1430.3 1444.9 1434.9 1447.0C1439.6 1449.2 1444.5 1448.4 1446.4 1448.7" stroke-width="15.5"/><path d="M1434.9 1447.0C1437.7 1450.6 1445.8 1460.7 1451.3 1468.4C1456.8 1476.0 1464.4 1486.1 1467.7 1493.0C1471.0 1499.8 1472.3 1503.9 1471.0 1509.3C1469.6 1514.8 1464.7 1521.6 1459.5 1525.7C1454.3 1529.8 1443.9 1529.8 1439.8 1533.9C1435.7 1538.0 1437.1 1543.5 1434.9 1550.3C1432.7 1557.2 1430.8 1566.7 1426.7 1574.9C1422.6 1583.1 1417.2 1593.8 1410.3 1599.5C1403.5 1605.2 1391.7 1608.8 1385.7 1609.3C1379.7 1609.9 1376.4 1608.5 1374.3 1602.8C1372.1 1597.0 1373.4 1582.3 1372.6 1574.9C1371.8 1567.5 1374.0 1564.0 1369.3 1558.5C1364.7 1553.1 1353.0 1546.8 1344.8 1542.1C1336.6 1537.5 1328.4 1534.2 1320.2 1530.7C1312.0 1527.1 1300.2 1523.8 1295.6 1520.8C1290.9 1517.8 1292.8 1514.0 1292.3 1512.6" stroke-width="15.5"/><path d="M1426.7 1435.6C1428.6 1441.0 1436.0 1457.4 1438.2 1468.4C1440.4 1479.3 1440.1 1490.2 1439.8 1501.1C1439.6 1512.1 1437.1 1528.5 1436.6 1533.9" stroke-width="15.5"/><path d="M1385.7 1424.1C1389.8 1423.6 1403.5 1420.3 1410.3 1420.8C1417.2 1421.4 1423.2 1423.6 1426.7 1427.4C1430.3 1431.2 1430.8 1441.0 1431.6 1443.8" stroke-width="15.5"/><path d="M1385.7 1455.2C1389.3 1453.9 1400.8 1447.6 1407.0 1447.0C1413.3 1446.5 1420.7 1451.1 1423.4 1452.0" stroke-width="15.5"/><path d="M1433.3 1542.1C1429.5 1543.5 1419.6 1548.1 1410.3 1550.3C1401.0 1552.5 1386.3 1557.7 1377.5 1555.2C1368.8 1552.8 1358.4 1544.0 1357.9 1535.6C1357.3 1527.1 1371.5 1509.6 1374.3 1504.4" stroke-width="15.5"/><path d="M1331.6 1550.3C1335.2 1553.1 1345.8 1561.3 1353.0 1566.7C1360.1 1572.2 1370.7 1580.4 1374.3 1583.1" stroke-width="15.5"/><path d="M1377.5 1558.5C1381.6 1559.9 1395.3 1566.7 1402.1 1566.7C1409.0 1566.7 1415.8 1559.9 1418.5 1558.5" stroke-width="15.5"/><path d="M1336.6 1558.5C1342.0 1561.3 1357.0 1572.7 1369.3 1574.9C1381.6 1577.1 1403.5 1572.2 1410.3 1571.6" stroke-width="15.5"/><path d="M1298.9 1501.1C1300.5 1505.2 1303.2 1518.1 1308.7 1525.7C1314.2 1533.4 1327.8 1543.5 1331.6 1547.0" stroke-width="15.5"/><path d="M1443.1 1476.6C1445.8 1480.7 1459.0 1493.0 1459.5 1501.1C1460.1 1509.3 1448.6 1521.6 1446.4 1525.7" stroke-width="15.5"/><circle cx="1292.3" cy="1511.3" r="9.6" fill="#3b33a2" stroke="none"/></g><g filter="url(#blc)" stroke="#4659b0"><path d="M1328.4 1517.5C1327.5 1513.4 1322.3 1501.1 1323.4 1493.0C1324.5 1484.8 1329.7 1474.6 1334.9 1468.4C1340.1 1462.1 1348.0 1458.0 1354.6 1455.2C1361.1 1452.5 1369.6 1450.9 1374.3 1452.0C1378.9 1453.1 1381.9 1456.3 1382.5 1461.8C1383.0 1467.3 1380.5 1476.8 1377.5 1484.8C1374.5 1492.7 1369.9 1503.1 1364.4 1509.3C1359.0 1515.6 1350.8 1521.1 1344.8 1522.5C1338.7 1523.8 1331.1 1518.4 1328.4 1517.5" stroke-width="8.5"/><path d="M1292.3 1512.6C1293.4 1508.8 1294.5 1496.5 1298.9 1489.7C1303.2 1482.8 1310.9 1477.9 1318.5 1471.6C1326.2 1465.4 1336.3 1457.4 1344.8 1452.0C1353.2 1446.5 1361.1 1442.1 1369.3 1438.9C1377.5 1435.6 1385.7 1432.8 1393.9 1432.3C1402.1 1431.7 1411.7 1433.1 1418.5 1435.6C1425.4 1438.0 1430.3 1444.9 1434.9 1447.0C1439.6 1449.2 1444.5 1448.4 1446.4 1448.7" stroke-width="8.5"/><path d="M1434.9 1447.0C1437.7 1450.6 1445.8 1460.7 1451.3 1468.4C1456.8 1476.0 1464.4 1486.1 1467.7 1493.0C1471.0 1499.8 1472.3 1503.9 1471.0 1509.3C1469.6 1514.8 1464.7 1521.6 1459.5 1525.7C1454.3 1529.8 1443.9 1529.8 1439.8 1533.9C1435.7 1538.0 1437.1 1543.5 1434.9 1550.3C1432.7 1557.2 1430.8 1566.7 1426.7 1574.9C1422.6 1583.1 1417.2 1593.8 1410.3 1599.5C1403.5 1605.2 1391.7 1608.8 1385.7 1609.3C1379.7 1609.9 1376.4 1608.5 1374.3 1602.8C1372.1 1597.0 1373.4 1582.3 1372.6 1574.9C1371.8 1567.5 1374.0 1564.0 1369.3 1558.5C1364.7 1553.1 1353.0 1546.8 1344.8 1542.1C1336.6 1537.5 1328.4 1534.2 1320.2 1530.7C1312.0 1527.1 1300.2 1523.8 1295.6 1520.8C1290.9 1517.8 1292.8 1514.0 1292.3 1512.6" stroke-width="8.5"/><path d="M1426.7 1435.6C1428.6 1441.0 1436.0 1457.4 1438.2 1468.4C1440.4 1479.3 1440.1 1490.2 1439.8 1501.1C1439.6 1512.1 1437.1 1528.5 1436.6 1533.9" stroke-width="8.5"/><path d="M1385.7 1424.1C1389.8 1423.6 1403.5 1420.3 1410.3 1420.8C1417.2 1421.4 1423.2 1423.6 1426.7 1427.4C1430.3 1431.2 1430.8 1441.0 1431.6 1443.8" stroke-width="8.5"/><path d="M1385.7 1455.2C1389.3 1453.9 1400.8 1447.6 1407.0 1447.0C1413.3 1446.5 1420.7 1451.1 1423.4 1452.0" stroke-width="8.5"/><path d="M1433.3 1542.1C1429.5 1543.5 1419.6 1548.1 1410.3 1550.3C1401.0 1552.5 1386.3 1557.7 1377.5 1555.2C1368.8 1552.8 1358.4 1544.0 1357.9 1535.6C1357.3 1527.1 1371.5 1509.6 1374.3 1504.4" stroke-width="8.5"/><path d="M1331.6 1550.3C1335.2 1553.1 1345.8 1561.3 1353.0 1566.7C1360.1 1572.2 1370.7 1580.4 1374.3 1583.1" stroke-width="8.5"/><path d="M1377.5 1558.5C1381.6 1559.9 1395.3 1566.7 1402.1 1566.7C1409.0 1566.7 1415.8 1559.9 1418.5 1558.5" stroke-width="8.5"/><path d="M1336.6 1558.5C1342.0 1561.3 1357.0 1572.7 1369.3 1574.9C1381.6 1577.1 1403.5 1572.2 1410.3 1571.6" stroke-width="8.5"/><path d="M1298.9 1501.1C1300.5 1505.2 1303.2 1518.1 1308.7 1525.7C1314.2 1533.4 1327.8 1543.5 1331.6 1547.0" stroke-width="8.5"/><path d="M1443.1 1476.6C1445.8 1480.7 1459.0 1493.0 1459.5 1501.1C1460.1 1509.3 1448.6 1521.6 1446.4 1525.7" stroke-width="8.5"/></g><g filter="url(#bl2)"><path d="M1295.6 1517.5C1296.1 1513.7 1295.0 1501.7 1298.9 1494.6C1302.7 1487.5 1310.9 1481.7 1318.5 1474.9C1326.2 1468.1 1336.3 1459.6 1344.8 1453.6C1353.2 1447.6 1361.1 1441.9 1369.3 1438.9C1377.5 1435.8 1385.7 1434.5 1393.9 1435.6C1402.1 1436.7 1410.9 1443.5 1418.5 1445.4C1426.2 1447.3 1436.3 1446.8 1439.8 1447.0" stroke="#3fb8ea" stroke-width="5.0"/><path d="M1321.8 1525.7L1341.5 1535.6" stroke="#3fb8ea" stroke-width="4.0"/><path d="M1434.1 1530.7L1432.5 1542.1" stroke="#3fb8ea" stroke-width="4.0"/><path d="M1372.6 1589.7L1377.5 1602.8" stroke="#3fb8ea" stroke-width="4.0"/><path d="M1298.9 1488.0L1318.5 1476.6" stroke="#f39a1c" stroke-width="5.0"/><path d="M1293.9 1501.1L1297.2 1491.3" stroke="#f3ea2a" stroke-width="4.0"/><path d="M1366.1 1438.9L1377.5 1442.1" stroke="#b9e050" stroke-width="3.0"/></g></g>
<circle cx="1292.3" cy="1511.3" r="7.0" fill="url(#hot)"/>
</g>
<circle cx="1383.0" cy="1515.6" r="133.0" fill="none" stroke="#0ca550" stroke-width="6.3"/>
<rect x="1239.00" y="1376.60" width="67.50" height="28.50" fill="#fff" stroke="#231f20" stroke-width="1.2" />
<text transform="translate(1243.40 1398.10)" x="-1.87" y="0" font-size="22.5" textLength="60.97" lengthAdjust="spacingAndGlyphs" fill="#231f20">Day 2</text>
<clipPath id="cp6"><rect x="1545.6" y="1376.5" width="284.4" height="279.0"/></clipPath>
<g clip-path="url(#cp6)">
<rect x="1545.6" y="1376.5" width="284.4" height="279.0" fill="#151515"/>
<rect x="1545.6" y="1376.5" width="62" height="283" fill="#8f8f8f"/><rect x="1545.6" y="1410.5" width="40" height="36" fill="#b8b8b8"/><rect x="1607.6" y="1376.5" width="150" height="30" fill="#b5b5b5"/><rect x="1755.6" y="1376.5" width="75" height="60" fill="#0a0a0a"/><path d="M1545.6 1526.5l60 70v63h-60z" fill="#4a4a4a"/><path d="M1545.6 1591.5l45 30v38h-45z" fill="#8a8a8a"/><path d="M1605.6 1659.5l60-45h165v45z" fill="#2e2e2e"/><path d="M1780.6 1659.5l50-50v50z" fill="#777"/><path d="M1800.6 1506.5h30v60h-30z" fill="#555"/>
<circle cx="1687.0" cy="1515.0" r="136.7" fill="url(#wallk)"/>
<circle cx="1688.2" cy="1520.0" r="96.7" fill="url(#disc2)" filter="url(#bl3)"/>
<g fill="none" stroke-linecap="round" stroke-linejoin="round"><g filter="url(#bl)" stroke="#3b33a2"><path d="M1598.0 1509.3C1598.4 1505.2 1597.6 1493.2 1600.5 1484.8C1603.4 1476.3 1608.4 1466.7 1615.2 1458.5C1622.1 1450.3 1631.1 1441.6 1641.5 1435.6C1651.9 1429.6 1666.1 1424.6 1677.5 1422.5C1689.0 1420.3 1699.4 1420.3 1710.3 1422.5C1721.3 1424.6 1733.6 1429.3 1743.1 1435.6C1752.7 1441.9 1761.4 1450.6 1767.7 1460.2C1774.0 1469.7 1778.4 1482.0 1780.8 1493.0C1783.3 1503.9 1783.8 1515.6 1782.5 1525.7C1781.1 1535.8 1777.0 1545.4 1772.6 1553.6C1768.3 1561.8 1760.9 1569.7 1756.2 1574.9C1751.6 1580.1 1746.7 1583.1 1744.8 1584.8" stroke-width="15.5"/><path d="M1600.5 1512.6C1603.0 1510.2 1609.5 1503.9 1615.2 1497.9C1621.0 1491.9 1627.3 1483.1 1634.9 1476.6C1642.6 1470.0 1652.7 1463.2 1661.1 1458.5C1669.6 1453.9 1677.5 1450.6 1685.7 1448.7C1693.9 1446.8 1703.5 1446.5 1710.3 1447.0C1717.2 1447.6 1722.3 1448.4 1726.7 1452.0C1731.1 1455.5 1734.9 1460.2 1736.6 1468.4C1738.2 1476.6 1737.4 1490.2 1736.6 1501.1C1735.7 1512.1 1733.8 1525.7 1731.6 1533.9C1729.5 1542.1 1724.8 1547.6 1723.4 1550.3" stroke-width="15.5"/><path d="M1602.1 1517.5C1606.5 1517.5 1618.5 1516.2 1628.4 1517.5C1638.2 1518.9 1650.2 1521.6 1661.1 1525.7C1672.1 1529.8 1683.6 1537.5 1693.9 1542.1C1704.3 1546.8 1715.2 1549.5 1723.4 1553.6C1731.6 1557.7 1739.3 1561.8 1743.1 1566.7C1746.9 1571.6 1745.8 1580.4 1746.4 1583.1" stroke-width="15.5"/><path d="M1602.1 1520.8C1605.4 1525.2 1614.7 1538.9 1621.8 1547.0C1628.9 1555.2 1636.8 1563.2 1644.8 1570.0C1652.7 1576.8 1661.1 1585.3 1669.3 1588.0C1677.5 1590.8 1687.1 1589.1 1693.9 1586.4C1700.8 1583.7 1705.4 1577.1 1710.3 1571.6C1715.2 1566.2 1721.3 1556.6 1723.4 1553.6" stroke-width="15.5"/><path d="M1666.1 1468.4C1668.0 1469.7 1674.3 1472.7 1677.5 1476.6C1680.8 1480.4 1682.5 1488.0 1685.7 1491.3C1689.0 1494.6 1693.4 1496.8 1697.2 1496.2C1701.0 1495.7 1705.7 1492.7 1708.7 1488.0C1711.7 1483.4 1713.6 1474.4 1715.2 1468.4C1716.9 1462.3 1718.0 1454.7 1718.5 1452.0" stroke-width="15.5"/><path d="M1621.8 1455.2C1625.6 1453.3 1635.5 1447.0 1644.8 1443.8C1654.0 1440.5 1666.6 1436.9 1677.5 1435.6C1688.5 1434.2 1704.9 1435.6 1710.3 1435.6" stroke-width="15.5"/><circle cx="1598.0" cy="1509.7" r="9.6" fill="#3b33a2" stroke="none"/></g><g filter="url(#blc)" stroke="#4659b0"><path d="M1598.0 1509.3C1598.4 1505.2 1597.6 1493.2 1600.5 1484.8C1603.4 1476.3 1608.4 1466.7 1615.2 1458.5C1622.1 1450.3 1631.1 1441.6 1641.5 1435.6C1651.9 1429.6 1666.1 1424.6 1677.5 1422.5C1689.0 1420.3 1699.4 1420.3 1710.3 1422.5C1721.3 1424.6 1733.6 1429.3 1743.1 1435.6C1752.7 1441.9 1761.4 1450.6 1767.7 1460.2C1774.0 1469.7 1778.4 1482.0 1780.8 1493.0C1783.3 1503.9 1783.8 1515.6 1782.5 1525.7C1781.1 1535.8 1777.0 1545.4 1772.6 1553.6C1768.3 1561.8 1760.9 1569.7 1756.2 1574.9C1751.6 1580.1 1746.7 1583.1 1744.8 1584.8" stroke-width="8.5"/><path d="M1600.5 1512.6C1603.0 1510.2 1609.5 1503.9 1615.2 1497.9C1621.0 1491.9 1627.3 1483.1 1634.9 1476.6C1642.6 1470.0 1652.7 1463.2 1661.1 1458.5C1669.6 1453.9 1677.5 1450.6 1685.7 1448.7C1693.9 1446.8 1703.5 1446.5 1710.3 1447.0C1717.2 1447.6 1722.3 1448.4 1726.7 1452.0C1731.1 1455.5 1734.9 1460.2 1736.6 1468.4C1738.2 1476.6 1737.4 1490.2 1736.6 1501.1C1735.7 1512.1 1733.8 1525.7 1731.6 1533.9C1729.5 1542.1 1724.8 1547.6 1723.4 1550.3" stroke-width="8.5"/><path d="M1602.1 1517.5C1606.5 1517.5 1618.5 1516.2 1628.4 1517.5C1638.2 1518.9 1650.2 1521.6 1661.1 1525.7C1672.1 1529.8 1683.6 1537.5 1693.9 1542.1C1704.3 1546.8 1715.2 1549.5 1723.4 1553.6C1731.6 1557.7 1739.3 1561.8 1743.1 1566.7C1746.9 1571.6 1745.8 1580.4 1746.4 1583.1" stroke-width="8.5"/><path d="M1602.1 1520.8C1605.4 1525.2 1614.7 1538.9 1621.8 1547.0C1628.9 1555.2 1636.8 1563.2 1644.8 1570.0C1652.7 1576.8 1661.1 1585.3 1669.3 1588.0C1677.5 1590.8 1687.1 1589.1 1693.9 1586.4C1700.8 1583.7 1705.4 1577.1 1710.3 1571.6C1715.2 1566.2 1721.3 1556.6 1723.4 1553.6" stroke-width="8.5"/><path d="M1666.1 1468.4C1668.0 1469.7 1674.3 1472.7 1677.5 1476.6C1680.8 1480.4 1682.5 1488.0 1685.7 1491.3C1689.0 1494.6 1693.4 1496.8 1697.2 1496.2C1701.0 1495.7 1705.7 1492.7 1708.7 1488.0C1711.7 1483.4 1713.6 1474.4 1715.2 1468.4C1716.9 1462.3 1718.0 1454.7 1718.5 1452.0" stroke-width="8.5"/><path d="M1621.8 1455.2C1625.6 1453.3 1635.5 1447.0 1644.8 1443.8C1654.0 1440.5 1666.6 1436.9 1677.5 1435.6C1688.5 1434.2 1704.9 1435.6 1710.3 1435.6" stroke-width="8.5"/></g><g filter="url(#bl2)"><path d="M1702.1 1424.1C1709.0 1426.3 1732.2 1430.9 1743.1 1437.2C1754.0 1443.5 1761.7 1452.2 1767.7 1461.8C1773.7 1471.4 1777.3 1483.9 1779.2 1494.6C1781.1 1505.2 1780.8 1515.9 1779.2 1525.7C1777.5 1535.6 1774.3 1545.4 1769.3 1553.6C1764.4 1561.8 1753.0 1571.4 1749.7 1574.9" stroke="#3fb8ea" stroke-width="4.5"/><path d="M1615.2 1461.8C1617.4 1459.6 1624.0 1452.0 1628.4 1448.7C1632.7 1445.4 1639.3 1443.2 1641.5 1442.1" stroke="#3fb8ea" stroke-width="5.0"/><path d="M1644.8 1458.5L1677.5 1448.7" stroke="#3fb8ea" stroke-width="5.0"/><path d="M1667.7 1466.7L1687.4 1465.1" stroke="#3fb8ea" stroke-width="5.0"/><path d="M1618.5 1456.9L1628.4 1448.7" stroke="#b9e050" stroke-width="3.0"/><path d="M1648.0 1459.3L1677.5 1449.5" stroke="#e8e030" stroke-width="3.0"/><path d="M1671.0 1466.7L1685.7 1465.1" stroke="#e8e030" stroke-width="3.0"/><path d="M1707.0 1424.9L1720.2 1429.0" stroke="#b9e050" stroke-width="3.0"/><path d="M1749.7 1574.9L1762.8 1565.1" stroke="#b9e050" stroke-width="3.0"/></g></g>
<circle cx="1598.0" cy="1509.7" r="8.0" fill="url(#hot)"/>
</g>
<circle cx="1687.0" cy="1515.0" r="135.2" fill="none" stroke="#ee6a25" stroke-width="6.3"/>
<rect x="1543.90" y="1376.60" width="67.50" height="28.50" fill="#fff" stroke="#231f20" stroke-width="1.2" />
<text transform="translate(1548.30 1398.10)" x="-1.87" y="0" font-size="22.5" textLength="60.97" lengthAdjust="spacingAndGlyphs" fill="#231f20">Day 2</text>
<clipPath id="cp7"><rect x="1.6" y="1672.3" width="284.4" height="282.7"/></clipPath>
<g clip-path="url(#cp7)">
<rect x="1.6" y="1672.3" width="284.4" height="282.7" fill="url(#bgA)"/>
<circle cx="141.4" cy="1814.0" r="141.1" fill="#4c4c4c"/>
<circle cx="143.9" cy="1816.0" r="133.0" fill="url(#wallg)"/>
<circle cx="145.0" cy="1815.0" r="97.5" fill="url(#disc)" filter="url(#bl3)"/>
<g fill="none" stroke-linecap="round" stroke-linejoin="round"><g filter="url(#bl)" stroke="#3b33a2"><path d="M111.5 1785.4C117.5 1784.2 133.3 1780.6 147.5 1778.0C161.7 1775.4 185.0 1771.7 196.7 1769.8C208.5 1767.9 215.3 1763.0 218.0 1766.6C220.8 1770.1 218.0 1781.6 213.1 1791.1C208.2 1800.7 198.1 1813.0 188.5 1823.9C179.0 1834.9 165.3 1848.0 155.7 1856.7C146.2 1865.5 138.5 1871.2 131.1 1876.4C123.8 1881.6 116.9 1887.6 111.5 1887.9C106.0 1888.1 101.6 1882.4 98.4 1878.0C95.1 1873.7 94.5 1866.3 91.8 1861.6C89.1 1857.0 86.9 1851.8 82.0 1850.2C77.0 1848.5 65.6 1851.5 62.3 1851.8" stroke-width="25.0"/><circle cx="111.5" cy="1785.4" r="15.5" fill="#3b33a2" stroke="none"/><circle cx="63.1" cy="1851.3" r="15.5" fill="#3b33a2" stroke="none"/><circle cx="82.0" cy="1846.9" r="15.5" fill="#3b33a2" stroke="none"/></g><g filter="url(#blc)" stroke="#4659b0"><path d="M111.5 1785.4C117.5 1784.2 133.3 1780.6 147.5 1778.0C161.7 1775.4 185.0 1771.7 196.7 1769.8C208.5 1767.9 215.3 1763.0 218.0 1766.6C220.8 1770.1 218.0 1781.6 213.1 1791.1C208.2 1800.7 198.1 1813.0 188.5 1823.9C179.0 1834.9 165.3 1848.0 155.7 1856.7C146.2 1865.5 138.5 1871.2 131.1 1876.4C123.8 1881.6 116.9 1887.6 111.5 1887.9C106.0 1888.1 101.6 1882.4 98.4 1878.0C95.1 1873.7 94.5 1866.3 91.8 1861.6C89.1 1857.0 86.9 1851.8 82.0 1850.2C77.0 1848.5 65.6 1851.5 62.3 1851.8" stroke-width="13.8"/></g><g filter="url(#bl2)"></g></g>
<circle cx="62.3" cy="1851.3" r="9.0" fill="url(#warm)"/>
<circle cx="81.1" cy="1846.9" r="7.0" fill="url(#warm)"/>
<circle cx="111.5" cy="1785.4" r="10.0" fill="url(#hot)"/>
</g>
<circle cx="143.9" cy="1816.0" r="131.6" fill="none" stroke="#ffffff" stroke-width="6.3"/>
<rect x="0.30" y="1672.00" width="67.00" height="28.00" fill="#fff" stroke="#231f20" stroke-width="1.2" />
<text transform="translate(4.70 1693.00)" x="-1.85" y="0" font-size="22.5" textLength="60.48" lengthAdjust="spacingAndGlyphs" fill="#231f20">Day 4</text>
<clipPath id="cp8"><rect x="306.2" y="1672.3" width="284.0" height="282.7"/></clipPath>
<g clip-path="url(#cp8)">
<rect x="306.2" y="1672.3" width="284.0" height="282.7" fill="url(#bgA)"/>
<circle cx="447.9" cy="1812.5" r="144.1" fill="#4c4c4c"/>
<circle cx="450.4" cy="1814.5" r="136.5" fill="url(#wallg)"/>
<circle cx="448.4" cy="1815.0" r="97.5" fill="url(#disc)" filter="url(#bl3)"/>
<g fill="none" stroke-linecap="round" stroke-linejoin="round"><g filter="url(#bl)" stroke="#3b33a2"><path d="M365.6 1774.8C367.2 1768.5 373.2 1764.4 378.7 1761.6C384.2 1758.9 394.5 1761.6 398.4 1758.4C402.2 1755.1 398.4 1746.1 401.6 1742.0C404.9 1737.9 411.7 1733.8 418.0 1733.8C424.3 1733.8 433.1 1738.4 439.3 1742.0C445.6 1745.5 448.9 1752.3 455.7 1755.1C462.6 1757.8 472.1 1756.4 480.3 1758.4C488.5 1760.3 498.9 1762.5 504.9 1766.6C510.9 1770.7 515.0 1776.1 516.4 1783.0C517.8 1789.8 512.6 1799.3 513.1 1807.5C513.7 1815.7 519.7 1823.9 519.7 1832.1C519.7 1840.3 518.3 1849.9 513.1 1856.7C507.9 1863.6 498.1 1871.2 488.5 1873.1C479.0 1875.0 463.9 1868.2 455.7 1868.2C447.5 1868.2 444.0 1870.1 439.3 1873.1C434.7 1876.1 433.3 1884.3 427.9 1886.2C422.4 1888.1 412.6 1887.3 406.6 1884.6C400.5 1881.9 393.2 1875.8 391.8 1869.8C390.4 1863.8 396.7 1854.0 398.4 1848.5C400.0 1843.1 404.4 1842.5 401.6 1837.0C398.9 1831.6 387.4 1822.0 382.0 1815.7C376.5 1809.5 371.6 1806.2 368.9 1799.3C366.1 1792.5 363.9 1781.0 365.6 1774.8Z" fill="#3b33a2" stroke-width="11"/><circle cx="407.4" cy="1783.8" r="15.5" fill="#3b33a2" stroke="none"/><circle cx="426.2" cy="1855.9" r="15.5" fill="#3b33a2" stroke="none"/></g><g filter="url(#blc)" stroke="#4659b0"><path d="M365.6 1774.8C367.2 1768.5 373.2 1764.4 378.7 1761.6C384.2 1758.9 394.5 1761.6 398.4 1758.4C402.2 1755.1 398.4 1746.1 401.6 1742.0C404.9 1737.9 411.7 1733.8 418.0 1733.8C424.3 1733.8 433.1 1738.4 439.3 1742.0C445.6 1745.5 448.9 1752.3 455.7 1755.1C462.6 1757.8 472.1 1756.4 480.3 1758.4C488.5 1760.3 498.9 1762.5 504.9 1766.6C510.9 1770.7 515.0 1776.1 516.4 1783.0C517.8 1789.8 512.6 1799.3 513.1 1807.5C513.7 1815.7 519.7 1823.9 519.7 1832.1C519.7 1840.3 518.3 1849.9 513.1 1856.7C507.9 1863.6 498.1 1871.2 488.5 1873.1C479.0 1875.0 463.9 1868.2 455.7 1868.2C447.5 1868.2 444.0 1870.1 439.3 1873.1C434.7 1876.1 433.3 1884.3 427.9 1886.2C422.4 1888.1 412.6 1887.3 406.6 1884.6C400.5 1881.9 393.2 1875.8 391.8 1869.8C390.4 1863.8 396.7 1854.0 398.4 1848.5C400.0 1843.1 404.4 1842.5 401.6 1837.0C398.9 1831.6 387.4 1822.0 382.0 1815.7C376.5 1809.5 371.6 1806.2 368.9 1799.3C366.1 1792.5 363.9 1781.0 365.6 1774.8Z" fill="#4659b0" stroke-width="3"/></g><g filter="url(#bl2)"><path d="M482.8 1821.5C482.8 1820.1 486.6 1821.1 488.5 1822.3C490.4 1823.5 494.3 1827.5 494.3 1828.9C494.3 1830.2 490.4 1831.7 488.5 1830.5C486.6 1829.3 482.8 1822.8 482.8 1821.5Z" fill="#ffffff" stroke="#3a2fa8" stroke-width="3" paint-order="stroke"/></g><g filter="url(#bl2)"><path d="M447.5 1766.6C450.3 1766.3 459.3 1763.8 463.9 1764.9C468.6 1766.0 473.5 1771.7 475.4 1773.1" stroke="#3fb8ea" stroke-width="7.0"/><path d="M462.3 1817.4L463.9 1832.1" stroke="#3fb8ea" stroke-width="8.0"/><path d="M418.0 1771.5L429.5 1787.9" stroke="#3fb8ea" stroke-width="9.0"/><path d="M423.0 1843.6L427.9 1864.9" stroke="#3fb8ea" stroke-width="7.0"/><path d="M452.5 1767.4L463.9 1768.2" stroke="#b9e050" stroke-width="3.5"/><path d="M463.1 1822.3L463.9 1828.9" stroke="#b9e050" stroke-width="3.5"/></g></g>
<circle cx="377.0" cy="1777.2" r="6.0" fill="url(#cyan)"/>
<circle cx="441.0" cy="1837.0" r="5.0" fill="url(#cyan)"/>
<circle cx="504.9" cy="1822.3" r="6.0" fill="url(#cyan)"/>
<circle cx="480.3" cy="1796.1" r="5.0" fill="url(#cyan)"/>
<circle cx="424.6" cy="1774.8" r="8.0" fill="url(#warm)"/>
<circle cx="407.4" cy="1783.8" r="10.0" fill="url(#hot)"/>
<circle cx="426.2" cy="1855.9" r="10.0" fill="url(#hot)"/>
</g>
<circle cx="450.4" cy="1814.5" r="134.6" fill="none" stroke="#808285" stroke-width="7.0"/>
<rect x="305.00" y="1672.00" width="67.50" height="28.00" fill="#fff" stroke="#231f20" stroke-width="1.2" />
<text transform="translate(309.40 1693.00)" x="-1.85" y="0" font-size="22.5" textLength="60.48" lengthAdjust="spacingAndGlyphs" fill="#231f20">Day 4</text>
<clipPath id="cp9"><rect x="613.3" y="1672.8" width="284.4" height="282.2"/></clipPath>
<g clip-path="url(#cp9)">
<rect x="613.3" y="1672.8" width="284.4" height="282.2" fill="url(#bgA)"/>
<circle cx="753.5" cy="1811.3" r="137.5" fill="#4c4c4c"/>
<circle cx="756.0" cy="1813.3" r="129.5" fill="url(#wallg)"/>
<circle cx="755.0" cy="1813.3" r="97.5" fill="url(#disc)" filter="url(#bl3)"/>
<g fill="none" stroke-linecap="round" stroke-linejoin="round"><g filter="url(#bl)" stroke="#3b33a2"><path d="M714.9 1732.1C717.9 1733.8 725.8 1739.8 733.0 1742.0C740.1 1744.2 753.4 1744.7 757.5 1745.2" stroke-width="25.0"/><path d="M803.4 1778.0L821.5 1788.7" stroke-width="25.0"/><path d="M728.0 1751.8C730.8 1746.3 734.9 1739.5 741.1 1737.0C747.4 1734.6 758.1 1734.6 765.7 1737.0C773.4 1739.5 780.8 1746.6 787.0 1751.8C793.3 1757.0 798.8 1762.7 803.4 1768.2C808.1 1773.7 812.7 1778.6 814.9 1784.6C817.1 1790.6 816.6 1797.7 816.6 1804.3C816.6 1810.8 817.1 1817.9 814.9 1823.9C812.7 1829.9 808.1 1835.7 803.4 1840.3C798.8 1845.0 792.5 1849.3 787.0 1851.8C781.6 1854.3 776.9 1855.9 770.7 1855.1C764.4 1854.3 757.0 1849.9 749.3 1846.9C741.7 1843.9 732.1 1840.9 724.8 1837.0C717.4 1833.2 710.3 1828.9 705.1 1823.9C699.9 1819.0 695.0 1813.6 693.6 1807.5C692.2 1801.5 693.9 1793.3 696.9 1787.9C699.9 1782.4 707.0 1777.8 711.6 1774.8C716.3 1771.7 722.0 1773.7 724.8 1769.8C727.5 1766.0 725.3 1757.3 728.0 1751.8Z" fill="#3b33a2" stroke-width="11"/><circle cx="821.5" cy="1788.7" r="15.5" fill="#3b33a2" stroke="none"/></g><g filter="url(#blc)" stroke="#4659b0"><path d="M714.9 1732.1C717.9 1733.8 725.8 1739.8 733.0 1742.0C740.1 1744.2 753.4 1744.7 757.5 1745.2" stroke-width="13.8"/><path d="M803.4 1778.0L821.5 1788.7" stroke-width="13.8"/><path d="M728.0 1751.8C730.8 1746.3 734.9 1739.5 741.1 1737.0C747.4 1734.6 758.1 1734.6 765.7 1737.0C773.4 1739.5 780.8 1746.6 787.0 1751.8C793.3 1757.0 798.8 1762.7 803.4 1768.2C808.1 1773.7 812.7 1778.6 814.9 1784.6C817.1 1790.6 816.6 1797.7 816.6 1804.3C816.6 1810.8 817.1 1817.9 814.9 1823.9C812.7 1829.9 808.1 1835.7 803.4 1840.3C798.8 1845.0 792.5 1849.3 787.0 1851.8C781.6 1854.3 776.9 1855.9 770.7 1855.1C764.4 1854.3 757.0 1849.9 749.3 1846.9C741.7 1843.9 732.1 1840.9 724.8 1837.0C717.4 1833.2 710.3 1828.9 705.1 1823.9C699.9 1819.0 695.0 1813.6 693.6 1807.5C692.2 1801.5 693.9 1793.3 696.9 1787.9C699.9 1782.4 707.0 1777.8 711.6 1774.8C716.3 1771.7 722.0 1773.7 724.8 1769.8C727.5 1766.0 725.3 1757.3 728.0 1751.8Z" fill="#4659b0" stroke-width="3"/></g><g filter="url(#bl2)"><path d="M714.9 1804.3C717.1 1801.0 726.4 1794.7 731.3 1794.4C736.2 1794.2 739.0 1801.0 744.4 1802.6C749.9 1804.3 760.5 1801.8 764.1 1804.3C767.7 1806.7 766.8 1813.0 765.7 1817.4C764.6 1821.7 762.2 1829.4 757.5 1830.5C752.9 1831.6 744.4 1826.7 737.9 1823.9C731.3 1821.2 722.0 1817.4 718.2 1814.1C714.4 1810.8 712.7 1807.5 714.9 1804.3Z" fill="#ffffff" stroke="#3a2fa8" stroke-width="5.0" paint-order="stroke"/></g><g filter="url(#bl2)"><path d="M777.2 1787.9C778.0 1790.6 780.5 1799.6 782.1 1804.3C783.8 1808.9 786.2 1813.8 787.0 1815.7" stroke="#3fb8ea" stroke-width="7.0"/><path d="M741.1 1753.4L746.1 1764.9" stroke="#3fb8ea" stroke-width="10.0"/><path d="M765.7 1755.1L773.9 1761.6" stroke="#3fb8ea" stroke-width="7.0"/></g></g>
<circle cx="719.8" cy="1732.1" r="6.0" fill="url(#cyan)"/>
<circle cx="719.8" cy="1784.6" r="7.0" fill="url(#cyan)"/>
<circle cx="772.3" cy="1838.7" r="6.0" fill="url(#cyan)"/>
<circle cx="805.1" cy="1812.5" r="6.0" fill="url(#cyan)"/>
<circle cx="744.8" cy="1759.2" r="7.0" fill="url(#warm)"/>
<circle cx="821.5" cy="1788.7" r="10.0" fill="url(#hot)"/>
</g>
<circle cx="756.0" cy="1813.3" r="128.0" fill="none" stroke="#e6097f" stroke-width="6.3"/>
<rect x="613.00" y="1672.00" width="67.50" height="28.00" fill="#fff" stroke="#231f20" stroke-width="1.2" />
<text transform="translate(617.40 1693.00)" x="-1.85" y="0" font-size="22.5" textLength="60.48" lengthAdjust="spacingAndGlyphs" fill="#231f20">Day 4</text>
<clipPath id="cp10"><rect x="926.2" y="1672.3" width="282.7" height="282.7"/></clipPath>
<g clip-path="url(#cp10)">
<rect x="926.2" y="1672.3" width="282.7" height="282.7" fill="url(#bgA)"/>
<circle cx="1067.9" cy="1813.3" r="145.2" fill="#4c4c4c"/>
<circle cx="1070.4" cy="1815.3" r="137.0" fill="url(#wallg)"/>
<circle cx="1068.4" cy="1815.0" r="97.5" fill="url(#disc)" filter="url(#bl3)"/>
<g fill="none" stroke-linecap="round" stroke-linejoin="round"><g filter="url(#bl)" stroke="#3b33a2"><path d="M1029.8 1795.2C1027.9 1791.6 1022.5 1777.6 1018.4 1773.1C1014.3 1768.6 1008.8 1766.3 1005.2 1768.2C1001.7 1770.1 999.2 1778.0 997.0 1784.6C994.9 1791.1 993.2 1799.6 992.1 1807.5C991.0 1815.5 991.6 1823.9 990.5 1832.1C989.4 1840.3 984.2 1851.3 985.6 1856.7C986.9 1862.2 991.9 1861.4 998.7 1864.9C1005.5 1868.5 1017.8 1873.4 1026.6 1878.0C1035.3 1882.7 1041.6 1889.8 1051.1 1892.8C1060.7 1895.8 1073.0 1896.6 1083.9 1896.1C1094.9 1895.5 1109.1 1892.0 1116.7 1889.5C1124.4 1887.0 1129.0 1886.8 1129.8 1881.3C1130.7 1875.8 1125.7 1866.3 1121.6 1856.7C1117.5 1847.2 1110.7 1833.5 1105.2 1823.9C1099.8 1814.4 1093.5 1805.9 1088.9 1799.3C1084.2 1792.8 1077.1 1788.1 1077.4 1784.6C1077.7 1781.0 1092.1 1780.2 1090.5 1778.0C1088.9 1775.8 1071.4 1772.6 1067.5 1771.5" stroke-width="25.0"/><circle cx="1029.8" cy="1795.2" r="15.5" fill="#3b33a2" stroke="none"/><circle cx="1070.0" cy="1773.9" r="15.5" fill="#3b33a2" stroke="none"/><circle cx="1125.7" cy="1881.3" r="15.5" fill="#3b33a2" stroke="none"/></g><g filter="url(#blc)" stroke="#4659b0"><path d="M1029.8 1795.2C1027.9 1791.6 1022.5 1777.6 1018.4 1773.1C1014.3 1768.6 1008.8 1766.3 1005.2 1768.2C1001.7 1770.1 999.2 1778.0 997.0 1784.6C994.9 1791.1 993.2 1799.6 992.1 1807.5C991.0 1815.5 991.6 1823.9 990.5 1832.1C989.4 1840.3 984.2 1851.3 985.6 1856.7C986.9 1862.2 991.9 1861.4 998.7 1864.9C1005.5 1868.5 1017.8 1873.4 1026.6 1878.0C1035.3 1882.7 1041.6 1889.8 1051.1 1892.8C1060.7 1895.8 1073.0 1896.6 1083.9 1896.1C1094.9 1895.5 1109.1 1892.0 1116.7 1889.5C1124.4 1887.0 1129.0 1886.8 1129.8 1881.3C1130.7 1875.8 1125.7 1866.3 1121.6 1856.7C1117.5 1847.2 1110.7 1833.5 1105.2 1823.9C1099.8 1814.4 1093.5 1805.9 1088.9 1799.3C1084.2 1792.8 1077.1 1788.1 1077.4 1784.6C1077.7 1781.0 1092.1 1780.2 1090.5 1778.0C1088.9 1775.8 1071.4 1772.6 1067.5 1771.5" stroke-width="13.8"/></g><g filter="url(#bl2)"></g></g>
<circle cx="1070.0" cy="1773.9" r="9.0" fill="url(#cyan)"/>
<circle cx="1126.6" cy="1881.3" r="6.0" fill="url(#cyan)"/>
<circle cx="1029.8" cy="1795.2" r="10.0" fill="url(#hot)"/>
</g>
<circle cx="1070.4" cy="1815.3" r="135.7" fill="none" stroke="#00a0dc" stroke-width="6.3"/>
<rect x="925.00" y="1672.00" width="67.50" height="28.00" fill="#fff" stroke="#231f20" stroke-width="1.2" />
<text transform="translate(929.40 1693.00)" x="-1.85" y="0" font-size="22.5" textLength="60.48" lengthAdjust="spacingAndGlyphs" fill="#231f20">Day 4</text>
<clipPath id="cp11"><rect x="1240.2" y="1670.2" width="283.2" height="282.4"/></clipPath>
<g clip-path="url(#cp11)">
<rect x="1240.2" y="1670.2" width="283.2" height="282.4" fill="#151515"/>
<rect x="1240.2" y="1670.2" width="62" height="283" fill="#8f8f8f"/><rect x="1240.2" y="1704.2" width="40" height="36" fill="#b8b8b8"/><rect x="1302.2" y="1670.2" width="150" height="30" fill="#b5b5b5"/><rect x="1450.2" y="1670.2" width="75" height="60" fill="#0a0a0a"/><path d="M1240.2 1820.2l60 70v63h-60z" fill="#4a4a4a"/><path d="M1240.2 1885.2l45 30v38h-45z" fill="#8a8a8a"/><path d="M1300.2 1953.2l60-45h165v45z" fill="#2e2e2e"/><path d="M1475.2 1953.2l50-50v50z" fill="#777"/><path d="M1495.2 1800.2h30v60h-30z" fill="#555"/>
<circle cx="1384.0" cy="1808.6" r="135.5" fill="url(#wallk)"/>
<circle cx="1383.3" cy="1811.6" r="95.0" fill="url(#disc2)" filter="url(#bl3)"/>
<g fill="none" stroke-linecap="round" stroke-linejoin="round"><g filter="url(#bl)" stroke="#3b33a2"><path d="M1349.7 1775.6C1353.0 1774.1 1362.0 1769.7 1369.3 1766.6C1376.7 1763.4 1387.1 1760.3 1393.9 1756.7C1400.8 1753.2 1406.2 1749.6 1410.3 1745.2C1414.4 1740.9 1415.8 1733.8 1418.5 1730.5C1421.3 1727.2 1424.8 1723.7 1426.7 1725.6C1428.6 1727.5 1428.1 1735.1 1430.0 1742.0C1431.9 1748.8 1433.8 1758.6 1438.2 1766.6C1442.6 1774.5 1450.5 1784.5 1456.2 1789.5C1462.0 1794.6 1469.9 1795.7 1472.6 1796.9" stroke-width="15.5"/><path d="M1291.5 1809.2C1294.3 1807.5 1303.1 1802.3 1308.7 1799.3C1314.3 1796.3 1319.1 1791.7 1325.1 1791.1C1331.1 1790.6 1337.4 1793.1 1344.8 1796.1C1352.1 1799.1 1361.1 1805.9 1369.3 1809.2C1377.5 1812.5 1385.7 1814.6 1393.9 1815.7C1402.1 1816.8 1410.3 1817.1 1418.5 1815.7C1426.7 1814.4 1436.3 1810.0 1443.1 1807.5C1449.9 1805.1 1454.6 1802.8 1459.5 1801.0C1464.4 1799.2 1470.4 1797.6 1472.6 1796.9" stroke-width="15.5"/><circle cx="1349.7" cy="1775.6" r="9.6" fill="#3b33a2" stroke="none"/><circle cx="1291.5" cy="1809.5" r="9.6" fill="#3b33a2" stroke="none"/><circle cx="1471.8" cy="1796.9" r="9.6" fill="#3b33a2" stroke="none"/><circle cx="1423.4" cy="1728.9" r="9.6" fill="#3b33a2" stroke="none"/></g><g filter="url(#blc)" stroke="#4659b0"><path d="M1349.7 1775.6C1353.0 1774.1 1362.0 1769.7 1369.3 1766.6C1376.7 1763.4 1387.1 1760.3 1393.9 1756.7C1400.8 1753.2 1406.2 1749.6 1410.3 1745.2C1414.4 1740.9 1415.8 1733.8 1418.5 1730.5C1421.3 1727.2 1424.8 1723.7 1426.7 1725.6C1428.6 1727.5 1428.1 1735.1 1430.0 1742.0C1431.9 1748.8 1433.8 1758.6 1438.2 1766.6C1442.6 1774.5 1450.5 1784.5 1456.2 1789.5C1462.0 1794.6 1469.9 1795.7 1472.6 1796.9" stroke-width="8.5"/><path d="M1291.5 1809.2C1294.3 1807.5 1303.1 1802.3 1308.7 1799.3C1314.3 1796.3 1319.1 1791.7 1325.1 1791.1C1331.1 1790.6 1337.4 1793.1 1344.8 1796.1C1352.1 1799.1 1361.1 1805.9 1369.3 1809.2C1377.5 1812.5 1385.7 1814.6 1393.9 1815.7C1402.1 1816.8 1410.3 1817.1 1418.5 1815.7C1426.7 1814.4 1436.3 1810.0 1443.1 1807.5C1449.9 1805.1 1454.6 1802.8 1459.5 1801.0C1464.4 1799.2 1470.4 1797.6 1472.6 1796.9" stroke-width="8.5"/></g><g filter="url(#bl2)"></g></g>
<circle cx="1291.5" cy="1809.5" r="6.0" fill="url(#cyan)"/>
<circle cx="1471.8" cy="1796.9" r="6.0" fill="url(#cyan)"/>
<circle cx="1349.7" cy="1775.6" r="7.0" fill="url(#hot)"/>
</g>
<circle cx="1384.0" cy="1808.6" r="134.0" fill="none" stroke="#0ca550" stroke-width="6.3"/>
<rect x="1239.00" y="1668.30" width="67.50" height="29.00" fill="#fff" stroke="#231f20" stroke-width="1.2" />
<text transform="translate(1243.40 1690.30)" x="-1.85" y="0" font-size="22.5" textLength="60.48" lengthAdjust="spacingAndGlyphs" fill="#231f20">Day 4</text>
<clipPath id="cp12"><rect x="1545.6" y="1670.7" width="284.4" height="281.9"/></clipPath>
<g clip-path="url(#cp12)">
<rect x="1545.6" y="1670.7" width="284.4" height="281.9" fill="#151515"/>
<rect x="1545.6" y="1670.7" width="62" height="283" fill="#8f8f8f"/><rect x="1545.6" y="1704.7" width="40" height="36" fill="#b8b8b8"/><rect x="1607.6" y="1670.7" width="150" height="30" fill="#b5b5b5"/><rect x="1755.6" y="1670.7" width="75" height="60" fill="#0a0a0a"/><path d="M1545.6 1820.7l60 70v63h-60z" fill="#4a4a4a"/><path d="M1545.6 1885.7l45 30v38h-45z" fill="#8a8a8a"/><path d="M1605.6 1953.7l60-45h165v45z" fill="#2e2e2e"/><path d="M1780.6 1953.7l50-50v50z" fill="#777"/><path d="M1800.6 1800.7h30v60h-30z" fill="#555"/>
<circle cx="1689.0" cy="1813.3" r="136.0" fill="url(#wallk)"/>
<circle cx="1688.2" cy="1813.3" r="96.7" fill="url(#disc2)" filter="url(#bl3)"/>
<g fill="none" stroke-linecap="round" stroke-linejoin="round"><g filter="url(#bl)" stroke="#3b33a2"><path d="M1655.4 1773.1C1659.1 1772.0 1669.8 1768.2 1677.5 1766.6C1685.3 1764.9 1695.3 1762.5 1702.1 1763.3C1709.0 1764.1 1714.4 1767.4 1718.5 1771.5C1722.6 1775.6 1725.5 1780.5 1726.7 1787.9C1728.0 1795.2 1725.9 1807.0 1725.9 1815.7C1725.9 1824.5 1726.9 1833.8 1726.7 1840.3C1726.6 1846.9 1727.8 1851.8 1725.1 1855.1C1722.3 1858.4 1716.9 1859.2 1710.3 1860.0C1703.8 1860.8 1693.9 1859.2 1685.7 1860.0C1677.5 1860.8 1668.5 1863.0 1661.1 1864.9C1653.8 1866.8 1646.7 1870.1 1641.5 1871.5C1636.3 1872.8 1631.9 1872.8 1630.0 1873.1" stroke-width="15.5"/><circle cx="1655.4" cy="1773.1" r="9.6" fill="#3b33a2" stroke="none"/><circle cx="1630.3" cy="1872.8" r="9.6" fill="#3b33a2" stroke="none"/></g><g filter="url(#blc)" stroke="#4659b0"><path d="M1655.4 1773.1C1659.1 1772.0 1669.8 1768.2 1677.5 1766.6C1685.3 1764.9 1695.3 1762.5 1702.1 1763.3C1709.0 1764.1 1714.4 1767.4 1718.5 1771.5C1722.6 1775.6 1725.5 1780.5 1726.7 1787.9C1728.0 1795.2 1725.9 1807.0 1725.9 1815.7C1725.9 1824.5 1726.9 1833.8 1726.7 1840.3C1726.6 1846.9 1727.8 1851.8 1725.1 1855.1C1722.3 1858.4 1716.9 1859.2 1710.3 1860.0C1703.8 1860.8 1693.9 1859.2 1685.7 1860.0C1677.5 1860.8 1668.5 1863.0 1661.1 1864.9C1653.8 1866.8 1646.7 1870.1 1641.5 1871.5C1636.3 1872.8 1631.9 1872.8 1630.0 1873.1" stroke-width="8.5"/></g><g filter="url(#bl2)"></g></g>
<circle cx="1630.3" cy="1872.8" r="6.0" fill="url(#cyan)"/>
<circle cx="1655.4" cy="1773.1" r="7.0" fill="url(#hot)"/>
</g>
<circle cx="1689.0" cy="1813.3" r="134.4" fill="none" stroke="#ee6a25" stroke-width="6.3"/>
<rect x="1543.90" y="1671.50" width="67.50" height="28.50" fill="#fff" stroke="#231f20" stroke-width="1.2" />
<text transform="translate(1548.30 1693.00)" x="-1.85" y="0" font-size="22.5" textLength="60.48" lengthAdjust="spacingAndGlyphs" fill="#231f20">Day 4</text>
</svg>
</body>
</html>
